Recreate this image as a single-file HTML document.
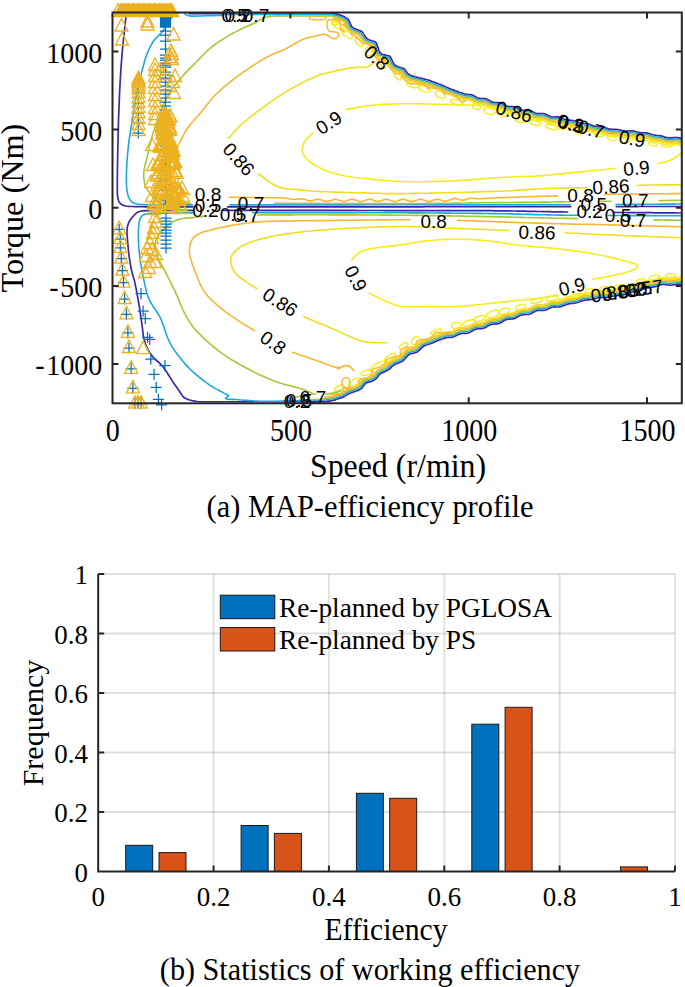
<!DOCTYPE html>
<html><head><meta charset="utf-8"><style>
html,body{margin:0;padding:0;background:#fff;}
body{width:685px;height:987px;overflow:hidden;font-family:"Liberation Serif",serif;}
svg{display:block;}
</style></head><body>
<svg width="685" height="987" viewBox="0 0 685 987">
<defs><clipPath id="cp"><rect x="113" y="13" width="568.5" height="389.5"/></clipPath></defs>
<g clip-path="url(#cp)">
<path d="M222.0,12.9 L222.8,12.9 L223.6,12.9 L224.4,12.9 L225.2,12.9 L226.0,12.9 L226.8,12.9 L227.6,12.9 L228.4,12.9 L229.2,12.9 L230.0,12.9 L230.8,12.9 L231.6,12.9 L232.5,12.9 L233.3,12.9 L234.1,12.9 L234.9,12.9 L235.7,12.9 L236.5,12.9 L237.3,12.9 L238.1,12.9 L238.9,12.9 L239.7,12.9 L240.5,12.9 L241.3,12.9 L242.1,12.9 L242.9,12.9 L243.7,12.9 L244.5,12.9 L245.3,12.9 L246.1,12.9 L246.9,12.9 L247.7,12.9 L248.5,12.9 L249.3,12.9 L250.1,12.9 L250.9,12.9 L251.8,12.9 L252.6,12.9 L253.4,12.9 L254.2,12.9 L255.0,12.9 L255.8,12.9 L256.6,12.9 L257.4,12.9 L258.2,12.9 L259.0,12.9 L259.8,12.9 L260.6,12.9 L261.4,12.9 L262.2,12.9 L263.0,12.9 L263.8,12.9 L264.6,12.9 L265.4,12.9 L266.2,12.9 L267.0,12.9 L267.8,12.9 L268.6,12.9 L269.4,12.9 L270.2,12.9 L271.1,12.9 L271.9,12.9 L272.7,12.9 L273.5,12.9 L274.3,12.9 L275.1,12.9 L275.9,12.9 L276.7,12.9 L277.5,12.9 L278.3,12.9 L279.1,12.9 L279.9,12.9 L280.7,12.9 L281.5,12.9 L282.3,12.9 L283.1,12.9 L283.9,12.9 L284.7,12.9 L285.5,12.9 L286.3,12.9 L287.1,12.9 L287.9,12.9 L288.7,12.9 L289.5,12.9 L290.4,12.9 L291.2,12.9 L292.0,12.9 L292.8,12.9 L293.6,12.9 L294.4,12.9 L295.2,12.9 L296.0,12.9 L296.8,12.9 L297.6,12.9 L298.4,12.9 L299.2,12.9 L300.0,12.9 L300.8,12.9 L301.6,12.9 L302.4,12.9 L303.3,12.9 L304.1,12.9 L304.9,12.9 L305.7,12.9 L306.5,12.9 L307.3,12.9 L308.1,12.9 L309.0,12.9 L309.8,12.9 L310.6,12.9 L311.4,12.9 L312.2,12.9 L313.0,12.9 L313.9,12.9 L314.7,12.9 L315.5,12.9 L316.3,12.9 L317.1,12.9 L317.9,12.9 L318.7,12.9 L319.6,12.9 L320.4,12.9 L321.2,12.9 L322.0,12.9 L322.8,12.9 L323.7,12.9 L324.5,12.9 L325.4,12.9 L326.2,13.0 L327.0,13.0 L327.9,13.0 L328.7,13.0 L329.6,13.0 L330.4,13.0 L331.2,13.1 L332.0,13.2 L332.9,13.4 L333.7,13.5 L334.5,13.6 L335.4,13.8 L336.2,13.9 L337.0,14.1 L337.8,14.3 L338.6,14.6 L339.3,14.8 L340.1,15.1 L340.9,15.4 L341.7,15.7 L342.4,15.9 L343.2,16.2 L344.0,16.6 L344.7,17.0 L345.5,17.4 L346.2,17.9 L347.0,18.4 L347.7,18.9 L348.3,19.4 L348.8,20.1 L349.1,20.9 L349.5,21.7 L349.8,22.5 L350.1,23.3 L350.4,24.1 L350.8,24.9 L351.1,25.7 L351.5,26.4 L352.1,27.0 L352.7,27.5 L353.4,28.0 L354.1,28.4 L354.8,28.8 L355.6,29.1 L356.4,29.4 L357.2,29.7 L358.0,30.0 L358.8,30.3 L359.6,30.6 L360.4,30.9 L361.2,31.2 L361.9,31.6 L362.4,32.2 L362.9,32.9 L363.3,33.6 L363.7,34.2 L364.1,34.9 L364.5,35.6 L365.0,36.3 L365.5,37.0 L366.1,37.6 L366.7,38.2 L367.4,38.9 L368.1,39.4 L368.8,39.7 L369.6,40.0 L370.4,40.2 L371.2,40.5 L372.0,40.8 L372.8,41.0 L373.6,41.2 L374.4,41.5 L375.2,41.8 L375.8,42.2 L376.2,42.8 L376.5,43.5 L376.8,44.3 L377.0,45.1 L377.3,45.8 L377.6,46.6 L377.8,47.4 L378.1,48.2 L378.4,48.9 L378.6,49.7 L378.9,50.5 L379.2,51.2 L379.5,51.9 L380.1,52.6 L380.7,53.2 L381.4,53.8 L382.1,54.3 L382.8,54.6 L383.6,54.8 L384.4,54.9 L385.2,55.1 L386.0,55.2 L386.8,55.4 L387.6,55.5 L388.4,55.7 L389.2,55.9 L389.8,56.2 L390.3,56.8 L390.7,57.5 L391.0,58.2 L391.4,59.0 L391.8,59.8 L392.1,60.5 L392.4,61.2 L392.8,62.0 L393.2,62.7 L393.6,63.5 L394.1,64.1 L394.8,64.8 L395.4,65.4 L396.1,65.9 L396.8,66.2 L397.5,66.5 L398.3,66.8 L399.1,67.0 L399.9,67.3 L400.6,67.5 L401.4,67.8 L402.2,68.0 L403.0,68.3 L403.7,68.6 L404.4,69.0 L405.0,69.6 L405.5,70.4 L406.0,71.2 L406.5,71.9 L407.0,72.7 L407.6,73.4 L408.3,73.9 L409.0,74.3 L409.8,74.8 L410.5,75.2 L411.3,75.6 L412.0,75.9 L412.8,76.2 L413.6,76.4 L414.4,76.6 L415.1,76.8 L415.9,77.0 L416.7,77.2 L417.5,77.4 L418.3,77.6 L419.1,77.8 L419.9,78.0 L420.6,78.1 L421.4,78.3 L422.2,78.5 L423.0,78.7 L423.8,78.9 L424.6,79.1 L425.4,79.3 L426.1,79.5 L426.9,79.7 L427.7,79.9 L428.5,80.1 L429.3,80.4 L430.0,80.7 L430.8,80.9 L431.6,81.2 L432.3,81.5 L433.1,81.8 L433.9,82.1 L434.6,82.3 L435.4,82.6 L436.2,82.9 L436.9,83.2 L437.7,83.5 L438.5,83.7 L439.2,84.0 L440.0,84.3 L440.8,84.7 L441.6,85.0 L442.4,85.4 L443.3,85.8 L444.1,86.1 L444.9,86.5 L445.7,86.8 L446.5,87.2 L447.3,87.5 L448.1,87.8 L448.8,88.2 L449.6,88.5 L450.4,88.8 L451.2,89.2 L452.0,89.5 L452.8,89.8 L453.6,90.1 L454.4,90.4 L455.2,90.7 L456.0,91.0 L456.8,91.3 L457.6,91.6 L458.4,91.9 L459.2,92.2 L460.0,92.5 L460.8,92.7 L461.7,92.9 L462.5,93.2 L463.3,93.5 L464.1,93.8 L464.9,94.0 L465.7,94.3 L466.5,94.4 L467.3,94.5 L468.2,94.6 L469.0,94.6 L469.9,94.6 L470.7,94.7 L471.5,94.8 L472.3,95.0 L473.0,95.3 L473.8,95.7 L474.5,96.1 L475.3,96.6 L476.0,97.0 L476.7,97.4 L477.5,97.8 L478.2,98.0 L479.0,98.3 L479.8,98.4 L480.7,98.5 L481.5,98.5 L482.4,98.5 L483.3,98.5 L484.1,98.5 L485.0,98.6 L485.8,98.7 L486.6,99.0 L487.4,99.3 L488.1,99.7 L488.9,100.1 L489.6,100.5 L490.3,101.0 L491.1,101.4 L491.8,101.8 L492.6,102.1 L493.4,102.3 L494.2,102.5 L495.1,102.6 L495.9,102.6 L496.8,102.6 L497.7,102.6 L498.5,102.6 L499.4,102.7 L500.2,102.8 L501.0,103.1 L501.8,103.4 L502.5,103.7 L503.3,104.1 L504.0,104.6 L504.7,105.0 L505.5,105.5 L506.2,105.8 L507.0,106.1 L507.8,106.4 L508.6,106.5 L509.5,106.6 L510.3,106.6 L511.2,106.6 L512.1,106.6 L512.9,106.6 L513.8,106.7 L514.6,106.8 L515.4,107.0 L516.2,107.3 L516.9,107.7 L517.7,108.1 L518.4,108.5 L519.1,109.0 L519.9,109.4 L520.7,109.8 L521.4,110.0 L522.2,110.2 L523.1,110.3 L523.9,110.4 L524.7,110.4 L525.6,110.3 L526.4,110.3 L527.3,110.2 L528.1,110.2 L528.9,110.3 L529.8,110.5 L530.5,110.7 L531.3,111.0 L532.1,111.4 L532.8,111.8 L533.6,112.2 L534.3,112.6 L535.1,113.0 L535.9,113.2 L536.6,113.5 L537.5,113.6 L538.3,113.7 L539.1,113.7 L540.0,113.6 L540.8,113.6 L541.6,113.5 L542.5,113.5 L543.3,113.6 L544.1,113.7 L544.8,113.9 L545.6,114.2 L546.4,114.5 L547.1,114.9 L547.8,115.3 L548.6,115.7 L549.3,116.1 L550.0,116.4 L550.8,116.7 L551.6,116.8 L552.4,117.0 L553.2,117.0 L554.0,117.0 L554.9,116.9 L555.7,116.9 L556.5,116.9 L557.3,116.9 L558.2,116.9 L558.9,117.1 L559.7,117.3 L560.4,117.8 L561.2,118.1 L562.0,118.4 L562.7,118.7 L563.5,119.0 L564.3,119.3 L565.1,119.6 L565.8,119.8 L566.6,119.9 L567.4,120.1 L568.3,120.1 L569.1,120.2 L569.9,120.2 L570.7,120.3 L571.5,120.4 L572.4,120.5 L573.2,120.6 L573.9,120.8 L574.7,121.0 L575.5,121.3 L576.3,121.6 L577.0,121.9 L577.8,122.2 L578.6,122.5 L579.3,122.8 L580.1,123.0 L580.9,123.2 L581.7,123.3 L582.5,123.4 L583.3,123.5 L584.2,123.5 L585.0,123.6 L585.8,123.6 L586.6,123.7 L587.4,123.8 L588.2,124.0 L589.0,124.2 L589.8,124.4 L590.5,124.7 L591.3,125.0 L592.1,125.3 L592.8,125.6 L593.6,125.9 L594.4,126.1 L595.2,126.3 L596.0,126.5 L596.8,126.6 L597.6,126.7 L598.4,126.7 L599.2,126.8 L600.0,126.8 L600.9,126.9 L601.7,126.9 L602.5,127.0 L603.3,127.2 L604.1,127.4 L604.8,127.6 L605.6,127.9 L606.4,128.1 L607.2,128.4 L608.0,128.7 L608.7,128.9 L609.5,129.1 L610.3,129.2 L611.1,129.3 L612.0,129.4 L612.8,129.4 L613.6,129.4 L614.4,129.4 L615.2,129.4 L616.0,129.4 L616.9,129.5 L617.7,129.5 L618.5,129.7 L619.3,129.8 L620.1,130.0 L620.9,130.2 L621.7,130.4 L622.5,130.6 L623.3,130.8 L624.1,130.9 L624.9,131.0 L625.7,131.0 L626.5,131.0 L627.3,131.0 L628.1,131.0 L629.0,130.9 L629.8,130.8 L630.6,130.8 L631.4,130.8 L632.2,130.8 L633.0,130.9 L633.8,131.1 L634.6,131.3 L635.4,131.5 L636.2,131.8 L637.0,132.0 L637.8,132.2 L638.6,132.4 L639.3,132.6 L640.1,132.7 L641.0,132.8 L641.8,132.8 L642.6,132.8 L643.4,132.8 L644.2,132.8 L645.1,132.8 L645.9,132.8 L646.7,132.9 L647.6,133.1 L648.4,133.3 L649.2,133.5 L650.0,133.8 L650.8,134.0 L651.6,134.3 L652.5,134.6 L653.3,134.8 L654.1,135.0 L654.9,135.2 L655.8,135.3 L656.6,135.5 L657.5,135.5 L658.3,135.6 L659.2,135.7 L660.1,135.8 L660.9,135.9 L661.8,136.1 L662.6,136.3 L663.4,136.6 L664.2,136.9 L665.0,137.1 L665.8,137.4 L666.6,137.6 L667.4,137.7 L668.2,137.8 L669.0,137.9 L669.8,137.9 L670.6,137.9 L671.5,137.9 L672.3,137.8 L673.1,137.7 L673.9,137.6 L674.7,137.6 L675.5,137.5 L676.4,137.5 L677.2,137.5 L678.0,137.6 L678.8,137.8 L679.6,137.9 L680.4,138.1 L681.2,138.3 L682.0,138.4" stroke="#3e26a8" stroke-width="1.7" fill="none" stroke-linejoin="round" stroke-linecap="round"/>
<path d="M222.0,14.5 L222.8,14.5 L223.6,14.5 L224.4,14.5 L225.2,14.5 L226.0,14.5 L226.8,14.5 L227.6,14.5 L228.4,14.5 L229.2,14.5 L230.0,14.5 L230.8,14.5 L231.6,14.5 L232.5,14.5 L233.3,14.5 L234.1,14.5 L234.9,14.5 L235.7,14.5 L236.5,14.5 L237.3,14.5 L238.1,14.5 L238.9,14.5 L239.7,14.5 L240.5,14.5 L241.3,14.5 L242.1,14.5 L242.9,14.5 L243.7,14.5 L244.5,14.5 L245.3,14.5 L246.1,14.5 L246.9,14.5 L247.7,14.5 L248.5,14.5 L249.3,14.5 L250.1,14.5 L250.9,14.5 L251.8,14.5 L252.6,14.5 L253.4,14.5 L254.2,14.5 L255.0,14.5 L255.8,14.5 L256.6,14.5 L257.4,14.5 L258.2,14.5 L259.0,14.5 L259.8,14.5 L260.6,14.5 L261.4,14.5 L262.2,14.5 L263.0,14.5 L263.8,14.5 L264.6,14.5 L265.4,14.5 L266.2,14.5 L267.0,14.5 L267.8,14.5 L268.6,14.5 L269.4,14.5 L270.2,14.5 L271.1,14.5 L271.9,14.5 L272.7,14.5 L273.5,14.5 L274.3,14.5 L275.1,14.5 L275.9,14.5 L276.7,14.5 L277.5,14.5 L278.3,14.5 L279.1,14.5 L279.9,14.5 L280.7,14.5 L281.5,14.5 L282.3,14.5 L283.1,14.5 L283.9,14.5 L284.7,14.5 L285.5,14.5 L286.3,14.5 L287.1,14.5 L287.9,14.5 L288.7,14.5 L289.5,14.5 L290.4,14.5 L291.2,14.5 L292.0,14.5 L292.8,14.5 L293.6,14.5 L294.4,14.5 L295.2,14.5 L296.0,14.5 L296.8,14.5 L297.6,14.5 L298.4,14.5 L299.2,14.5 L300.0,14.5 L300.8,14.5 L301.6,14.5 L302.4,14.5 L303.3,14.5 L304.1,14.5 L304.9,14.5 L305.7,14.5 L306.5,14.5 L307.3,14.5 L308.1,14.5 L309.0,14.5 L309.8,14.5 L310.6,14.5 L311.4,14.5 L312.2,14.5 L313.0,14.5 L313.9,14.5 L314.7,14.5 L315.5,14.5 L316.3,14.5 L317.1,14.5 L317.9,14.5 L318.7,14.5 L319.6,14.5 L320.4,14.5 L321.2,14.5 L322.0,14.5 L322.8,14.5 L323.7,14.5 L324.5,14.5 L325.3,14.5 L326.2,14.5 L327.0,14.6 L327.9,14.6 L328.7,14.6 L329.5,14.6 L330.3,14.6 L331.0,14.7 L331.8,14.8 L332.6,15.0 L333.5,15.1 L334.3,15.2 L335.1,15.3 L335.9,15.5 L336.6,15.6 L337.3,15.8 L338.0,16.1 L338.8,16.3 L339.6,16.6 L340.4,16.9 L341.1,17.2 L341.9,17.4 L342.6,17.7 L343.3,18.0 L344.0,18.4 L344.7,18.8 L345.4,19.3 L346.1,19.7 L346.7,20.1 L347.1,20.5 L347.4,21.0 L347.7,21.6 L348.0,22.3 L348.3,23.1 L348.6,23.9 L349.0,24.7 L349.3,25.6 L349.7,26.5 L350.2,27.3 L350.9,28.1 L351.7,28.7 L352.5,29.3 L353.3,29.8 L354.1,30.2 L355.0,30.6 L355.8,30.9 L356.6,31.2 L357.4,31.5 L358.2,31.8 L359.0,32.1 L359.8,32.4 L360.4,32.6 L360.9,32.9 L361.2,33.3 L361.5,33.8 L361.9,34.4 L362.3,35.1 L362.8,35.8 L363.2,36.5 L363.7,37.2 L364.2,38.0 L364.9,38.7 L365.6,39.4 L366.4,40.1 L367.2,40.7 L368.1,41.2 L369.1,41.5 L369.9,41.8 L370.7,42.0 L371.5,42.3 L372.3,42.5 L373.1,42.8 L373.8,43.0 L374.4,43.2 L374.7,43.3 L374.9,43.7 L375.1,44.2 L375.3,44.8 L375.5,45.6 L375.8,46.4 L376.1,47.1 L376.3,47.9 L376.6,48.7 L376.8,49.4 L377.1,50.2 L377.4,51.0 L377.7,51.9 L378.2,52.8 L378.8,53.6 L379.6,54.4 L380.4,55.1 L381.3,55.7 L382.3,56.1 L383.2,56.4 L384.1,56.5 L384.9,56.7 L385.7,56.8 L386.5,57.0 L387.3,57.1 L388.0,57.2 L388.5,57.3 L388.8,57.5 L389.1,57.8 L389.3,58.3 L389.6,58.9 L390.0,59.7 L390.3,60.4 L390.7,61.2 L391.0,61.9 L391.4,62.7 L391.8,63.6 L392.3,64.4 L392.9,65.2 L393.6,65.9 L394.4,66.6 L395.2,67.2 L396.1,67.7 L397.0,68.0 L397.8,68.3 L398.6,68.5 L399.4,68.8 L400.1,69.0 L400.9,69.3 L401.7,69.6 L402.4,69.8 L402.9,70.0 L403.4,70.2 L403.8,70.7 L404.2,71.3 L404.7,72.0 L405.2,72.8 L405.8,73.7 L406.5,74.5 L407.3,75.2 L408.2,75.7 L409.0,76.1 L409.8,76.6 L410.6,77.0 L411.4,77.4 L412.3,77.7 L413.1,77.9 L414.0,78.1 L414.8,78.3 L415.5,78.5 L416.3,78.7 L417.1,78.9 L417.9,79.1 L418.7,79.3 L419.5,79.5 L420.3,79.7 L421.0,79.9 L421.8,80.1 L422.6,80.3 L423.4,80.5 L424.2,80.7 L425.0,80.9 L425.8,81.1 L426.5,81.3 L427.3,81.5 L428.0,81.7 L428.8,81.9 L429.5,82.2 L430.3,82.4 L431.0,82.7 L431.8,83.0 L432.6,83.3 L433.3,83.6 L434.1,83.8 L434.9,84.1 L435.6,84.4 L436.4,84.7 L437.1,85.0 L437.9,85.2 L438.7,85.5 L439.4,85.8 L440.2,86.1 L441.0,86.5 L441.8,86.9 L442.6,87.2 L443.4,87.6 L444.3,88.0 L445.1,88.3 L445.9,88.6 L446.6,89.0 L447.4,89.3 L448.2,89.6 L449.0,90.0 L449.8,90.3 L450.6,90.6 L451.4,91.0 L452.2,91.3 L453.0,91.6 L453.8,91.9 L454.6,92.2 L455.4,92.5 L456.2,92.8 L457.0,93.1 L457.9,93.4 L458.7,93.7 L459.5,94.0 L460.4,94.2 L461.2,94.5 L462.1,94.7 L462.9,95.0 L463.7,95.3 L464.5,95.6 L465.3,95.8 L466.1,96.0 L466.9,96.1 L467.8,96.1 L468.6,96.1 L469.5,96.1 L470.3,96.2 L471.1,96.4 L471.9,96.6 L472.6,96.9 L473.4,97.3 L474.1,97.7 L474.8,98.1 L475.6,98.6 L476.3,99.0 L477.1,99.3 L477.8,99.6 L478.6,99.8 L479.4,99.9 L480.3,100.0 L481.1,100.0 L482.0,100.0 L482.8,100.0 L483.7,100.0 L484.5,100.1 L485.4,100.3 L486.1,100.5 L486.9,100.8 L487.7,101.2 L488.4,101.6 L489.2,102.1 L489.9,102.5 L490.6,103.0 L491.4,103.3 L492.2,103.7 L493.0,103.9 L493.8,104.0 L494.6,104.1 L495.5,104.1 L496.4,104.1 L497.2,104.1 L498.1,104.1 L498.9,104.2 L499.8,104.4 L500.6,104.6 L501.3,104.9 L502.1,105.3 L502.8,105.7 L503.6,106.1 L504.3,106.6 L505.1,107.0 L505.8,107.4 L506.6,107.7 L507.4,107.9 L508.2,108.1 L509.1,108.1 L509.9,108.1 L510.8,108.1 L511.6,108.1 L512.5,108.1 L513.3,108.2 L514.2,108.3 L515.0,108.6 L515.7,108.8 L516.5,109.2 L517.2,109.6 L518.0,110.1 L518.7,110.5 L519.5,111.0 L520.3,111.3 L521.1,111.6 L521.9,111.8 L522.7,111.9 L523.5,111.9 L524.4,111.9 L525.2,111.9 L526.1,111.8 L526.9,111.8 L527.8,111.8 L528.6,111.9 L529.4,112.0 L530.2,112.3 L531.0,112.6 L531.7,113.0 L532.5,113.4 L533.2,113.8 L534.0,114.2 L534.7,114.5 L535.5,114.8 L536.3,115.0 L537.1,115.2 L537.9,115.2 L538.8,115.2 L539.6,115.2 L540.5,115.1 L541.3,115.1 L542.1,115.1 L542.9,115.1 L543.7,115.3 L544.5,115.5 L545.3,115.7 L546.0,116.1 L546.7,116.5 L547.5,116.9 L548.2,117.3 L548.9,117.6 L549.7,118.0 L550.4,118.2 L551.2,118.4 L552.0,118.5 L552.8,118.6 L553.7,118.5 L554.5,118.5 L555.3,118.4 L556.2,118.4 L557.0,118.4 L557.8,118.5 L558.6,118.7 L559.4,118.9 L560.1,119.4 L560.9,119.7 L561.6,120.0 L562.4,120.3 L563.2,120.6 L563.9,120.9 L564.7,121.1 L565.5,121.3 L566.3,121.5 L567.1,121.6 L567.9,121.7 L568.7,121.8 L569.6,121.8 L570.4,121.9 L571.2,121.9 L572.0,122.0 L572.8,122.2 L573.6,122.4 L574.4,122.6 L575.1,122.9 L575.9,123.2 L576.7,123.5 L577.4,123.8 L578.2,124.1 L579.0,124.3 L579.8,124.6 L580.6,124.7 L581.4,124.9 L582.2,125.0 L583.0,125.0 L583.8,125.1 L584.6,125.1 L585.5,125.2 L586.3,125.3 L587.1,125.4 L587.9,125.5 L588.7,125.8 L589.4,126.0 L590.2,126.3 L591.0,126.6 L591.7,126.9 L592.5,127.2 L593.3,127.5 L594.0,127.7 L594.8,127.9 L595.6,128.1 L596.4,128.2 L597.2,128.2 L598.1,128.3 L598.9,128.3 L599.7,128.4 L600.6,128.4 L601.4,128.5 L602.2,128.6 L603.0,128.8 L603.8,128.9 L604.6,129.2 L605.3,129.4 L606.1,129.7 L606.9,130.0 L607.7,130.2 L608.5,130.5 L609.3,130.6 L610.1,130.8 L610.9,130.9 L611.7,130.9 L612.5,131.0 L613.3,131.0 L614.2,131.0 L615.0,131.0 L615.8,131.0 L616.7,131.1 L617.5,131.1 L618.3,131.2 L619.1,131.4 L619.9,131.6 L620.7,131.8 L621.5,132.0 L622.3,132.2 L623.1,132.3 L623.9,132.5 L624.7,132.6 L625.5,132.6 L626.4,132.6 L627.2,132.6 L628.0,132.5 L628.8,132.5 L629.6,132.4 L630.5,132.4 L631.3,132.4 L632.1,132.4 L632.9,132.5 L633.6,132.7 L634.4,132.9 L635.2,133.1 L636.0,133.4 L636.8,133.6 L637.5,133.8 L638.3,134.0 L639.1,134.2 L639.9,134.3 L640.7,134.4 L641.5,134.4 L642.4,134.4 L643.2,134.4 L644.0,134.4 L644.8,134.4 L645.6,134.4 L646.5,134.5 L647.3,134.6 L648.1,134.8 L648.9,135.1 L649.7,135.3 L650.6,135.6 L651.4,135.9 L652.2,136.2 L653.0,136.4 L653.8,136.6 L654.6,136.8 L655.4,136.9 L656.2,137.0 L657.1,137.1 L657.9,137.2 L658.8,137.2 L659.7,137.3 L660.5,137.5 L661.4,137.6 L662.2,137.9 L663.0,138.1 L663.9,138.4 L664.8,138.7 L665.6,139.0 L666.5,139.2 L667.3,139.3 L668.1,139.4 L668.9,139.5 L669.8,139.5 L670.6,139.5 L671.4,139.5 L672.2,139.4 L673.0,139.3 L673.8,139.2 L674.6,139.2 L675.5,139.1 L676.3,139.1 L677.1,139.1 L677.9,139.2 L678.7,139.4 L679.5,139.5 L680.3,139.7 L681.1,139.9 L681.9,140.0" stroke="#1aa9db" stroke-width="1.5" fill="none" stroke-linejoin="round" stroke-linecap="round"/>
<path d="M278.3,15.9 L279.1,15.9 L279.9,15.9 L280.7,15.9 L281.5,15.9 L282.3,15.9 L283.1,15.9 L283.9,15.9 L284.7,15.9 L285.5,15.9 L286.3,15.9 L287.1,15.9 L287.9,15.9 L288.7,15.9 L289.5,15.9 L290.4,15.9 L291.2,15.9 L292.0,15.9 L292.8,15.9 L293.6,15.9 L294.4,15.9 L295.2,15.9 L296.0,15.9 L296.8,15.9 L297.6,15.9 L298.4,15.9 L299.2,15.9 L300.0,15.9 L300.8,15.9 L301.6,15.9 L302.4,15.9 L303.3,15.9 L304.1,15.9 L304.9,15.9 L305.7,15.9 L306.5,15.9 L307.3,15.9 L308.1,15.9 L309.0,15.9 L309.8,15.9 L310.6,15.9 L311.4,15.9 L312.2,15.9 L313.0,15.9 L313.9,15.9 L314.7,15.9 L315.5,15.9 L316.3,15.9 L317.1,15.9 L317.9,15.9 L318.7,15.9 L319.6,15.9 L320.4,15.9 L321.2,15.9 L322.0,15.9 L322.8,15.9 L323.6,15.9 L324.5,15.9 L325.3,15.9 L326.2,15.9 L327.0,16.0 L327.8,16.0 L328.6,16.0 L329.4,16.0 L330.2,16.0 L330.9,16.1 L331.6,16.2 L332.4,16.3 L333.3,16.5 L334.1,16.6 L334.8,16.7 L335.6,16.8 L336.3,17.0 L336.9,17.2 L337.6,17.4 L338.3,17.7 L339.1,17.9 L339.9,18.2 L340.6,18.5 L341.4,18.7 L342.0,19.0 L342.7,19.3 L343.3,19.6 L344.0,20.0 L344.7,20.4 L345.3,20.8 L345.8,21.1 L346.0,21.4 L346.2,21.7 L346.4,22.2 L346.7,22.8 L347.0,23.6 L347.3,24.4 L347.7,25.2 L348.0,26.1 L348.5,27.2 L349.1,28.2 L349.9,29.1 L350.8,29.8 L351.7,30.5 L352.6,31.1 L353.5,31.5 L354.5,31.9 L355.3,32.2 L356.1,32.5 L356.9,32.8 L357.7,33.1 L358.5,33.4 L359.2,33.6 L359.7,33.8 L360.0,34.0 L360.2,34.2 L360.4,34.6 L360.7,35.2 L361.1,35.8 L361.6,36.5 L362.0,37.3 L362.6,38.1 L363.2,38.9 L363.9,39.7 L364.7,40.5 L365.5,41.2 L366.5,41.9 L367.6,42.5 L368.6,42.8 L369.5,43.1 L370.3,43.4 L371.1,43.6 L371.9,43.9 L372.7,44.1 L373.3,44.3 L373.6,44.4 L373.7,44.4 L373.7,44.4 L373.8,44.7 L374.0,45.3 L374.2,46.0 L374.5,46.8 L374.7,47.6 L375.0,48.4 L375.3,49.1 L375.5,49.9 L375.8,50.7 L376.1,51.6 L376.5,52.6 L377.0,53.6 L377.8,54.5 L378.6,55.4 L379.6,56.3 L380.6,57.0 L381.8,57.4 L382.9,57.7 L383.8,57.9 L384.6,58.0 L385.4,58.2 L386.2,58.3 L387.0,58.5 L387.6,58.6 L387.9,58.6 L388.0,58.6 L388.0,58.7 L388.1,59.0 L388.3,59.6 L388.7,60.3 L389.0,61.0 L389.4,61.8 L389.7,62.5 L390.1,63.4 L390.6,64.3 L391.2,65.2 L391.9,66.1 L392.6,66.9 L393.5,67.7 L394.5,68.4 L395.5,68.9 L396.5,69.3 L397.4,69.6 L398.2,69.9 L398.9,70.1 L399.7,70.4 L400.5,70.6 L401.2,70.9 L401.8,71.1 L402.2,71.2 L402.5,71.3 L402.7,71.6 L403.1,72.1 L403.5,72.8 L404.0,73.7 L404.7,74.6 L405.5,75.5 L406.5,76.3 L407.4,76.9 L408.3,77.4 L409.1,77.8 L410.0,78.3 L410.9,78.7 L411.9,79.0 L412.8,79.3 L413.6,79.5 L414.4,79.7 L415.2,79.9 L416.0,80.1 L416.8,80.3 L417.6,80.5 L418.3,80.7 L419.1,80.9 L419.9,81.1 L420.7,81.3 L421.5,81.4 L422.3,81.6 L423.1,81.8 L423.8,82.0 L424.6,82.2 L425.4,82.4 L426.2,82.6 L426.9,82.8 L427.6,83.0 L428.3,83.2 L429.0,83.5 L429.8,83.8 L430.5,84.0 L431.3,84.3 L432.1,84.6 L432.8,84.9 L433.6,85.2 L434.4,85.4 L435.1,85.7 L435.9,86.0 L436.7,86.3 L437.4,86.6 L438.2,86.8 L438.9,87.1 L439.6,87.4 L440.4,87.8 L441.2,88.1 L442.0,88.5 L442.9,88.9 L443.7,89.2 L444.5,89.6 L445.3,89.9 L446.1,90.3 L446.9,90.6 L447.7,90.9 L448.5,91.3 L449.3,91.6 L450.1,91.9 L450.9,92.3 L451.7,92.6 L452.5,92.9 L453.3,93.2 L454.1,93.5 L454.9,93.8 L455.7,94.1 L456.6,94.4 L457.4,94.7 L458.2,95.0 L459.1,95.3 L460.0,95.6 L460.9,95.8 L461.7,96.1 L462.5,96.4 L463.4,96.7 L464.2,96.9 L465.0,97.2 L465.8,97.3 L466.6,97.4 L467.4,97.5 L468.2,97.5 L469.1,97.5 L469.9,97.6 L470.7,97.7 L471.5,97.9 L472.3,98.2 L473.0,98.6 L473.8,99.0 L474.5,99.5 L475.2,99.9 L475.9,100.3 L476.7,100.7 L477.5,100.9 L478.2,101.1 L479.0,101.3 L479.9,101.3 L480.7,101.4 L481.6,101.4 L482.4,101.4 L483.3,101.4 L484.1,101.5 L485.0,101.6 L485.8,101.8 L486.5,102.2 L487.3,102.5 L488.0,103.0 L488.8,103.4 L489.5,103.9 L490.3,104.3 L491.0,104.7 L491.8,105.0 L492.6,105.2 L493.4,105.4 L494.3,105.4 L495.1,105.5 L496.0,105.5 L496.8,105.5 L497.7,105.5 L498.6,105.6 L499.4,105.7 L500.2,105.9 L501.0,106.2 L501.7,106.6 L502.5,107.0 L503.2,107.5 L503.9,107.9 L504.7,108.4 L505.4,108.7 L506.2,109.0 L507.0,109.3 L507.8,109.4 L508.7,109.5 L509.5,109.5 L510.4,109.5 L511.3,109.5 L512.1,109.5 L513.0,109.6 L513.8,109.7 L514.6,109.9 L515.4,110.2 L516.1,110.6 L516.9,111.0 L517.6,111.4 L518.4,111.9 L519.2,112.3 L520.0,112.7 L520.8,112.9 L521.6,113.1 L522.4,113.3 L523.2,113.3 L524.1,113.3 L524.9,113.2 L525.8,113.2 L526.6,113.2 L527.5,113.2 L528.3,113.2 L529.1,113.4 L529.9,113.6 L530.7,114.0 L531.4,114.3 L532.2,114.7 L532.9,115.1 L533.7,115.5 L534.4,115.9 L535.2,116.2 L536.0,116.4 L536.8,116.5 L537.6,116.6 L538.5,116.6 L539.3,116.5 L540.1,116.5 L541.0,116.5 L541.8,116.5 L542.6,116.5 L543.4,116.6 L544.2,116.8 L544.9,117.1 L545.7,117.5 L546.4,117.8 L547.2,118.2 L547.9,118.6 L548.6,119.0 L549.4,119.3 L550.1,119.6 L550.9,119.8 L551.7,119.9 L552.5,119.9 L553.4,119.9 L554.2,119.9 L555.0,119.8 L555.9,119.8 L556.7,119.8 L557.5,119.9 L558.3,120.0 L559.1,120.3 L559.8,120.8 L560.6,121.1 L561.3,121.4 L562.1,121.7 L562.8,122.0 L563.6,122.3 L564.4,122.5 L565.2,122.7 L566.0,122.9 L566.8,123.0 L567.6,123.1 L568.4,123.1 L569.2,123.2 L570.1,123.2 L570.9,123.3 L571.7,123.4 L572.5,123.5 L573.3,123.7 L574.1,124.0 L574.8,124.2 L575.6,124.5 L576.4,124.8 L577.1,125.1 L577.9,125.4 L578.7,125.7 L579.5,125.9 L580.3,126.1 L581.1,126.2 L581.9,126.3 L582.7,126.4 L583.5,126.5 L584.3,126.5 L585.2,126.6 L586.0,126.6 L586.8,126.8 L587.6,126.9 L588.3,127.1 L589.1,127.4 L589.9,127.6 L590.7,128.0 L591.4,128.3 L592.2,128.6 L593.0,128.8 L593.7,129.1 L594.5,129.3 L595.3,129.4 L596.1,129.5 L596.9,129.6 L597.8,129.7 L598.6,129.7 L599.5,129.8 L600.3,129.8 L601.1,129.9 L601.9,130.0 L602.7,130.1 L603.5,130.3 L604.3,130.6 L605.1,130.8 L605.9,131.1 L606.7,131.4 L607.4,131.6 L608.2,131.8 L609.0,132.0 L609.8,132.2 L610.6,132.3 L611.4,132.3 L612.3,132.3 L613.1,132.4 L613.9,132.4 L614.8,132.4 L615.7,132.4 L616.5,132.5 L617.4,132.5 L618.2,132.6 L619.0,132.8 L619.8,133.0 L620.6,133.2 L621.4,133.4 L622.2,133.6 L623.0,133.7 L623.8,133.9 L624.6,134.0 L625.4,134.0 L626.2,134.0 L627.1,134.0 L627.9,133.9 L628.7,133.9 L629.5,133.8 L630.3,133.8 L631.1,133.8 L631.9,133.8 L632.7,133.9 L633.5,134.1 L634.2,134.3 L635.0,134.5 L635.8,134.7 L636.6,135.0 L637.3,135.2 L638.1,135.4 L638.9,135.6 L639.7,135.7 L640.5,135.7 L641.3,135.8 L642.2,135.8 L643.0,135.8 L643.8,135.7 L644.6,135.7 L645.4,135.8 L646.2,135.9 L647.0,136.0 L647.9,136.2 L648.7,136.4 L649.5,136.7 L650.3,137.0 L651.1,137.3 L651.9,137.6 L652.7,137.8 L653.5,138.0 L654.3,138.1 L655.1,138.3 L655.9,138.4 L656.7,138.5 L657.6,138.5 L658.5,138.6 L659.3,138.7 L660.2,138.8 L661.0,139.0 L661.9,139.2 L662.7,139.5 L663.6,139.8 L664.6,140.1 L665.5,140.4 L666.4,140.6 L667.2,140.7 L668.1,140.8 L668.9,140.9 L669.7,140.9 L670.5,140.9 L671.3,140.9 L672.1,140.8 L672.9,140.7 L673.8,140.6 L674.6,140.5 L675.4,140.5 L676.2,140.5 L677.0,140.5 L677.8,140.6 L678.6,140.8 L679.4,140.9 L680.2,141.1 L681.0,141.3 L681.8,141.4" stroke="#a3c83a" stroke-width="1.5" fill="none" stroke-linejoin="round" stroke-linecap="round"/>
<path d="M333.9,18.0 L334.6,18.1 L335.3,18.2 L335.9,18.3 L336.5,18.5 L337.2,18.7 L337.9,19.0 L338.6,19.3 L339.4,19.5 L340.2,19.8 L340.9,20.1 L341.5,20.3 L342.1,20.5 L342.6,20.8 L343.2,21.2 L343.9,21.6 L344.5,22.0 L344.8,22.2 L345.0,22.3 L345.0,22.4 L345.2,22.8 L345.4,23.4 L345.7,24.1 L346.0,24.9 L346.4,25.8 L346.8,26.7 L347.3,27.9 L348.0,29.0 L348.9,30.1 L349.9,30.9 L350.9,31.7 L351.9,32.3 L353.0,32.8 L353.9,33.2 L354.8,33.5 L355.7,33.8 L356.5,34.1 L357.3,34.4 L358.0,34.7 L358.6,34.9 L359.0,35.0 L359.1,35.1 L359.1,35.2 L359.3,35.4 L359.6,35.9 L360.0,36.6 L360.4,37.3 L360.9,38.0 L361.4,38.9 L362.1,39.8 L362.8,40.6 L363.7,41.5 L364.7,42.3 L365.8,43.1 L367.0,43.7 L368.1,44.1 L369.1,44.4 L369.9,44.7 L370.7,44.9 L371.5,45.2 L372.2,45.4 L372.8,45.6 L372.9,45.6 L372.8,45.4 L372.5,45.2 L372.5,45.3 L372.6,45.8 L372.9,46.5 L373.1,47.3 L373.4,48.0 L373.7,48.8 L373.9,49.6 L374.2,50.3 L374.5,51.1 L374.8,52.1 L375.2,53.2 L375.9,54.4 L376.7,55.4 L377.7,56.4 L378.8,57.4 L380.0,58.2 L381.3,58.8 L382.5,59.1 L383.5,59.3 L384.4,59.4 L385.2,59.6 L386.0,59.7 L386.7,59.9 L387.2,59.9 L387.4,59.9 L387.1,59.7 L386.9,59.5 L386.9,59.7 L387.1,60.2 L387.4,60.9 L387.8,61.6 L388.1,62.4 L388.5,63.1 L388.9,64.0 L389.4,65.0 L390.0,66.0 L390.8,67.0 L391.7,67.9 L392.6,68.8 L393.7,69.6 L394.9,70.2 L396.0,70.6 L396.9,70.9 L397.7,71.2 L398.5,71.5 L399.3,71.7 L400.0,72.0 L400.8,72.2 L401.3,72.4 L401.5,72.4 L401.6,72.4 L401.7,72.5 L401.9,72.9 L402.3,73.6 L402.9,74.5 L403.6,75.5 L404.5,76.5 L405.6,77.4 L406.7,78.1 L407.6,78.6 L408.5,79.1 L409.4,79.5 L410.4,80.0 L411.4,80.4 L412.4,80.6 L413.3,80.9 L414.1,81.1 L414.9,81.2 L415.7,81.4 L416.4,81.6 L417.2,81.8 L418.0,82.0 L418.8,82.2 L419.6,82.4 L420.4,82.6 L421.2,82.8 L421.9,83.0 L422.7,83.2 L423.5,83.4 L424.3,83.6 L425.1,83.8 L425.8,84.0 L426.5,84.1 L427.2,84.3 L427.9,84.6 L428.6,84.8 L429.3,85.1 L430.1,85.4 L430.8,85.6 L431.6,85.9 L432.4,86.2 L433.1,86.5 L433.9,86.8 L434.7,87.0 L435.4,87.3 L436.2,87.6 L436.9,87.9 L437.6,88.1 L438.4,88.4 L439.1,88.7 L439.9,89.1 L440.7,89.4 L441.5,89.8 L442.3,90.2 L443.1,90.5 L443.9,90.9 L444.8,91.2 L445.6,91.6 L446.3,91.9 L447.1,92.2 L447.9,92.6 L448.7,92.9 L449.5,93.2 L450.4,93.6 L451.2,93.9 L452.0,94.2 L452.9,94.5 L453.7,94.8 L454.5,95.1 L455.3,95.4 L456.1,95.7 L456.9,96.0 L457.8,96.4 L458.7,96.7 L459.6,96.9 L460.5,97.2 L461.4,97.4 L462.2,97.7 L463.0,98.0 L463.8,98.3 L464.6,98.5 L465.4,98.7 L466.2,98.8 L467.0,98.8 L467.9,98.8 L468.7,98.8 L469.6,98.9 L470.4,99.1 L471.1,99.3 L471.9,99.6 L472.7,100.0 L473.4,100.4 L474.1,100.8 L474.8,101.3 L475.6,101.7 L476.3,102.0 L477.1,102.3 L477.9,102.5 L478.7,102.6 L479.5,102.7 L480.3,102.7 L481.2,102.7 L482.1,102.7 L482.9,102.7 L483.8,102.8 L484.6,103.0 L485.4,103.2 L486.2,103.5 L486.9,103.9 L487.7,104.3 L488.4,104.8 L489.1,105.2 L489.9,105.7 L490.6,106.0 L491.4,106.3 L492.2,106.6 L493.0,106.7 L493.9,106.8 L494.7,106.8 L495.6,106.8 L496.5,106.8 L497.3,106.8 L498.2,106.9 L499.0,107.1 L499.8,107.3 L500.6,107.6 L501.4,108.0 L502.1,108.4 L502.8,108.8 L503.6,109.3 L504.3,109.7 L505.1,110.1 L505.9,110.4 L506.7,110.6 L507.5,110.8 L508.3,110.8 L509.2,110.8 L510.0,110.8 L510.9,110.8 L511.7,110.8 L512.6,110.9 L513.4,111.0 L514.2,111.3 L515.0,111.5 L515.8,111.9 L516.5,112.3 L517.3,112.8 L518.0,113.2 L518.8,113.7 L519.6,114.0 L520.5,114.3 L521.3,114.5 L522.1,114.6 L522.9,114.7 L523.8,114.6 L524.6,114.6 L525.5,114.5 L526.3,114.5 L527.2,114.5 L528.0,114.6 L528.8,114.8 L529.6,115.0 L530.3,115.3 L531.1,115.7 L531.9,116.1 L532.6,116.5 L533.4,116.9 L534.1,117.3 L534.9,117.5 L535.7,117.8 L536.5,117.9 L537.3,117.9 L538.2,117.9 L539.0,117.9 L539.8,117.9 L540.7,117.8 L541.5,117.8 L542.3,117.9 L543.1,118.0 L543.9,118.2 L544.6,118.5 L545.4,118.8 L546.1,119.2 L546.8,119.6 L547.6,120.0 L548.3,120.4 L549.1,120.7 L549.8,121.0 L550.6,121.1 L551.4,121.2 L552.2,121.3 L553.0,121.3 L553.9,121.2 L554.7,121.2 L555.5,121.1 L556.4,121.2 L557.2,121.2 L558.0,121.4 L558.8,121.6 L559.5,122.1 L560.2,122.4 L561.0,122.7 L561.8,123.0 L562.5,123.3 L563.3,123.6 L564.1,123.9 L564.9,124.1 L565.7,124.2 L566.5,124.4 L567.3,124.4 L568.1,124.5 L568.9,124.5 L569.8,124.6 L570.6,124.7 L571.4,124.8 L572.2,124.9 L573.0,125.1 L573.8,125.3 L574.5,125.6 L575.3,125.9 L576.1,126.2 L576.8,126.5 L577.6,126.8 L578.4,127.1 L579.2,127.3 L580.0,127.5 L580.8,127.6 L581.6,127.7 L582.4,127.8 L583.2,127.8 L584.0,127.9 L584.9,127.9 L585.7,128.0 L586.5,128.1 L587.3,128.3 L588.0,128.5 L588.8,128.7 L589.6,129.0 L590.4,129.3 L591.1,129.6 L591.9,129.9 L592.7,130.2 L593.4,130.4 L594.2,130.6 L595.0,130.8 L595.8,130.9 L596.6,131.0 L597.5,131.0 L598.3,131.1 L599.2,131.1 L600.0,131.2 L600.9,131.3 L601.7,131.4 L602.5,131.5 L603.3,131.7 L604.1,131.9 L604.9,132.2 L605.6,132.5 L606.4,132.7 L607.2,133.0 L608.0,133.2 L608.8,133.4 L609.6,133.5 L610.4,133.6 L611.2,133.7 L612.0,133.7 L612.8,133.7 L613.7,133.7 L614.6,133.8 L615.5,133.8 L616.4,133.9 L617.2,133.9 L618.1,134.0 L618.9,134.2 L619.7,134.4 L620.5,134.6 L621.3,134.8 L622.1,135.0 L622.9,135.1 L623.7,135.3 L624.5,135.4 L625.3,135.4 L626.1,135.4 L626.9,135.4 L627.7,135.3 L628.6,135.3 L629.4,135.2 L630.2,135.2 L631.0,135.2 L631.8,135.2 L632.5,135.3 L633.3,135.5 L634.0,135.7 L634.8,135.9 L635.6,136.1 L636.4,136.4 L637.1,136.6 L637.9,136.8 L638.7,137.0 L639.5,137.1 L640.3,137.1 L641.1,137.2 L642.0,137.2 L642.8,137.1 L643.6,137.1 L644.4,137.1 L645.2,137.2 L646.0,137.2 L646.8,137.4 L647.6,137.6 L648.4,137.8 L649.2,138.1 L650.1,138.4 L650.9,138.7 L651.7,138.9 L652.5,139.2 L653.2,139.4 L654.0,139.5 L654.8,139.6 L655.6,139.7 L656.4,139.8 L657.3,139.9 L658.1,140.0 L659.0,140.0 L659.9,140.2 L660.7,140.3 L661.5,140.6 L662.4,140.9 L663.4,141.2 L664.3,141.5 L665.3,141.8 L666.3,142.0 L667.2,142.1 L668.0,142.2 L668.8,142.3 L669.6,142.3 L670.4,142.3 L671.2,142.3 L672.0,142.2 L672.9,142.1 L673.7,142.0 L674.5,141.9 L675.3,141.9 L676.1,141.9 L676.9,141.9 L677.7,142.0 L678.5,142.2 L679.3,142.3 L680.1,142.5 L681.0,142.7 L681.8,142.8" stroke="#f8b733" stroke-width="1.5" fill="none" stroke-linejoin="round" stroke-linecap="round"/>
<path d="M370.3,46.3 L371.1,46.5 L371.8,46.8 L372.3,46.9 L372.2,46.8 L371.8,46.4 L371.3,45.9 L371.2,45.8 L371.3,46.2 L371.6,46.9 L371.8,47.7 L372.1,48.5 L372.3,49.3 L372.6,50.0 L372.9,50.8 L373.1,51.6 L373.5,52.6 L374.0,53.8 L374.7,55.1 L375.6,56.3 L376.7,57.5 L377.9,58.5 L379.3,59.4 L380.8,60.1 L382.2,60.4 L383.3,60.6 L384.1,60.8 L384.9,61.0 L385.7,61.1 L386.5,61.2 L386.9,61.3 L386.8,61.2 L386.3,60.8 L385.8,60.4 L385.7,60.4 L385.8,60.8 L386.1,61.5 L386.5,62.2 L386.8,63.0 L387.2,63.7 L387.6,64.6 L388.2,65.7 L388.9,66.8 L389.7,67.9 L390.7,68.9 L391.8,69.9 L393.0,70.8 L394.3,71.5 L395.5,71.9 L396.5,72.3 L397.3,72.5 L398.0,72.8 L398.8,73.0 L399.6,73.3 L400.3,73.5 L400.8,73.7 L400.9,73.6 L400.7,73.5 L400.7,73.5 L400.8,73.7 L401.2,74.3 L401.7,75.3 L402.5,76.4 L403.6,77.5 L404.8,78.5 L405.9,79.3 L406.9,79.8 L407.8,80.3 L408.8,80.8 L409.9,81.3 L411.0,81.7 L412.0,82.0 L412.9,82.2 L413.7,82.4 L414.5,82.6 L415.3,82.8 L416.1,83.0 L416.9,83.2 L417.7,83.4 L418.5,83.6 L419.2,83.8 L420.0,84.0 L420.8,84.2 L421.6,84.4 L422.4,84.6 L423.2,84.8 L424.0,84.9 L424.7,85.1 L425.5,85.3 L426.2,85.5 L426.8,85.7 L427.4,85.9 L428.1,86.1 L428.8,86.4 L429.6,86.7 L430.3,86.9 L431.1,87.2 L431.9,87.5 L432.6,87.8 L433.4,88.1 L434.2,88.3 L434.9,88.6 L435.7,88.9 L436.4,89.2 L437.1,89.4 L437.8,89.7 L438.5,90.0 L439.3,90.3 L440.1,90.7 L440.9,91.1 L441.7,91.4 L442.6,91.8 L443.4,92.2 L444.2,92.5 L445.0,92.8 L445.8,93.2 L446.6,93.5 L447.4,93.8 L448.2,94.2 L449.0,94.5 L449.9,94.9 L450.7,95.2 L451.5,95.5 L452.4,95.8 L453.2,96.1 L454.0,96.4 L454.8,96.7 L455.6,97.0 L456.4,97.4 L457.3,97.7 L458.3,98.0 L459.2,98.3 L460.2,98.5 L461.0,98.8 L461.8,99.1 L462.6,99.4 L463.4,99.6 L464.2,99.9 L465.0,100.0 L465.8,100.1 L466.7,100.2 L467.5,100.2 L468.4,100.2 L469.2,100.3 L470.0,100.4 L470.8,100.6 L471.5,101.0 L472.3,101.3 L473.0,101.7 L473.8,102.2 L474.5,102.6 L475.2,103.0 L476.0,103.4 L476.7,103.7 L477.5,103.8 L478.3,104.0 L479.1,104.0 L480.0,104.1 L480.8,104.0 L481.7,104.0 L482.5,104.1 L483.4,104.2 L484.2,104.3 L485.0,104.5 L485.8,104.9 L486.5,105.2 L487.3,105.7 L488.0,106.1 L488.7,106.6 L489.5,107.0 L490.2,107.4 L491.0,107.7 L491.8,107.9 L492.6,108.1 L493.5,108.1 L494.3,108.2 L495.2,108.2 L496.1,108.2 L496.9,108.2 L497.8,108.3 L498.6,108.4 L499.4,108.6 L500.2,108.9 L501.0,109.3 L501.7,109.7 L502.5,110.2 L503.2,110.6 L503.9,111.1 L504.7,111.4 L505.5,111.7 L506.3,112.0 L507.1,112.1 L507.9,112.2 L508.8,112.2 L509.7,112.2 L510.5,112.2 L511.4,112.2 L512.2,112.3 L513.0,112.4 L513.8,112.6 L514.6,112.9 L515.4,113.3 L516.1,113.7 L516.9,114.1 L517.7,114.6 L518.5,115.0 L519.3,115.4 L520.1,115.7 L521.0,115.9 L521.8,116.0 L522.6,116.0 L523.5,116.0 L524.3,116.0 L525.2,115.9 L526.0,115.9 L526.9,115.9 L527.7,116.0 L528.5,116.1 L529.3,116.4 L530.0,116.7 L530.8,117.1 L531.5,117.5 L532.3,117.9 L533.0,118.3 L533.8,118.6 L534.6,118.9 L535.4,119.1 L536.2,119.3 L537.0,119.3 L537.8,119.3 L538.7,119.3 L539.5,119.2 L540.4,119.2 L541.2,119.2 L542.0,119.2 L542.8,119.4 L543.6,119.6 L544.3,119.8 L545.1,120.2 L545.8,120.6 L546.5,121.0 L547.3,121.4 L548.0,121.7 L548.8,122.1 L549.5,122.3 L550.3,122.5 L551.1,122.6 L551.9,122.6 L552.7,122.6 L553.6,122.6 L554.4,122.5 L555.2,122.5 L556.1,122.5 L556.9,122.6 L557.7,122.8 L558.4,123.0 L559.2,123.5 L559.9,123.8 L560.7,124.1 L561.5,124.4 L562.2,124.7 L563.0,125.0 L563.8,125.2 L564.6,125.4 L565.4,125.6 L566.2,125.7 L567.0,125.8 L567.8,125.9 L568.6,125.9 L569.4,126.0 L570.3,126.0 L571.1,126.1 L571.9,126.3 L572.7,126.5 L573.5,126.7 L574.2,127.0 L575.0,127.3 L575.8,127.6 L576.5,127.9 L577.3,128.2 L578.1,128.4 L578.8,128.7 L579.6,128.8 L580.5,129.0 L581.3,129.1 L582.1,129.1 L582.9,129.2 L583.7,129.2 L584.5,129.3 L585.4,129.4 L586.2,129.5 L587.0,129.6 L587.7,129.9 L588.5,130.1 L589.3,130.4 L590.1,130.7 L590.8,131.0 L591.6,131.3 L592.3,131.6 L593.1,131.8 L593.9,132.0 L594.7,132.2 L595.5,132.3 L596.3,132.3 L597.2,132.4 L598.0,132.5 L598.9,132.5 L599.8,132.6 L600.6,132.6 L601.5,132.7 L602.3,132.9 L603.1,133.1 L603.8,133.3 L604.6,133.6 L605.4,133.8 L606.2,134.1 L607.0,134.4 L607.7,134.6 L608.5,134.8 L609.3,134.9 L610.1,135.0 L611.0,135.1 L611.8,135.1 L612.6,135.1 L613.5,135.1 L614.4,135.2 L615.3,135.2 L616.2,135.2 L617.1,135.3 L617.9,135.4 L618.8,135.6 L619.6,135.8 L620.4,136.0 L621.1,136.2 L621.9,136.4 L622.7,136.5 L623.6,136.7 L624.4,136.8 L625.2,136.8 L626.0,136.8 L626.8,136.8 L627.6,136.7 L628.4,136.7 L629.3,136.6 L630.1,136.6 L630.9,136.6 L631.6,136.6 L632.4,136.7 L633.1,136.8 L633.8,137.0 L634.6,137.3 L635.4,137.5 L636.2,137.8 L636.9,138.0 L637.7,138.2 L638.5,138.3 L639.3,138.5 L640.1,138.5 L640.9,138.6 L641.8,138.5 L642.6,138.5 L643.3,138.5 L644.1,138.5 L644.9,138.5 L645.7,138.6 L646.5,138.8 L647.4,139.0 L648.2,139.2 L649.0,139.5 L649.8,139.7 L650.6,140.0 L651.4,140.3 L652.2,140.5 L653.0,140.7 L653.7,140.9 L654.4,141.0 L655.2,141.1 L656.1,141.2 L656.9,141.2 L657.8,141.3 L658.7,141.4 L659.5,141.5 L660.4,141.7 L661.2,141.9 L662.1,142.2 L663.1,142.6 L664.1,142.9 L665.2,143.1 L666.2,143.3 L667.1,143.5 L667.9,143.6 L668.7,143.7 L669.5,143.7 L670.3,143.7 L671.2,143.7 L672.0,143.6 L672.8,143.5 L673.6,143.4 L674.4,143.3 L675.2,143.3 L676.0,143.3 L676.9,143.3 L677.7,143.4 L678.5,143.6 L679.3,143.7 L680.1,143.9 L680.9,144.1 L681.7,144.2" stroke="#ede021" stroke-width="1.4" fill="none" stroke-linejoin="round" stroke-linecap="round"/>
<path d="M300.0,402.6 L300.8,402.6 L301.6,402.6 L302.5,402.6 L303.3,402.6 L304.1,402.6 L304.9,402.5 L305.7,402.5 L306.5,402.5 L307.4,402.5 L308.2,402.5 L309.0,402.5 L309.8,402.5 L310.6,402.5 L311.5,402.5 L312.3,402.5 L313.1,402.5 L313.9,402.4 L314.7,402.4 L315.5,402.4 L316.4,402.4 L317.2,402.4 L318.0,402.4 L318.9,402.3 L319.8,402.2 L320.8,402.1 L321.7,402.1 L322.6,402.0 L323.5,401.9 L324.3,401.8 L325.1,401.6 L325.9,401.5 L326.7,401.4 L327.5,401.2 L328.3,401.1 L329.2,401.0 L330.0,400.9 L330.8,400.7 L331.6,400.6 L332.4,400.5 L333.2,400.3 L334.0,400.1 L334.9,399.9 L335.8,399.6 L336.6,399.3 L337.5,399.0 L338.3,398.7 L339.1,398.4 L339.9,398.2 L340.8,397.9 L341.6,397.6 L342.4,397.4 L343.2,397.1 L343.9,396.7 L344.7,396.3 L345.3,395.9 L346.0,395.4 L346.7,394.9 L347.3,394.5 L348.1,394.0 L348.9,393.7 L349.8,393.3 L350.6,393.0 L351.5,392.6 L352.3,392.3 L353.1,392.1 L353.9,391.8 L354.8,391.5 L355.6,391.3 L356.4,391.0 L357.2,390.8 L358.0,390.4 L358.7,390.1 L359.4,389.7 L360.1,389.3 L360.8,388.9 L361.5,388.4 L362.1,387.7 L362.6,387.0 L363.2,386.3 L363.8,385.5 L364.3,384.8 L364.9,384.1 L365.5,383.5 L366.1,383.0 L366.9,382.6 L367.7,382.4 L368.6,382.2 L369.4,381.9 L370.3,381.7 L371.1,381.5 L372.0,381.2 L372.7,380.8 L373.5,380.4 L374.2,379.9 L375.0,379.4 L375.7,379.0 L376.4,378.4 L377.0,377.8 L377.5,377.1 L378.0,376.4 L378.5,375.6 L379.0,374.9 L379.6,374.3 L380.4,373.8 L381.2,373.3 L382.1,372.9 L383.0,372.5 L383.7,372.1 L384.5,371.8 L385.2,371.4 L386.0,371.0 L386.8,370.6 L387.5,370.2 L388.2,369.9 L388.9,369.4 L389.6,368.9 L390.2,368.3 L390.8,367.8 L391.3,367.2 L391.9,366.6 L392.5,366.1 L393.2,365.6 L393.9,365.1 L394.6,364.7 L395.3,364.2 L396.0,363.8 L396.8,363.5 L397.6,363.2 L398.3,362.9 L399.1,362.6 L399.9,362.2 L400.7,361.9 L401.4,361.6 L402.2,361.3 L402.9,360.9 L403.6,360.3 L404.2,359.7 L404.8,359.0 L405.3,358.3 L405.9,357.7 L406.5,357.0 L407.1,356.3 L407.8,355.6 L408.4,354.9 L409.1,354.4 L409.8,354.0 L410.6,353.8 L411.4,353.6 L412.2,353.4 L413.0,353.2 L413.8,353.0 L414.6,352.8 L415.4,352.6 L416.2,352.4 L417.0,352.0 L417.7,351.5 L418.4,350.9 L419.1,350.3 L419.8,349.6 L420.5,349.0 L421.2,348.4 L421.9,347.7 L422.6,347.1 L423.3,346.5 L424.0,345.9 L424.8,345.6 L425.6,345.3 L426.3,345.0 L427.1,344.8 L427.9,344.5 L428.7,344.3 L429.4,344.0 L430.2,343.8 L431.0,343.5 L431.7,343.2 L432.5,342.9 L433.2,342.5 L434.0,342.2 L434.8,341.9 L435.5,341.5 L436.2,341.2 L437.0,340.9 L437.8,340.6 L438.5,340.2 L439.3,339.9 L440.0,339.6 L440.8,339.4 L441.6,339.2 L442.4,339.0 L443.2,338.7 L444.0,338.4 L444.7,338.1 L445.5,337.9 L446.3,337.7 L447.1,337.5 L448.0,337.4 L448.8,337.3 L449.6,337.3 L450.5,337.3 L451.3,337.3 L452.2,337.2 L453.0,337.0 L453.8,336.8 L454.5,336.5 L455.3,336.1 L456.0,335.7 L456.8,335.3 L457.5,334.9 L458.3,334.5 L459.1,334.1 L459.8,333.9 L460.6,333.6 L461.4,333.5 L462.3,333.4 L463.1,333.4 L464.0,333.4 L464.8,333.4 L465.6,333.3 L466.4,333.3 L467.2,333.2 L468.0,333.0 L468.8,332.7 L469.5,332.5 L470.3,332.1 L471.0,331.7 L471.7,331.3 L472.4,330.8 L473.1,330.4 L473.8,330.0 L474.5,329.6 L475.3,329.3 L476.0,329.1 L476.8,328.9 L477.6,328.8 L478.4,328.7 L479.3,328.7 L480.1,328.7 L480.9,328.6 L481.7,328.6 L482.5,328.4 L483.3,328.3 L484.1,328.0 L484.8,327.7 L485.6,327.4 L486.3,327.0 L487.0,326.5 L487.7,326.1 L488.4,325.7 L489.1,325.3 L489.8,324.9 L490.6,324.6 L491.3,324.4 L492.1,324.2 L492.9,324.1 L493.7,324.0 L494.6,323.9 L495.4,323.9 L496.2,323.9 L497.0,323.8 L497.8,323.7 L498.6,323.5 L499.4,323.2 L500.1,322.9 L500.9,322.6 L501.6,322.2 L502.3,321.7 L503.0,321.3 L503.7,320.8 L504.4,320.4 L505.1,320.0 L505.9,319.7 L506.6,319.5 L507.4,319.3 L508.2,319.2 L509.1,319.1 L509.9,319.1 L510.7,319.1 L511.5,319.0 L512.4,318.9 L513.2,318.8 L513.9,318.6 L514.7,318.4 L515.5,318.1 L516.2,317.7 L516.9,317.3 L517.6,316.9 L518.3,316.4 L519.0,316.0 L519.8,315.6 L520.5,315.3 L521.3,315.0 L522.0,314.8 L522.8,314.7 L523.6,314.6 L524.5,314.6 L525.3,314.5 L526.1,314.5 L526.9,314.5 L527.8,314.5 L528.6,314.4 L529.4,314.2 L530.1,314.0 L530.9,313.7 L531.6,313.3 L532.3,312.9 L533.1,312.5 L533.8,312.1 L534.5,311.7 L535.2,311.3 L536.0,311.0 L536.7,310.7 L537.5,310.5 L538.3,310.4 L539.1,310.3 L539.9,310.3 L540.8,310.3 L541.6,310.3 L542.4,310.4 L543.2,310.4 L544.1,310.3 L544.8,310.2 L545.6,310.0 L546.4,309.7 L547.1,309.4 L547.9,309.1 L548.6,308.7 L549.4,308.3 L550.1,308.0 L550.9,307.6 L551.6,307.4 L552.4,307.2 L553.2,307.0 L554.0,306.9 L554.8,306.9 L555.6,306.9 L556.4,307.0 L557.3,307.0 L558.1,307.0 L558.9,307.0 L559.7,307.0 L560.4,306.6 L561.2,306.4 L562.0,306.2 L562.8,305.9 L563.5,305.6 L564.3,305.3 L565.1,305.0 L565.9,304.7 L566.6,304.4 L567.4,304.2 L568.2,303.9 L569.0,303.8 L569.9,303.6 L570.7,303.5 L571.5,303.5 L572.4,303.4 L573.2,303.3 L574.0,303.2 L574.9,303.1 L575.7,303.0 L576.5,302.8 L577.3,302.5 L578.1,302.3 L578.9,302.0 L579.6,301.7 L580.4,301.4 L581.2,301.1 L582.0,300.8 L582.8,300.6 L583.6,300.4 L584.5,300.2 L585.3,300.1 L586.1,300.0 L587.0,299.9 L587.8,299.9 L588.6,299.8 L589.5,299.7 L590.3,299.7 L591.1,299.5 L592.0,299.4 L592.8,299.2 L593.5,299.0 L594.3,298.8 L595.1,298.6 L595.9,298.4 L596.7,298.2 L597.4,298.0 L598.2,297.8 L599.0,297.7 L599.8,297.6 L600.6,297.5 L601.4,297.5 L602.2,297.5 L603.0,297.5 L603.9,297.5 L604.7,297.6 L605.5,297.6 L606.3,297.6 L607.1,297.5 L607.9,297.4 L608.7,297.3 L609.5,297.1 L610.2,297.0 L611.0,296.8 L611.8,296.5 L612.6,296.3 L613.4,296.1 L614.2,295.9 L614.9,295.8 L615.7,295.6 L616.5,295.5 L617.3,295.4 L618.1,295.3 L618.9,295.3 L619.7,295.2 L620.6,295.2 L621.4,295.1 L622.2,295.0 L623.0,294.9 L623.8,294.7 L624.5,294.5 L625.3,294.3 L626.1,294.0 L626.9,293.7 L627.6,293.5 L628.4,293.2 L629.1,292.9 L629.9,292.6 L630.7,292.4 L631.5,292.2 L632.3,292.0 L633.1,291.8 L634.0,291.7 L634.8,291.6 L635.6,291.5 L636.5,291.4 L637.3,291.3 L638.1,291.1 L638.9,290.9 L639.7,290.6 L640.5,290.4 L641.3,290.1 L642.0,289.7 L642.8,289.4 L643.6,289.0 L644.4,288.7 L645.2,288.4 L646.1,288.1 L646.9,287.9 L647.7,287.7 L648.6,287.6 L649.5,287.5 L650.3,287.4 L651.2,287.3 L652.1,287.2 L652.9,287.1 L653.8,287.0 L654.6,286.8 L655.4,286.6 L656.2,286.4 L657.0,286.1 L657.8,285.8 L658.7,285.5 L659.5,285.2 L660.3,284.9 L661.1,284.6 L661.9,284.5 L662.8,284.4 L663.6,284.4 L664.4,284.5 L665.2,284.6 L666.0,284.7 L666.8,284.8 L667.6,285.0 L668.4,285.0 L669.2,285.1 L670.0,285.1 L670.8,285.1 L671.6,285.0 L672.4,285.0 L673.2,284.8 L674.0,284.7 L674.8,284.6 L675.6,284.5 L676.4,284.4 L677.2,284.3 L678.0,284.2 L678.8,284.2 L679.6,284.3 L680.4,284.4 L681.2,284.5 L682.0,284.6" stroke="#3e26a8" stroke-width="1.7" fill="none" stroke-linejoin="round" stroke-linecap="round"/>
<path d="M300.0,401.0 L300.8,401.0 L301.6,401.0 L302.4,401.0 L303.3,401.0 L304.1,401.0 L304.9,400.9 L305.7,400.9 L306.5,400.9 L307.3,400.9 L308.2,400.9 L309.0,400.9 L309.8,400.9 L310.6,400.9 L311.4,400.9 L312.3,400.9 L313.1,400.9 L313.9,400.8 L314.7,400.8 L315.5,400.8 L316.3,400.8 L317.1,400.8 L318.0,400.8 L318.8,400.7 L319.7,400.6 L320.6,400.6 L321.5,400.5 L322.4,400.4 L323.3,400.3 L324.1,400.2 L324.9,400.1 L325.7,399.9 L326.5,399.8 L327.3,399.7 L328.1,399.5 L328.9,399.4 L329.7,399.3 L330.5,399.1 L331.3,399.0 L332.1,398.9 L332.9,398.8 L333.6,398.6 L334.4,398.4 L335.3,398.1 L336.1,397.8 L337.0,397.5 L337.8,397.2 L338.6,396.9 L339.4,396.7 L340.2,396.4 L341.0,396.1 L341.8,395.8 L342.6,395.6 L343.2,395.3 L343.8,394.9 L344.5,394.5 L345.1,394.1 L345.8,393.6 L346.5,393.1 L347.3,392.6 L348.2,392.2 L349.1,391.8 L350.0,391.5 L350.9,391.1 L351.8,390.8 L352.6,390.6 L353.4,390.3 L354.3,390.0 L355.1,389.8 L355.9,389.5 L356.6,389.3 L357.3,389.0 L358.0,388.7 L358.6,388.3 L359.3,387.9 L359.8,387.6 L360.4,387.2 L360.9,386.6 L361.4,386.0 L362.0,385.3 L362.5,384.5 L363.1,383.8 L363.7,383.1 L364.4,382.3 L365.3,381.6 L366.2,381.1 L367.2,380.8 L368.2,380.6 L369.0,380.4 L369.9,380.2 L370.6,380.0 L371.3,379.7 L372.0,379.4 L372.7,379.0 L373.4,378.5 L374.1,378.1 L374.8,377.7 L375.3,377.2 L375.8,376.7 L376.2,376.1 L376.7,375.4 L377.2,374.7 L377.9,373.8 L378.6,373.1 L379.5,372.5 L380.5,371.9 L381.4,371.5 L382.2,371.1 L383.0,370.7 L383.8,370.3 L384.5,369.9 L385.3,369.6 L386.0,369.2 L386.7,368.8 L387.4,368.5 L388.0,368.1 L388.5,367.7 L389.1,367.2 L389.6,366.6 L390.2,366.0 L390.9,365.4 L391.5,364.8 L392.3,364.3 L393.0,363.8 L393.8,363.3 L394.5,362.9 L395.3,362.4 L396.1,362.0 L396.9,361.7 L397.7,361.4 L398.5,361.1 L399.3,360.8 L400.1,360.5 L400.8,360.2 L401.4,359.9 L402.0,359.6 L402.5,359.1 L403.0,358.6 L403.6,357.9 L404.1,357.3 L404.7,356.6 L405.3,355.9 L405.9,355.2 L406.6,354.5 L407.4,353.7 L408.2,353.0 L409.2,352.6 L410.1,352.3 L411.0,352.1 L411.8,351.8 L412.6,351.6 L413.4,351.4 L414.2,351.3 L414.9,351.1 L415.6,350.9 L416.2,350.6 L416.8,350.2 L417.4,349.7 L418.0,349.1 L418.7,348.5 L419.4,347.8 L420.1,347.2 L420.8,346.5 L421.6,345.9 L422.3,345.2 L423.2,344.6 L424.1,344.1 L425.0,343.8 L425.8,343.5 L426.6,343.3 L427.4,343.0 L428.2,342.7 L428.9,342.5 L429.7,342.2 L430.4,342.0 L431.1,341.7 L431.9,341.4 L432.6,341.1 L433.4,340.7 L434.1,340.4 L434.9,340.1 L435.6,339.8 L436.4,339.4 L437.1,339.1 L437.9,338.8 L438.7,338.4 L439.5,338.1 L440.3,337.9 L441.2,337.6 L442.0,337.4 L442.8,337.2 L443.6,336.9 L444.3,336.6 L445.1,336.3 L445.9,336.1 L446.7,335.9 L447.6,335.8 L448.4,335.8 L449.3,335.8 L450.1,335.8 L450.9,335.7 L451.8,335.6 L452.6,335.5 L453.4,335.2 L454.1,334.9 L454.9,334.6 L455.7,334.2 L456.4,333.7 L457.1,333.3 L457.9,332.9 L458.7,332.6 L459.4,332.3 L460.2,332.1 L461.0,331.9 L461.9,331.9 L462.7,331.8 L463.5,331.8 L464.3,331.8 L465.2,331.8 L466.0,331.7 L466.8,331.6 L467.6,331.5 L468.3,331.2 L469.1,330.9 L469.8,330.6 L470.5,330.2 L471.2,329.7 L471.9,329.3 L472.6,328.8 L473.3,328.4 L474.1,328.1 L474.8,327.8 L475.6,327.5 L476.3,327.4 L477.1,327.3 L478.0,327.2 L478.8,327.2 L479.6,327.1 L480.4,327.1 L481.3,327.0 L482.1,326.9 L482.9,326.7 L483.6,326.5 L484.4,326.2 L485.1,325.9 L485.8,325.5 L486.5,325.0 L487.2,324.6 L487.9,324.1 L488.6,323.7 L489.3,323.4 L490.1,323.1 L490.8,322.8 L491.6,322.7 L492.4,322.5 L493.2,322.5 L494.1,322.4 L494.9,322.4 L495.7,322.3 L496.6,322.3 L497.4,322.1 L498.1,322.0 L498.9,321.7 L499.7,321.4 L500.4,321.0 L501.1,320.6 L501.8,320.2 L502.5,319.7 L503.2,319.3 L503.9,318.9 L504.6,318.5 L505.4,318.2 L506.2,318.0 L506.9,317.8 L507.7,317.7 L508.6,317.6 L509.4,317.6 L510.2,317.5 L511.1,317.5 L511.9,317.4 L512.7,317.3 L513.5,317.1 L514.2,316.9 L515.0,316.5 L515.7,316.2 L516.4,315.8 L517.2,315.3 L517.9,314.9 L518.6,314.5 L519.3,314.1 L520.1,313.8 L520.8,313.5 L521.6,313.3 L522.4,313.1 L523.2,313.1 L524.0,313.0 L524.9,313.0 L525.7,313.0 L526.5,313.0 L527.3,312.9 L528.1,312.8 L528.9,312.7 L529.7,312.4 L530.5,312.1 L531.2,311.8 L531.9,311.4 L532.6,311.0 L533.3,310.5 L534.1,310.1 L534.8,309.8 L535.5,309.4 L536.3,309.2 L537.1,309.0 L537.9,308.8 L538.7,308.7 L539.6,308.7 L540.4,308.7 L541.3,308.8 L542.1,308.8 L542.9,308.8 L543.7,308.7 L544.5,308.6 L545.3,308.4 L546.1,308.2 L546.8,307.9 L547.6,307.5 L548.3,307.2 L549.0,306.8 L549.8,306.4 L550.5,306.1 L551.3,305.8 L552.1,305.6 L552.8,305.4 L553.6,305.4 L554.5,305.3 L555.3,305.3 L556.1,305.4 L556.9,305.4 L557.8,305.5 L558.6,305.5 L559.4,305.4 L560.1,305.0 L560.9,304.8 L561.7,304.6 L562.4,304.4 L563.2,304.1 L563.9,303.8 L564.7,303.5 L565.5,303.1 L566.3,302.9 L567.1,302.6 L567.9,302.4 L568.7,302.2 L569.5,302.1 L570.3,302.0 L571.2,301.9 L572.0,301.8 L572.8,301.8 L573.7,301.7 L574.5,301.6 L575.3,301.4 L576.1,301.2 L576.9,301.0 L577.7,300.7 L578.5,300.4 L579.3,300.1 L580.1,299.8 L580.9,299.5 L581.7,299.3 L582.5,299.0 L583.3,298.8 L584.1,298.6 L584.9,298.5 L585.8,298.4 L586.6,298.4 L587.5,298.3 L588.3,298.2 L589.1,298.2 L590.0,298.1 L590.8,298.0 L591.7,297.8 L592.5,297.6 L593.3,297.4 L594.1,297.2 L594.9,297.0 L595.7,296.8 L596.5,296.6 L597.3,296.4 L598.1,296.2 L598.8,296.1 L599.6,296.0 L600.4,295.9 L601.2,295.9 L602.0,295.9 L602.9,295.9 L603.7,295.9 L604.5,296.0 L605.3,296.0 L606.1,296.0 L606.9,295.9 L607.7,295.8 L608.5,295.7 L609.3,295.6 L610.1,295.4 L610.8,295.2 L611.6,294.9 L612.4,294.7 L613.2,294.5 L613.9,294.4 L614.7,294.2 L615.4,294.1 L616.2,293.9 L617.0,293.8 L617.8,293.8 L618.6,293.7 L619.4,293.7 L620.2,293.6 L621.0,293.6 L621.8,293.5 L622.6,293.3 L623.4,293.2 L624.2,293.0 L625.0,292.7 L625.8,292.5 L626.5,292.2 L627.3,291.9 L628.0,291.6 L628.8,291.3 L629.5,291.1 L630.3,290.8 L631.1,290.6 L631.9,290.4 L632.7,290.3 L633.5,290.2 L634.4,290.1 L635.2,290.0 L636.0,289.9 L636.8,289.7 L637.7,289.6 L638.5,289.4 L639.3,289.1 L640.1,288.8 L640.8,288.5 L641.6,288.2 L642.4,287.8 L643.2,287.5 L644.0,287.1 L644.8,286.8 L645.7,286.6 L646.5,286.4 L647.3,286.2 L648.2,286.1 L649.1,286.0 L649.9,285.9 L650.8,285.8 L651.7,285.7 L652.5,285.6 L653.4,285.4 L654.2,285.3 L655.1,285.1 L655.9,284.8 L656.7,284.5 L657.5,284.2 L658.3,283.9 L659.1,283.6 L660.0,283.3 L660.8,283.1 L661.8,282.9 L662.7,282.8 L663.5,282.8 L664.4,282.9 L665.2,283.0 L666.0,283.1 L666.8,283.2 L667.6,283.4 L668.4,283.4 L669.2,283.5 L670.0,283.5 L670.8,283.5 L671.6,283.4 L672.4,283.4 L673.2,283.2 L674.0,283.1 L674.8,283.0 L675.6,282.9 L676.4,282.8 L677.2,282.7 L678.0,282.6 L678.8,282.6 L679.6,282.7 L680.4,282.8 L681.2,282.9 L682.0,283.0" stroke="#1aa9db" stroke-width="1.5" fill="none" stroke-linejoin="round" stroke-linecap="round"/>
<path d="M300.0,399.6 L300.8,399.6 L301.6,399.6 L302.4,399.6 L303.2,399.6 L304.1,399.6 L304.9,399.5 L305.7,399.5 L306.5,399.5 L307.3,399.5 L308.1,399.5 L309.0,399.5 L309.8,399.5 L310.6,399.5 L311.4,399.5 L312.2,399.5 L313.1,399.5 L313.9,399.4 L314.7,399.4 L315.5,399.4 L316.3,399.4 L317.1,399.4 L317.9,399.4 L318.7,399.3 L319.6,399.2 L320.5,399.2 L321.4,399.1 L322.3,399.0 L323.1,398.9 L323.9,398.8 L324.7,398.7 L325.4,398.5 L326.3,398.4 L327.1,398.3 L327.9,398.2 L328.7,398.0 L329.5,397.9 L330.3,397.8 L331.1,397.6 L331.9,397.5 L332.6,397.4 L333.3,397.2 L334.0,397.0 L334.8,396.7 L335.7,396.5 L336.5,396.2 L337.3,395.9 L338.2,395.6 L339.0,395.3 L339.8,395.1 L340.6,394.8 L341.3,394.5 L342.0,394.3 L342.6,394.0 L343.1,393.7 L343.7,393.4 L344.3,392.9 L345.0,392.4 L345.8,391.9 L346.7,391.4 L347.6,390.9 L348.6,390.5 L349.5,390.2 L350.5,389.8 L351.3,389.5 L352.2,389.2 L353.0,389.0 L353.8,388.7 L354.6,388.4 L355.4,388.2 L356.1,388.0 L356.8,387.7 L357.4,387.4 L357.9,387.1 L358.5,386.8 L359.0,386.5 L359.4,386.1 L359.9,385.7 L360.3,385.1 L360.9,384.4 L361.4,383.7 L362.0,382.9 L362.7,382.1 L363.5,381.2 L364.5,380.4 L365.7,379.9 L366.8,379.5 L367.8,379.3 L368.7,379.0 L369.5,378.8 L370.2,378.7 L370.8,378.4 L371.4,378.1 L372.0,377.8 L372.7,377.4 L373.3,376.9 L373.9,376.6 L374.3,376.2 L374.7,375.8 L375.1,375.3 L375.6,374.6 L376.1,373.8 L376.8,372.9 L377.7,372.0 L378.8,371.3 L379.8,370.7 L380.8,370.2 L381.6,369.8 L382.4,369.4 L383.2,369.1 L383.9,368.7 L384.7,368.3 L385.4,367.9 L386.1,367.6 L386.7,367.3 L387.2,367.0 L387.6,366.6 L388.1,366.1 L388.6,365.6 L389.3,365.0 L389.9,364.3 L390.7,363.7 L391.5,363.1 L392.3,362.6 L393.0,362.1 L393.8,361.6 L394.7,361.2 L395.5,360.8 L396.4,360.4 L397.2,360.1 L398.0,359.8 L398.8,359.5 L399.5,359.2 L400.2,358.9 L400.7,358.7 L401.2,358.4 L401.6,358.1 L402.0,357.6 L402.5,357.0 L403.1,356.4 L403.7,355.7 L404.3,355.0 L404.9,354.3 L405.6,353.5 L406.5,352.6 L407.5,351.9 L408.6,351.3 L409.7,350.9 L410.6,350.7 L411.5,350.5 L412.3,350.3 L413.1,350.1 L413.8,349.9 L414.5,349.7 L415.1,349.6 L415.5,349.4 L415.9,349.1 L416.5,348.6 L417.1,348.1 L417.8,347.4 L418.5,346.8 L419.2,346.1 L419.9,345.5 L420.7,344.8 L421.5,344.1 L422.5,343.4 L423.5,342.9 L424.5,342.5 L425.4,342.2 L426.2,341.9 L427.0,341.7 L427.7,341.4 L428.5,341.2 L429.2,340.9 L429.9,340.7 L430.6,340.4 L431.3,340.1 L432.1,339.8 L432.8,339.4 L433.6,339.1 L434.3,338.8 L435.1,338.5 L435.8,338.1 L436.6,337.8 L437.3,337.5 L438.2,337.1 L439.1,336.8 L439.9,336.5 L440.8,336.3 L441.6,336.1 L442.4,335.8 L443.2,335.5 L444.0,335.2 L444.8,335.0 L445.6,334.7 L446.4,334.6 L447.2,334.5 L448.1,334.4 L448.9,334.4 L449.8,334.4 L450.6,334.4 L451.4,334.3 L452.2,334.1 L453.0,333.9 L453.8,333.6 L454.6,333.2 L455.3,332.8 L456.1,332.4 L456.8,332.0 L457.5,331.6 L458.3,331.2 L459.1,330.9 L459.9,330.7 L460.7,330.6 L461.5,330.5 L462.3,330.5 L463.1,330.5 L463.9,330.5 L464.8,330.5 L465.6,330.4 L466.4,330.3 L467.1,330.1 L467.9,329.9 L468.7,329.6 L469.4,329.2 L470.1,328.8 L470.8,328.4 L471.5,327.9 L472.2,327.5 L472.9,327.1 L473.6,326.7 L474.4,326.4 L475.1,326.2 L475.9,326.0 L476.7,325.9 L477.6,325.9 L478.4,325.8 L479.2,325.8 L480.0,325.8 L480.9,325.7 L481.7,325.6 L482.4,325.4 L483.2,325.2 L483.9,324.9 L484.7,324.5 L485.4,324.1 L486.1,323.7 L486.8,323.2 L487.5,322.8 L488.2,322.4 L488.9,322.0 L489.7,321.7 L490.4,321.5 L491.2,321.3 L492.0,321.2 L492.8,321.1 L493.7,321.1 L494.5,321.0 L495.3,321.0 L496.1,320.9 L496.9,320.8 L497.7,320.6 L498.5,320.4 L499.2,320.1 L500.0,319.7 L500.7,319.3 L501.4,318.8 L502.1,318.4 L502.8,318.0 L503.5,317.5 L504.2,317.2 L505.0,316.9 L505.7,316.6 L506.5,316.5 L507.3,316.4 L508.1,316.3 L509.0,316.2 L509.8,316.2 L510.6,316.2 L511.5,316.1 L512.3,316.0 L513.0,315.8 L513.8,315.5 L514.6,315.2 L515.3,314.8 L516.0,314.4 L516.8,314.0 L517.5,313.5 L518.2,313.1 L518.9,312.7 L519.7,312.4 L520.4,312.1 L521.2,311.9 L522.0,311.8 L522.8,311.7 L523.6,311.7 L524.5,311.7 L525.3,311.7 L526.1,311.6 L527.0,311.6 L527.8,311.5 L528.6,311.3 L529.3,311.1 L530.1,310.8 L530.8,310.4 L531.5,310.0 L532.2,309.6 L533.0,309.2 L533.7,308.8 L534.4,308.4 L535.1,308.1 L535.9,307.8 L536.7,307.6 L537.5,307.5 L538.4,307.4 L539.2,307.3 L540.1,307.4 L541.0,307.4 L541.8,307.4 L542.6,307.4 L543.4,307.4 L544.2,307.2 L545.0,307.1 L545.8,306.8 L546.5,306.5 L547.3,306.2 L548.0,305.8 L548.7,305.4 L549.5,305.0 L550.2,304.7 L551.0,304.4 L551.8,304.2 L552.6,304.1 L553.4,304.0 L554.2,304.0 L555.0,304.0 L555.8,304.0 L556.6,304.1 L557.5,304.1 L558.3,304.1 L559.1,304.0 L559.8,303.6 L560.6,303.4 L561.4,303.2 L562.1,303.0 L562.9,302.7 L563.6,302.4 L564.4,302.1 L565.2,301.8 L565.9,301.5 L566.7,301.2 L567.5,301.0 L568.3,300.9 L569.2,300.7 L570.0,300.6 L570.8,300.5 L571.7,300.5 L572.5,300.4 L573.3,300.3 L574.2,300.2 L575.0,300.0 L575.8,299.9 L576.6,299.6 L577.4,299.4 L578.2,299.1 L579.0,298.8 L579.8,298.5 L580.6,298.2 L581.4,297.9 L582.2,297.6 L583.0,297.4 L583.8,297.3 L584.6,297.1 L585.5,297.0 L586.3,297.0 L587.2,296.9 L588.0,296.9 L588.8,296.8 L589.7,296.7 L590.5,296.6 L591.4,296.4 L592.3,296.2 L593.1,296.0 L593.9,295.8 L594.7,295.6 L595.5,295.4 L596.3,295.2 L597.1,295.0 L597.9,294.8 L598.7,294.7 L599.5,294.6 L600.3,294.5 L601.1,294.5 L601.9,294.5 L602.7,294.5 L603.5,294.6 L604.3,294.6 L605.1,294.6 L605.9,294.6 L606.7,294.5 L607.5,294.5 L608.3,294.3 L609.1,294.2 L609.9,294.0 L610.7,293.8 L611.5,293.6 L612.2,293.3 L613.0,293.1 L613.7,293.0 L614.4,292.8 L615.2,292.7 L615.9,292.6 L616.7,292.5 L617.5,292.4 L618.3,292.3 L619.1,292.3 L619.9,292.2 L620.7,292.2 L621.6,292.1 L622.4,292.0 L623.1,291.8 L623.9,291.6 L624.7,291.4 L625.5,291.1 L626.2,290.8 L627.0,290.5 L627.7,290.2 L628.5,290.0 L629.2,289.7 L629.9,289.5 L630.7,289.3 L631.5,289.1 L632.3,288.9 L633.1,288.8 L634.0,288.7 L634.8,288.6 L635.6,288.5 L636.5,288.4 L637.3,288.2 L638.1,288.0 L638.9,287.8 L639.7,287.5 L640.5,287.2 L641.3,286.8 L642.1,286.5 L642.9,286.1 L643.7,285.8 L644.5,285.5 L645.3,285.2 L646.1,285.0 L647.0,284.8 L647.8,284.7 L648.7,284.6 L649.6,284.5 L650.5,284.4 L651.4,284.3 L652.2,284.2 L653.1,284.1 L653.9,283.9 L654.8,283.7 L655.6,283.4 L656.4,283.2 L657.2,282.9 L658.0,282.5 L658.8,282.2 L659.7,281.9 L660.6,281.7 L661.6,281.5 L662.6,281.4 L663.5,281.4 L664.4,281.5 L665.2,281.6 L666.0,281.7 L666.8,281.8 L667.6,282.0 L668.4,282.0 L669.2,282.1 L670.0,282.1 L670.8,282.1 L671.6,282.0 L672.4,282.0 L673.2,281.8 L674.0,281.7 L674.8,281.6 L675.6,281.5 L676.4,281.4 L677.2,281.3 L678.0,281.2 L678.8,281.2 L679.6,281.3 L680.4,281.4 L681.2,281.5 L682.0,281.6" stroke="#a3c83a" stroke-width="1.5" fill="none" stroke-linejoin="round" stroke-linecap="round"/>
<path d="M324.4,397.3 L325.2,397.2 L326.0,397.0 L326.8,396.9 L327.6,396.8 L328.5,396.6 L329.3,396.5 L330.1,396.4 L330.9,396.3 L331.6,396.1 L332.3,396.0 L332.9,395.9 L333.6,395.7 L334.4,395.4 L335.2,395.1 L336.1,394.8 L336.9,394.6 L337.7,394.3 L338.5,394.0 L339.3,393.7 L340.1,393.5 L340.9,393.2 L341.5,393.0 L342.0,392.8 L342.4,392.5 L342.9,392.2 L343.5,391.8 L344.2,391.3 L345.1,390.7 L346.0,390.2 L347.0,389.7 L348.1,389.2 L349.0,388.8 L350.0,388.5 L350.9,388.2 L351.7,387.9 L352.6,387.6 L353.4,387.4 L354.2,387.1 L354.9,386.9 L355.6,386.6 L356.2,386.4 L356.7,386.2 L357.3,385.9 L357.8,385.6 L358.2,385.3 L358.5,385.1 L358.8,384.7 L359.3,384.2 L359.8,383.5 L360.3,382.8 L360.9,382.0 L361.6,381.2 L362.6,380.2 L363.8,379.3 L365.1,378.6 L366.4,378.2 L367.5,377.9 L368.3,377.7 L369.1,377.5 L369.7,377.3 L370.2,377.2 L370.7,376.9 L371.3,376.6 L371.9,376.2 L372.5,375.8 L373.0,375.5 L373.4,375.2 L373.7,374.9 L374.0,374.4 L374.4,373.8 L375.0,372.9 L375.8,371.9 L376.8,370.9 L378.0,370.1 L379.2,369.5 L380.2,369.0 L381.0,368.6 L381.8,368.2 L382.5,367.8 L383.3,367.4 L384.0,367.1 L384.8,366.7 L385.4,366.4 L385.9,366.1 L386.4,365.8 L386.7,365.5 L387.2,365.1 L387.7,364.6 L388.3,364.0 L389.0,363.3 L389.8,362.6 L390.6,362.0 L391.5,361.4 L392.3,360.9 L393.1,360.4 L394.0,359.9 L395.0,359.5 L395.9,359.1 L396.7,358.8 L397.5,358.5 L398.3,358.2 L399.0,357.9 L399.6,357.6 L400.1,357.4 L400.4,357.3 L400.6,357.0 L401.0,356.6 L401.5,356.1 L402.0,355.4 L402.6,354.8 L403.2,354.1 L403.9,353.4 L404.6,352.5 L405.5,351.6 L406.7,350.7 L408.0,350.0 L409.3,349.6 L410.3,349.3 L411.1,349.1 L411.9,348.9 L412.7,348.7 L413.5,348.5 L414.1,348.4 L414.5,348.3 L414.8,348.2 L415.1,348.0 L415.6,347.6 L416.2,347.0 L416.8,346.4 L417.5,345.8 L418.2,345.1 L418.9,344.5 L419.7,343.7 L420.7,342.9 L421.7,342.2 L422.9,341.6 L424.0,341.2 L424.9,340.9 L425.7,340.6 L426.5,340.3 L427.3,340.1 L428.0,339.8 L428.7,339.6 L429.4,339.4 L430.1,339.1 L430.8,338.8 L431.5,338.5 L432.3,338.2 L433.0,337.8 L433.8,337.5 L434.5,337.2 L435.3,336.9 L436.0,336.5 L436.8,336.2 L437.7,335.8 L438.6,335.5 L439.5,335.2 L440.5,334.9 L441.3,334.7 L442.1,334.4 L442.9,334.2 L443.7,333.9 L444.4,333.6 L445.2,333.4 L446.0,333.2 L446.9,333.1 L447.7,333.1 L448.6,333.1 L449.4,333.1 L450.3,333.0 L451.1,332.9 L451.9,332.8 L452.7,332.5 L453.5,332.2 L454.2,331.8 L455.0,331.4 L455.7,331.0 L456.5,330.6 L457.2,330.2 L458.0,329.9 L458.7,329.6 L459.5,329.4 L460.4,329.2 L461.2,329.2 L462.0,329.1 L462.8,329.1 L463.6,329.1 L464.3,329.1 L465.1,329.1 L465.9,328.9 L466.7,328.8 L467.5,328.5 L468.2,328.2 L469.0,327.9 L469.7,327.5 L470.4,327.0 L471.1,326.6 L471.8,326.2 L472.5,325.8 L473.2,325.4 L474.0,325.1 L474.7,324.9 L475.5,324.7 L476.3,324.6 L477.1,324.5 L478.0,324.5 L478.8,324.5 L479.6,324.4 L480.4,324.4 L481.2,324.2 L482.0,324.1 L482.8,323.8 L483.5,323.5 L484.3,323.2 L485.0,322.8 L485.7,322.3 L486.4,321.9 L487.1,321.5 L487.8,321.1 L488.5,320.7 L489.2,320.4 L490.0,320.2 L490.8,320.0 L491.6,319.9 L492.4,319.8 L493.2,319.7 L494.1,319.7 L494.9,319.7 L495.7,319.6 L496.5,319.5 L497.3,319.3 L498.1,319.0 L498.8,318.7 L499.5,318.4 L500.2,318.0 L501.0,317.5 L501.7,317.1 L502.4,316.6 L503.1,316.2 L503.8,315.8 L504.5,315.5 L505.3,315.3 L506.1,315.1 L506.9,315.0 L507.7,314.9 L508.6,314.9 L509.4,314.9 L510.2,314.8 L511.0,314.8 L511.8,314.6 L512.6,314.4 L513.4,314.2 L514.1,313.9 L514.9,313.5 L515.6,313.1 L516.4,312.6 L517.1,312.2 L517.8,311.8 L518.6,311.4 L519.3,311.1 L520.1,310.8 L520.8,310.6 L521.6,310.4 L522.4,310.4 L523.3,310.3 L524.1,310.3 L524.9,310.3 L525.8,310.3 L526.6,310.2 L527.4,310.1 L528.2,310.0 L528.9,309.7 L529.7,309.4 L530.4,309.1 L531.2,308.7 L531.9,308.3 L532.6,307.8 L533.3,307.4 L534.0,307.1 L534.8,306.7 L535.5,306.5 L536.3,306.3 L537.1,306.1 L538.0,306.0 L538.9,306.0 L539.8,306.0 L540.7,306.0 L541.5,306.1 L542.3,306.1 L543.1,306.0 L543.9,305.9 L544.7,305.7 L545.5,305.4 L546.2,305.1 L547.0,304.8 L547.7,304.4 L548.4,304.0 L549.2,303.7 L549.9,303.3 L550.7,303.1 L551.5,302.8 L552.3,302.7 L553.1,302.6 L553.9,302.6 L554.7,302.6 L555.5,302.6 L556.4,302.7 L557.2,302.7 L558.0,302.7 L558.8,302.7 L559.5,302.3 L560.3,302.1 L561.1,301.9 L561.8,301.6 L562.6,301.3 L563.3,301.0 L564.1,300.7 L564.8,300.4 L565.6,300.1 L566.4,299.9 L567.2,299.7 L568.0,299.5 L568.8,299.4 L569.7,299.3 L570.5,299.2 L571.3,299.1 L572.2,299.0 L573.0,298.9 L573.8,298.8 L574.6,298.7 L575.5,298.5 L576.3,298.3 L577.1,298.0 L577.9,297.7 L578.7,297.4 L579.5,297.1 L580.3,296.8 L581.1,296.5 L581.9,296.3 L582.7,296.1 L583.5,295.9 L584.3,295.8 L585.2,295.7 L586.0,295.6 L586.9,295.6 L587.7,295.5 L588.5,295.4 L589.4,295.4 L590.2,295.2 L591.1,295.1 L592.0,294.9 L592.9,294.7 L593.8,294.5 L594.6,294.2 L595.4,294.0 L596.2,293.8 L596.9,293.6 L597.7,293.4 L598.5,293.3 L599.3,293.2 L600.1,293.1 L600.9,293.1 L601.7,293.1 L602.5,293.1 L603.3,293.2 L604.2,293.2 L605.0,293.2 L605.8,293.2 L606.6,293.1 L607.4,293.1 L608.2,292.9 L609.0,292.8 L609.7,292.6 L610.5,292.4 L611.3,292.2 L612.1,292.0 L612.8,291.8 L613.5,291.6 L614.2,291.4 L614.9,291.3 L615.6,291.2 L616.4,291.1 L617.2,291.0 L618.0,291.0 L618.8,290.9 L619.6,290.9 L620.5,290.8 L621.3,290.7 L622.1,290.6 L622.8,290.4 L623.6,290.2 L624.4,290.0 L625.2,289.7 L625.9,289.4 L626.7,289.1 L627.4,288.9 L628.2,288.6 L628.9,288.4 L629.6,288.1 L630.3,287.9 L631.1,287.7 L631.9,287.6 L632.8,287.5 L633.6,287.4 L634.4,287.3 L635.3,287.2 L636.1,287.0 L636.9,286.9 L637.7,286.7 L638.5,286.4 L639.3,286.1 L640.1,285.8 L640.9,285.5 L641.7,285.1 L642.5,284.8 L643.3,284.4 L644.1,284.1 L645.0,283.9 L645.8,283.7 L646.6,283.5 L647.5,283.3 L648.4,283.2 L649.2,283.1 L650.1,283.1 L651.0,283.0 L651.9,282.8 L652.8,282.7 L653.6,282.5 L654.5,282.3 L655.3,282.1 L656.1,281.8 L656.9,281.5 L657.7,281.2 L658.5,280.9 L659.4,280.6 L660.4,280.3 L661.4,280.1 L662.5,280.0 L663.5,280.0 L664.3,280.1 L665.2,280.2 L666.0,280.3 L666.8,280.4 L667.6,280.6 L668.4,280.6 L669.2,280.7 L670.0,280.7 L670.8,280.7 L671.6,280.6 L672.4,280.6 L673.2,280.4 L674.0,280.3 L674.8,280.2 L675.6,280.1 L676.4,280.0 L677.2,279.9 L678.0,279.8 L678.8,279.8 L679.6,279.9 L680.4,280.0 L681.2,280.1 L682.0,280.2" stroke="#f8b733" stroke-width="1.5" fill="none" stroke-linejoin="round" stroke-linecap="round"/>
<path d="M383.4,365.8 L384.1,365.5 L384.8,365.1 L385.2,364.9 L385.6,364.7 L385.8,364.5 L386.2,364.1 L386.7,363.6 L387.3,363.0 L388.1,362.3 L388.9,361.5 L389.8,360.8 L390.7,360.3 L391.6,359.7 L392.5,359.2 L393.4,358.7 L394.4,358.2 L395.3,357.8 L396.2,357.5 L397.0,357.2 L397.7,356.9 L398.5,356.6 L399.0,356.3 L399.4,356.2 L399.5,356.2 L399.7,356.0 L400.0,355.7 L400.4,355.2 L401.0,354.5 L401.6,353.8 L402.2,353.1 L402.8,352.4 L403.6,351.5 L404.6,350.5 L406.0,349.5 L407.5,348.7 L408.9,348.3 L409.9,348.0 L410.8,347.8 L411.6,347.6 L412.4,347.4 L413.1,347.2 L413.7,347.1 L414.0,347.0 L414.1,347.0 L414.3,346.8 L414.7,346.5 L415.2,346.0 L415.9,345.4 L416.6,344.7 L417.3,344.1 L418.0,343.4 L418.8,342.7 L419.8,341.8 L421.0,341.0 L422.3,340.3 L423.5,339.9 L424.5,339.5 L425.3,339.3 L426.1,339.0 L426.8,338.8 L427.6,338.5 L428.3,338.3 L428.9,338.1 L429.6,337.8 L430.2,337.5 L431.0,337.2 L431.7,336.9 L432.4,336.6 L433.2,336.2 L433.9,335.9 L434.7,335.6 L435.5,335.2 L436.3,334.9 L437.2,334.5 L438.1,334.2 L439.1,333.8 L440.1,333.6 L441.0,333.4 L441.8,333.1 L442.5,332.8 L443.3,332.5 L444.1,332.3 L444.9,332.0 L445.7,331.9 L446.5,331.8 L447.4,331.7 L448.2,331.7 L449.1,331.7 L449.9,331.7 L450.7,331.6 L451.5,331.4 L452.3,331.2 L453.1,330.9 L453.9,330.5 L454.6,330.1 L455.4,329.7 L456.1,329.2 L456.9,328.9 L457.6,328.5 L458.4,328.2 L459.2,328.0 L460.0,327.9 L460.8,327.8 L461.6,327.8 L462.4,327.8 L463.2,327.8 L463.9,327.8 L464.7,327.7 L465.5,327.6 L466.3,327.4 L467.1,327.2 L467.8,326.9 L468.6,326.5 L469.3,326.1 L470.0,325.7 L470.7,325.3 L471.4,324.8 L472.1,324.4 L472.8,324.1 L473.6,323.8 L474.3,323.5 L475.1,323.4 L475.9,323.2 L476.7,323.2 L477.6,323.1 L478.4,323.1 L479.2,323.1 L480.0,323.0 L480.8,322.9 L481.6,322.7 L482.4,322.5 L483.1,322.2 L483.9,321.8 L484.6,321.4 L485.3,321.0 L486.0,320.6 L486.7,320.1 L487.4,319.7 L488.1,319.4 L488.8,319.1 L489.6,318.8 L490.4,318.6 L491.2,318.5 L492.0,318.5 L492.8,318.4 L493.6,318.4 L494.5,318.3 L495.3,318.3 L496.1,318.1 L496.9,318.0 L497.6,317.7 L498.4,317.4 L499.1,317.0 L499.8,316.6 L500.5,316.2 L501.2,315.7 L501.9,315.3 L502.6,314.9 L503.4,314.5 L504.1,314.2 L504.9,314.0 L505.7,313.8 L506.5,313.7 L507.3,313.6 L508.1,313.6 L509.0,313.5 L509.8,313.5 L510.6,313.4 L511.4,313.3 L512.2,313.1 L513.0,312.9 L513.7,312.5 L514.5,312.2 L515.2,311.7 L516.0,311.3 L516.7,310.9 L517.5,310.4 L518.2,310.1 L518.9,309.7 L519.7,309.4 L520.5,309.2 L521.3,309.1 L522.1,309.0 L522.9,309.0 L523.7,309.0 L524.6,309.0 L525.4,308.9 L526.2,308.9 L527.0,308.8 L527.8,308.6 L528.6,308.4 L529.3,308.1 L530.1,307.7 L530.8,307.3 L531.5,306.9 L532.2,306.5 L532.9,306.1 L533.7,305.7 L534.4,305.4 L535.2,305.1 L535.9,304.9 L536.8,304.8 L537.6,304.7 L538.6,304.6 L539.5,304.6 L540.4,304.7 L541.2,304.7 L542.0,304.7 L542.8,304.6 L543.6,304.5 L544.4,304.3 L545.2,304.1 L545.9,303.8 L546.7,303.4 L547.4,303.0 L548.2,302.7 L548.9,302.3 L549.6,302.0 L550.4,301.7 L551.2,301.5 L552.0,301.3 L552.8,301.2 L553.6,301.2 L554.4,301.2 L555.2,301.3 L556.1,301.3 L556.9,301.4 L557.7,301.4 L558.5,301.3 L559.2,300.9 L560.0,300.7 L560.8,300.5 L561.5,300.3 L562.3,300.0 L563.0,299.7 L563.7,299.4 L564.5,299.1 L565.3,298.8 L566.1,298.5 L566.9,298.3 L567.7,298.1 L568.5,298.0 L569.3,297.9 L570.2,297.8 L571.0,297.7 L571.8,297.7 L572.7,297.6 L573.5,297.5 L574.3,297.3 L575.1,297.1 L576.0,296.9 L576.8,296.6 L577.6,296.3 L578.4,296.0 L579.2,295.7 L580.0,295.4 L580.8,295.2 L581.6,294.9 L582.4,294.7 L583.2,294.5 L584.0,294.4 L584.9,294.3 L585.7,294.2 L586.6,294.2 L587.4,294.1 L588.3,294.1 L589.1,294.0 L590.0,293.9 L590.9,293.7 L591.8,293.5 L592.7,293.3 L593.6,293.1 L594.4,292.9 L595.2,292.6 L596.0,292.4 L596.8,292.2 L597.6,292.1 L598.4,291.9 L599.1,291.8 L599.9,291.7 L600.8,291.7 L601.6,291.7 L602.4,291.7 L603.2,291.8 L604.0,291.8 L604.8,291.8 L605.6,291.8 L606.4,291.8 L607.2,291.7 L608.0,291.5 L608.8,291.4 L609.6,291.2 L610.4,291.0 L611.1,290.8 L611.9,290.6 L612.7,290.4 L613.3,290.2 L614.0,290.1 L614.6,289.9 L615.3,289.8 L616.1,289.7 L616.9,289.7 L617.7,289.6 L618.5,289.6 L619.4,289.5 L620.2,289.4 L621.0,289.4 L621.8,289.2 L622.6,289.1 L623.3,288.9 L624.1,288.6 L624.9,288.4 L625.6,288.1 L626.4,287.8 L627.1,287.5 L627.8,287.2 L628.5,287.0 L629.2,286.8 L629.9,286.6 L630.7,286.4 L631.5,286.3 L632.4,286.1 L633.2,286.0 L634.0,285.9 L634.9,285.8 L635.7,285.7 L636.5,285.5 L637.3,285.3 L638.1,285.1 L638.9,284.8 L639.7,284.5 L640.5,284.1 L641.3,283.8 L642.2,283.4 L643.0,283.1 L643.8,282.8 L644.6,282.5 L645.4,282.3 L646.3,282.1 L647.1,282.0 L648.0,281.9 L648.9,281.8 L649.8,281.7 L650.7,281.6 L651.6,281.5 L652.5,281.3 L653.3,281.2 L654.2,281.0 L655.0,280.7 L655.8,280.4 L656.6,280.1 L657.4,279.8 L658.2,279.5 L659.1,279.2 L660.2,278.9 L661.3,278.7 L662.4,278.6 L663.4,278.6 L664.3,278.7 L665.1,278.8 L665.9,278.9 L666.7,279.0 L667.5,279.2 L668.3,279.2 L669.1,279.3 L669.9,279.3 L670.7,279.3 L671.5,279.2 L672.3,279.2 L673.1,279.0 L673.9,278.9 L674.7,278.8 L675.5,278.7 L676.3,278.6 L677.1,278.5 L677.9,278.4 L678.7,278.4 L679.5,278.5 L680.3,278.6 L681.1,278.7 L681.9,278.8" stroke="#ede021" stroke-width="1.4" fill="none" stroke-linejoin="round" stroke-linecap="round"/>
<path d="M495.7,109.5 L496.6,109.5 L497.4,109.6 L498.2,109.8 L499.1,110.0 L499.8,110.3 L500.6,110.7 L501.4,111.1 L502.1,111.5 L502.8,112.0 L503.6,112.4 L504.3,112.8 L505.1,113.1 L505.9,113.3 L506.7,113.5 L507.6,113.5 L508.4,113.5 L509.3,113.5 L510.2,113.5 L511.0,113.5 L511.8,113.6 L512.7,113.7 L513.5,114.0 L514.3,114.2 L515.0,114.6 L515.8,115.0 L516.5,115.5 L517.3,116.0 L518.1,116.4 L519.0,116.8 L519.8,117.0 L520.7,117.2 L521.5,117.4 L522.3,117.4 L523.2,117.4 L524.0,117.3 L524.9,117.3 L525.7,117.3 L526.5,117.3 L527.4,117.3 L528.2,117.5 L529.0,117.7 L529.7,118.1 L530.5,118.4 L531.2,118.8 L532.0,119.2 L532.7,119.6 L533.5,120.0 L534.3,120.3 L535.1,120.5 L535.9,120.6 L536.7,120.7 L537.5,120.7 L538.4,120.6 L539.2,120.6 L540.0,120.6 L540.9,120.5 L541.7,120.6 L542.5,120.7 L543.2,120.9 L544.0,121.2 L544.8,121.5 L545.5,121.9 L546.2,122.3 L547.0,122.7 L547.7,123.1 L548.4,123.4 L549.2,123.7 L550.0,123.9 L550.8,124.0 L551.6,124.0 L552.4,124.0 L553.3,124.0 L554.1,123.9 L554.9,123.9 L555.7,123.9 L556.6,124.0 L557.4,124.1 L558.1,124.3 L558.9,124.9 L559.6,125.2 L560.4,125.5 L561.2,125.8 L561.9,126.1 L562.7,126.4 L563.5,126.6 L564.3,126.8 L565.1,127.0 L565.9,127.1 L566.7,127.2 L567.5,127.2 L568.3,127.3 L569.1,127.3 L570.0,127.4 L570.8,127.5 L571.6,127.6 L572.4,127.8 L573.1,128.1 L573.9,128.3 L574.7,128.6 L575.4,128.9 L576.2,129.2 L577.0,129.5 L577.8,129.8 L578.5,130.0 L579.3,130.2 L580.2,130.3 L581.0,130.4 L581.8,130.5 L582.6,130.6 L583.4,130.6 L584.2,130.7 L585.1,130.7 L585.9,130.9 L586.7,131.0 L587.4,131.2 L588.2,131.5 L589.0,131.8 L589.7,132.1 L590.5,132.4 L591.3,132.7 L592.0,132.9 L592.8,133.2 L593.6,133.4 L594.4,133.5 L595.2,133.6 L596.0,133.7 L596.9,133.8 L597.7,133.8 L598.6,133.9 L599.5,133.9 L600.4,134.0 L601.2,134.1 L602.0,134.3 L602.8,134.5 L603.6,134.7 L604.4,135.0 L605.2,135.2 L605.9,135.5 L606.7,135.8 L607.5,136.0 L608.3,136.2 L609.1,136.3 L609.9,136.4 L610.7,136.5 L611.5,136.5 L612.4,136.5 L613.2,136.5 L614.2,136.5 L615.1,136.6 L616.1,136.6 L617.0,136.7 L617.8,136.8 L618.6,137.0 L619.4,137.2 L620.2,137.4 L621.0,137.6 L621.8,137.8 L622.6,137.9 L623.4,138.1 L624.2,138.2 L625.0,138.2 L625.9,138.2 L626.7,138.2 L627.5,138.1 L628.3,138.1 L629.1,138.0 L630.0,138.0 L630.7,138.0 L631.5,138.0 L632.2,138.1 L632.9,138.2 L633.7,138.4 L634.4,138.7 L635.2,138.9 L636.0,139.1 L636.8,139.4 L637.5,139.6 L638.3,139.7 L639.1,139.8 L639.9,139.9 L640.8,139.9 L641.6,139.9 L642.4,139.9 L643.1,139.9 L643.9,139.9 L644.7,139.9 L645.5,140.0 L646.3,140.1 L647.1,140.3 L647.9,140.6 L648.8,140.8 L649.6,141.1 L650.4,141.4 L651.2,141.7 L651.9,141.9 L652.7,142.1 L653.4,142.2 L654.1,142.4 L654.9,142.5 L655.7,142.5 L656.6,142.6 L657.5,142.7 L658.3,142.8 L659.2,142.9 L660.0,143.1 L660.9,143.3 L661.8,143.6 L662.8,143.9 L663.9,144.3 L665.0,144.5 L666.1,144.7 L667.0,144.9 L667.8,145.0 L668.6,145.1 L669.5,145.1 L670.3,145.1 L671.1,145.1 L671.9,145.0 L672.7,144.9 L673.5,144.8 L674.3,144.7 L675.2,144.7 L676.0,144.7 L676.8,144.7 L677.6,144.8 L678.4,145.0 L679.2,145.1 L680.0,145.3 L680.8,145.5 L681.6,145.6" stroke="#f5ee16" stroke-width="1.3" fill="none" stroke-linejoin="round" stroke-linecap="round"/>
<g fill="none" stroke="#f5ee16" stroke-width="1.4"><ellipse cx="338.7" cy="25.8" rx="5.8" ry="2.7" transform="rotate(20.9 338.7 25.8)"/><ellipse cx="347.2" cy="34.3" rx="5.9" ry="2.8" transform="rotate(38.8 347.2 34.3)"/><ellipse cx="358.9" cy="42.4" rx="5.3" ry="2.2" transform="rotate(50.7 358.9 42.4)"/><ellipse cx="368.7" cy="51.4" rx="4.6" ry="3.2" transform="rotate(71.2 368.7 51.4)"/><ellipse cx="382.2" cy="62.5" rx="6.2" ry="2.3" transform="rotate(64.3 382.2 62.5)"/><ellipse cx="397.7" cy="75.9" rx="4.7" ry="2.3" transform="rotate(54.4 397.7 75.9)"/><ellipse cx="412.3" cy="84.7" rx="5.8" ry="2.6" transform="rotate(14.2 412.3 84.7)"/><ellipse cx="424.5" cy="89.0" rx="6.2" ry="2.7" transform="rotate(14.5 424.5 89.0)"/><ellipse cx="440.3" cy="94.7" rx="5.3" ry="3.2" transform="rotate(23.9 440.3 94.7)"/><ellipse cx="456.9" cy="102.3" rx="6.4" ry="2.4" transform="rotate(17.6 456.9 102.3)"/><ellipse cx="476.9" cy="106.3" rx="4.7" ry="3.0" transform="rotate(15.2 476.9 106.3)"/><ellipse cx="489.2" cy="111.2" rx="5.5" ry="3.2" transform="rotate(15.9 489.2 111.2)"/><ellipse cx="503.4" cy="113.0" rx="5.1" ry="3.1" transform="rotate(15.4 503.4 113.0)"/><ellipse cx="520.9" cy="120.1" rx="5.6" ry="2.2" transform="rotate(12.7 520.9 120.1)"/><ellipse cx="535.4" cy="122.9" rx="5.2" ry="2.2" transform="rotate(12.7 535.4 122.9)"/><ellipse cx="551.7" cy="127.1" rx="6.5" ry="2.2" transform="rotate(12.8 551.7 127.1)"/></g>
<g fill="none" stroke="#f5ee16" stroke-width="1.3"><ellipse cx="561.6" cy="127.5" rx="4.8" ry="1.8" transform="rotate(12.7 561.6 127.5)"/><ellipse cx="579.0" cy="131.8" rx="4.9" ry="2.1" transform="rotate(12.6 579.0 131.8)"/><ellipse cx="598.6" cy="134.2" rx="4.6" ry="2.1" transform="rotate(11.2 598.6 134.2)"/><ellipse cx="612.0" cy="138.4" rx="4.3" ry="1.8" transform="rotate(9.8 612.0 138.4)"/><ellipse cx="624.9" cy="140.3" rx="5.4" ry="2.4" transform="rotate(5.0 624.9 140.3)"/><ellipse cx="636.8" cy="139.3" rx="4.5" ry="2.0" transform="rotate(8.1 636.8 139.3)"/><ellipse cx="653.0" cy="144.2" rx="4.6" ry="1.7" transform="rotate(12.1 653.0 144.2)"/><ellipse cx="667.0" cy="145.0" rx="5.8" ry="2.0" transform="rotate(3.2 667.0 145.0)"/></g>
<path d="M559.0,299.5 L559.7,299.3 L560.5,299.1 L561.2,298.9 L561.9,298.6 L562.7,298.3 L563.4,298.0 L564.2,297.7 L565.0,297.4 L565.7,297.2 L566.6,296.9 L567.4,296.8 L568.2,296.6 L569.0,296.5 L569.8,296.5 L570.7,296.4 L571.5,296.3 L572.3,296.2 L573.2,296.1 L574.0,296.0 L574.8,295.8 L575.6,295.5 L576.5,295.3 L577.3,295.0 L578.1,294.7 L578.9,294.4 L579.7,294.1 L580.5,293.8 L581.3,293.5 L582.1,293.3 L582.9,293.2 L583.7,293.0 L584.6,292.9 L585.4,292.9 L586.3,292.8 L587.1,292.8 L588.0,292.7 L588.8,292.6 L589.7,292.5 L590.6,292.3 L591.6,292.1 L592.5,291.9 L593.4,291.7 L594.3,291.5 L595.0,291.2 L595.8,291.0 L596.6,290.8 L597.4,290.7 L598.2,290.5 L599.0,290.4 L599.8,290.4 L600.6,290.3 L601.4,290.3 L602.2,290.3 L603.0,290.4 L603.8,290.4 L604.6,290.4 L605.4,290.4 L606.2,290.4 L607.0,290.3 L607.8,290.2 L608.6,290.0 L609.4,289.8 L610.2,289.6 L611.0,289.4 L611.7,289.2 L612.5,289.0 L613.1,288.8 L613.8,288.7 L614.4,288.6 L615.1,288.4 L615.8,288.4 L616.6,288.3 L617.4,288.2 L618.2,288.2 L619.1,288.1 L619.9,288.1 L620.7,288.0 L621.5,287.9 L622.3,287.7 L623.0,287.5 L623.8,287.3 L624.6,287.0 L625.4,286.7 L626.1,286.4 L626.8,286.1 L627.5,285.9 L628.2,285.6 L628.9,285.4 L629.6,285.2 L630.3,285.1 L631.2,284.9 L632.0,284.8 L632.8,284.7 L633.7,284.6 L634.5,284.5 L635.3,284.3 L636.1,284.2 L636.9,284.0 L637.7,283.7 L638.5,283.4 L639.3,283.1 L640.2,282.8 L641.0,282.4 L641.8,282.1 L642.6,281.7 L643.4,281.4 L644.3,281.2 L645.1,280.9 L645.9,280.8 L646.8,280.6 L647.7,280.5 L648.5,280.4 L649.5,280.3 L650.4,280.2 L651.3,280.1 L652.2,280.0 L653.0,279.8 L653.9,279.6 L654.7,279.3 L655.5,279.1 L656.3,278.8 L657.1,278.4 L657.9,278.1 L658.9,277.8 L659.9,277.5 L661.1,277.3 L662.3,277.2 L663.4,277.2 L664.3,277.3 L665.1,277.4 L665.9,277.5 L666.7,277.6 L667.5,277.8 L668.3,277.8 L669.1,277.9 L669.9,277.9 L670.7,277.9 L671.5,277.8 L672.3,277.8 L673.1,277.6 L673.9,277.5 L674.7,277.4 L675.5,277.3 L676.3,277.2 L677.1,277.1 L677.9,277.0 L678.7,277.0 L679.5,277.1 L680.3,277.2 L681.1,277.3 L681.9,277.4" stroke="#f5ee16" stroke-width="1.3" fill="none" stroke-linejoin="round" stroke-linecap="round"/>
<g fill="none" stroke="#f5ee16" stroke-width="1.4"><ellipse cx="339.3" cy="387.9" rx="4.9" ry="2.1" transform="rotate(-22.8 339.3 387.9)"/><ellipse cx="354.7" cy="382.1" rx="6.7" ry="2.9" transform="rotate(-26.5 354.7 382.1)"/><ellipse cx="367.0" cy="372.6" rx="6.3" ry="2.3" transform="rotate(-14.3 367.0 372.6)"/><ellipse cx="378.2" cy="365.1" rx="6.9" ry="2.1" transform="rotate(-26.5 378.2 365.1)"/><ellipse cx="390.2" cy="357.4" rx="6.4" ry="2.5" transform="rotate(-31.4 390.2 357.4)"/><ellipse cx="403.6" cy="345.7" rx="4.6" ry="2.2" transform="rotate(-32.3 403.6 345.7)"/><ellipse cx="415.5" cy="340.7" rx="4.7" ry="3.2" transform="rotate(-42.1 415.5 340.7)"/><ellipse cx="436.2" cy="331.9" rx="5.6" ry="2.2" transform="rotate(-21.0 436.2 331.9)"/><ellipse cx="456.0" cy="325.4" rx="4.9" ry="2.9" transform="rotate(-14.3 456.0 325.4)"/><ellipse cx="469.1" cy="322.8" rx="6.7" ry="2.5" transform="rotate(-17.1 469.1 322.8)"/><ellipse cx="479.5" cy="318.6" rx="5.8" ry="2.5" transform="rotate(-17.1 479.5 318.6)"/><ellipse cx="493.1" cy="314.0" rx="7.1" ry="3.2" transform="rotate(-17.6 493.1 314.0)"/><ellipse cx="504.1" cy="311.4" rx="5.5" ry="2.9" transform="rotate(-17.6 504.1 311.4)"/><ellipse cx="520.7" cy="307.0" rx="5.1" ry="2.5" transform="rotate(-15.7 520.7 307.0)"/><ellipse cx="536.6" cy="300.8" rx="5.9" ry="2.1" transform="rotate(-14.7 536.6 300.8)"/><ellipse cx="552.2" cy="298.4" rx="5.9" ry="2.3" transform="rotate(-12.0 552.2 298.4)"/></g>
<g fill="none" stroke="#f5ee16" stroke-width="1.3"><ellipse cx="575.6" cy="295.5" rx="6.0" ry="1.6" transform="rotate(-13.2 575.6 295.5)"/><ellipse cx="589.4" cy="291.0" rx="4.5" ry="2.2" transform="rotate(-11.8 589.4 291.0)"/><ellipse cx="604.4" cy="288.3" rx="4.5" ry="1.9" transform="rotate(-6.7 604.4 288.3)"/><ellipse cx="618.8" cy="286.8" rx="5.8" ry="2.0" transform="rotate(-12.0 618.8 286.8)"/><ellipse cx="640.5" cy="280.8" rx="5.1" ry="1.7" transform="rotate(-14.9 640.5 280.8)"/><ellipse cx="654.3" cy="277.5" rx="5.1" ry="2.2" transform="rotate(-12.4 654.3 277.5)"/><ellipse cx="670.7" cy="275.6" rx="5.0" ry="2.0" transform="rotate(-0.6 670.7 275.6)"/></g>
<path d="M332.5,20.8 L332.6,21.2 L332.5,21.4 L332.4,21.6 L332.4,21.6 L332.4,21.6 L332.3,21.4 L332.3,21.0 L332.5,20.6 L332.9,20.3 L333.6,20.1 L334.7,20.1 L336.0,20.3 L337.5,20.6 L339.0,21.0 L341.2,19.6 L342.3,20.2 L343.2,20.9 L343.9,21.8 L344.5,22.8 L344.9,23.7 L345.0,24.5 L344.5,25.0 L343.7,24.9 L342.9,24.6 L342.5,24.2 L342.4,24.2 L342.7,24.3 L343.2,24.6 L343.8,24.9 L344.5,25.6 L345.4,26.7 L346.5,27.9 L347.8,29.1 L349.3,30.1 L350.7,31.0 L351.1,33.8 L352.7,34.7 L354.3,35.4 L355.5,36.1 L356.6,36.7 L357.4,37.4 L358.0,37.9 L358.5,38.4 L358.5,38.8 L357.9,38.7 L357.0,38.3 L356.1,37.6 L355.7,37.0 L355.8,36.8 L356.2,37.0 L356.7,37.3 L357.3,37.9 L358.2,38.8 L359.2,39.8 L360.4,41.0 L361.8,42.2 L363.4,43.6 L366.0,43.5 L367.9,44.5 L369.6,45.2 L371.0,45.8 L372.1,46.4 L372.8,47.0 L373.4,47.5 L373.7,47.9 L373.5,48.1 L372.6,48.0 L371.4,47.2 L370.4,46.0 L370.0,45.1 L370.1,44.8 L370.5,44.9 L370.9,45.3 L371.4,45.9 L371.9,46.7 L372.6,47.7 L373.2,48.8 L373.8,50.2 L374.4,51.8 L373.7,54.3 L374.7,56.3 L376.0,58.1 L377.5,59.7 L379.0,61.1 L380.6,62.2 L382.3,62.9 L383.6,63.3 L384.2,63.5 L384.5,63.8 L384.6,63.9 L384.7,63.9 L384.8,63.7 L384.6,63.4 L383.9,62.4 L383.1,60.9 L382.9,59.6 L383.3,59.0 L384.0,59.4 L384.7,60.3 L385.5,61.5 L386.2,62.8 L388.7,63.3 L389.2,64.6 L389.7,66.0 L390.3,67.4 L391.0,68.8 L391.8,70.1 L392.6,71.2 L393.5,72.3 L394.6,73.0 L395.5,73.5 L396.1,73.8 L396.5,73.9 L396.9,73.9 L397.4,73.8 L398.0,73.6 L398.7,73.4 L399.3,73.0 L399.8,72.5 L400.3,72.0 L400.9,72.0 L401.6,72.5 L402.4,73.5 L401.8,76.5 L403.2,78.4 L404.8,80.2 L406.6,81.5 L408.0,82.4 L408.8,83.1 L409.3,83.6 L409.7,83.9 L410.2,84.2 L410.6,84.4 L410.8,84.4 L410.9,84.4 L411.0,84.2 L411.2,84.0 L411.7,83.9 L412.4,83.8 L413.4,83.7 L414.7,83.7 L416.1,83.9 L417.7,84.1 L419.4,84.4 L421.3,84.0 L422.9,84.5 L424.4,85.1 L425.7,85.8 L426.8,86.6 L427.6,87.3 L428.1,87.9 L428.3,88.5 L428.2,88.9 L427.9,89.2 L427.6,89.3 L427.4,89.3 L427.4,89.1 L427.5,88.9 L427.8,88.6 L428.3,88.3 L429.0,88.1 L430.1,87.9 L431.3,87.9 L432.8,88.0 L434.3,88.3 L435.9,88.7 L438.1,87.7 L439.6,88.5 L441.0,89.4 L442.2,90.5 L443.1,91.5 L443.8,92.4 L444.2,93.2 L444.4,93.9 L444.4,94.3 L444.4,94.5 L444.3,94.6 L444.2,94.4 L444.3,94.2 L444.6,93.9 L445.2,93.6 L446.0,93.4 L447.1,93.3 L448.5,93.3 L450.0,93.4 L451.7,93.7 L453.4,94.2 L454.4,96.3 L455.9,97.0 L457.2,97.8 L458.3,98.6 L459.3,99.5 L460.2,100.3 L460.9,101.0 L461.4,101.5 L461.7,102.0 L461.8,102.2 L461.9,102.3 L462.0,102.3 L462.2,102.1 L462.5,101.9 L463.0,101.5 L463.8,101.2 L464.7,101.0 L465.8,100.7" stroke="#f8b733" stroke-width="1.3" fill="none" stroke-linejoin="round" stroke-linecap="round"/>
<path d="M329.9,392.8 L329.9,392.8 L329.7,392.9 L329.6,393.2 L329.7,393.5 L330.0,393.8 L330.7,394.0 L331.9,394.0 L333.3,393.8 L334.8,393.5 L336.5,393.0 L338.8,394.5 L340.2,393.9 L341.4,393.2 L342.4,392.4 L343.0,391.5 L343.3,390.7 L343.3,389.9 L343.2,389.2 L343.1,388.7 L343.3,388.2 L343.7,387.7 L344.3,387.4 L344.9,387.2 L345.7,387.3 L346.5,387.4 L347.4,387.6 L348.5,387.8 L349.7,388.0 L351.0,388.0 L352.4,387.9 L353.9,387.7 L355.2,387.0 L356.6,386.3 L357.7,385.6 L358.6,384.6 L359.2,383.7 L359.5,382.8 L359.4,382.1 L358.9,381.7 L358.2,381.4 L357.7,381.3 L357.5,381.3 L357.5,381.3 L357.7,381.3 L358.2,381.0 L359.1,380.3 L360.4,379.3 L362.0,378.6 L363.7,378.2 L365.3,378.1 L367.0,378.0 L368.6,377.8 L369.5,376.0 L370.6,375.4 L371.4,374.7 L372.0,373.7 L372.5,372.8 L372.8,371.9 L372.6,371.3 L372.0,371.1 L371.3,371.1 L370.8,371.2 L370.7,371.2 L371.0,370.8 L371.8,370.1 L372.9,369.2 L374.2,368.5 L375.7,368.1 L377.1,367.9 L378.5,367.7 L379.9,367.4 L381.3,366.9 L382.3,365.4 L383.5,364.7 L384.7,364.0 L385.5,363.3 L386.0,362.6 L386.1,362.1 L386.0,361.6 L385.9,361.1 L385.9,360.7 L386.1,360.3 L386.5,359.8 L387.0,359.3 L387.6,358.9 L388.2,358.6 L388.9,358.4 L389.7,358.1 L390.7,357.8 L391.9,357.5 L393.1,357.2 L394.4,356.9 L395.7,356.6 L397.0,356.2 L398.5,356.2 L399.6,355.6 L400.2,355.0 L400.4,354.4 L400.4,353.7 L400.2,353.0 L400.2,352.3 L400.3,351.7 L400.4,351.2 L400.5,350.8 L400.7,350.5 L401.1,350.0 L402.0,349.3 L403.3,348.4 L404.8,347.7 L406.4,347.3 L407.6,347.2 L408.8,347.3 L410.0,347.3 L411.4,347.1 L412.7,346.9 L414.1,347.7 L414.9,347.3 L415.3,346.7 L415.6,345.9 L415.7,344.9 L415.9,344.0 L416.1,343.1 L416.3,342.4 L416.4,341.8 L416.6,341.4 L417.0,341.1 L417.8,340.6 L418.9,340.0 L420.1,339.6 L421.4,339.5 L422.5,339.5 L423.6,339.6 L424.7,339.6 L426.0,339.5 L427.2,339.3 L428.5,339.0 L429.5,338.2 L430.6,337.6 L431.5,336.9 L432.3,336.1 L433.1,335.3 L433.6,334.6 L434.1,333.9 L434.4,333.3 L434.7,332.9 L434.9,332.6 L435.3,332.3 L435.8,332.2 L436.4,332.1 L437.2,332.1 L438.0,332.2 L438.8,332.5 L439.7,332.7 L440.7,332.9 L441.9,333.0 L443.2,333.0 L444.5,332.8 L445.9,332.6 L447.5,333.3 L448.9,332.8 L450.1,332.3" stroke="#f8b733" stroke-width="1.3" fill="none" stroke-linejoin="round" stroke-linecap="round"/>
<path d="M126.5,12.5 L126.2,15.0 L125.9,17.5 L125.6,20.0 L125.3,22.5 L125.1,25.0 L124.8,27.5 L124.5,30.0 L124.2,32.5 L124.0,35.0 L123.7,37.5 L123.4,40.0 L123.2,42.5 L122.9,45.0 L122.7,47.5 L122.4,50.0 L122.2,52.5 L122.0,55.0 L121.8,57.5 L121.6,60.0 L121.4,62.5 L121.2,65.0 L121.1,67.5 L120.9,70.0 L120.7,72.5 L120.6,75.0 L120.4,77.5 L120.3,80.0 L120.1,82.5 L120.0,85.0 L119.9,87.5 L119.7,90.0 L119.6,92.5 L119.5,95.0 L119.4,97.5 L119.3,100.0 L119.2,102.5 L119.1,105.0 L119.0,107.5 L118.9,110.0 L118.8,112.5 L118.7,115.0 L118.6,117.5 L118.5,120.0 L118.5,122.5 L118.4,125.0 L118.3,127.5 L118.3,130.0 L118.2,132.5 L118.1,135.0 L118.1,137.5 L118.0,140.0 L118.0,142.5 L117.9,145.0 L117.9,147.5 L117.8,150.0 L117.7,152.5 L117.7,155.0 L117.6,157.5 L117.6,160.0 L117.6,162.5 L117.5,165.0 L117.5,167.5 L117.4,170.0 L117.4,172.5 L117.4,175.0 L117.3,177.5 L117.3,180.0 L117.3,182.5 L117.3,185.0 L117.3,187.6 L117.3,190.2 L117.3,192.8 L117.5,195.4 L117.8,198.0 L118.7,201.1 L120.5,203.8 L123.1,205.3 L126.0,206.0 L129.0,206.4 L132.0,206.5 L135.0,206.6 L137.5,206.7 L140.0,206.7 L142.5,206.7 L145.0,206.8 L147.5,206.8 L150.0,206.8 L152.5,206.8 L155.0,206.8 L157.5,206.8 L160.0,206.8 L162.5,206.8 L165.0,206.8 L167.5,206.8 L170.0,206.8 L172.5,206.8 L175.0,206.8 L177.5,206.8 L180.0,206.8 L182.5,206.8 L185.0,206.8 L187.5,206.8 L190.0,206.8 L192.5,206.8M227.5,206.8 L230.0,206.8 L232.5,206.8 L235.0,206.8 L237.5,206.8 L240.0,206.8 L242.5,206.8 L245.0,206.8 L247.5,206.8 L250.0,206.8 L252.5,206.8 L255.0,206.8 L257.5,206.8 L260.0,206.8 L262.5,206.8 L265.0,206.8 L267.5,206.8 L270.0,206.8 L272.5,206.8 L275.0,206.8 L277.5,206.8 L280.0,206.8 L282.5,206.8 L285.0,206.8 L287.5,206.8 L290.0,206.8 L292.5,206.8 L295.0,206.8 L297.5,206.8 L300.0,206.8 L302.5,206.8 L305.0,206.8 L307.5,206.8 L310.0,206.8 L312.5,206.8 L315.0,206.8 L317.5,206.8 L320.0,206.8 L322.5,206.8 L325.0,206.8 L327.5,206.8 L330.0,206.8 L332.5,206.8 L335.0,206.8 L337.5,206.8 L340.0,206.8 L342.5,206.8 L345.0,206.8 L347.5,206.8 L350.0,206.8 L352.5,206.8 L355.0,206.8 L357.5,206.8 L360.0,206.8 L362.5,206.8 L365.0,206.8 L367.5,206.8 L370.0,206.8 L372.5,206.8 L375.0,206.8 L377.5,206.8 L380.0,206.8 L382.5,206.8 L385.0,206.8 L387.5,206.8 L390.0,206.8 L392.5,206.8 L395.0,206.8 L397.5,206.8 L400.0,206.8 L402.5,206.8 L405.0,206.8 L407.5,206.8 L410.0,206.8 L412.5,206.8 L415.0,206.8 L417.5,206.8 L420.0,206.8 L422.5,206.8 L425.0,206.7 L427.5,206.7 L430.0,206.7 L432.5,206.7 L435.0,206.7 L437.5,206.7 L440.0,206.7 L442.5,206.7 L445.0,206.7 L447.5,206.7 L450.0,206.7 L452.5,206.7 L455.0,206.7 L457.5,206.7 L460.0,206.7 L462.5,206.7 L465.0,206.7 L467.5,206.7 L470.0,206.7 L472.5,206.7 L475.0,206.7 L477.5,206.7 L480.0,206.7 L482.5,206.7 L485.0,206.7 L487.5,206.7 L490.0,206.7 L492.5,206.7 L495.0,206.7 L497.5,206.7 L500.0,206.7 L502.5,206.7 L505.1,206.7 L507.6,206.7 L510.1,206.7 L512.6,206.7 L515.2,206.7 L517.7,206.7 L520.2,206.7 L522.8,206.7 L525.3,206.7 L527.8,206.7 L530.3,206.7 L532.9,206.7 L535.4,206.7 L537.9,206.7 L540.4,206.7 L543.0,206.7 L545.5,206.7 L548.0,206.7 L550.6,206.7 L553.1,206.7 L555.6,206.6 L558.1,206.6 L560.7,206.6 L563.2,206.6 L565.7,206.6 L568.3,206.6 L570.8,206.6M616.3,206.6 L618.8,206.6 L621.3,206.6 L623.9,206.6 L626.4,206.6 L628.9,206.6 L631.4,206.6 L634.0,206.6 L636.5,206.6 L639.0,206.5 L641.6,206.5 L644.1,206.5 L646.6,206.5 L649.1,206.5 L651.7,206.5 L654.2,206.5 L656.7,206.5 L659.3,206.5 L661.8,206.5 L664.3,206.5 L666.8,206.5 L669.4,206.5 L671.9,206.5 L674.4,206.5 L676.9,206.5 L679.5,206.5 L682.0,206.5" stroke="#3e26a8" stroke-width="1.7" fill="none" stroke-linejoin="round" stroke-linecap="round"/>
<path d="M189,13.8 L222,13.8" stroke="#3e26a8" stroke-width="1.6" fill="none" stroke-linejoin="round" stroke-linecap="round"/>
<path d="M178.0,13.5 L174.8,15.0 L172.0,17.0 L170.3,19.2 L168.8,21.5 L167.4,23.8 L166.0,26.2 L164.6,28.6 L163.0,30.8 L161.2,33.0 L159.1,35.0 L157.1,37.0 L155.2,39.1 L153.4,41.3 L151.8,43.8 L150.4,46.3 L149.1,49.0 L147.9,51.7 L146.8,54.4 L145.9,57.0 L145.0,59.6 L144.3,62.3 L143.6,64.9 L142.9,67.6 L142.2,70.1 L141.6,72.6 L140.9,75.0 L140.3,77.5 L139.7,80.0 L139.1,82.5 L138.5,85.0 L137.9,87.5 L137.4,90.0 L136.9,92.5 L136.4,95.0 L135.9,97.5 L135.4,100.0 L134.9,102.5 L134.5,105.0 L134.1,107.5 L133.7,110.0 L133.3,112.5 L132.9,115.0 L132.6,117.5 L132.2,120.0 L131.9,122.5 L131.5,125.0 L131.1,127.5 L130.7,130.0 L130.3,132.5 L129.9,135.0 L129.5,137.5 L129.2,140.0 L128.8,142.5 L128.5,145.0 L128.2,147.5 L128.0,150.0 L127.7,152.5 L127.5,155.0 L127.3,157.5 L127.1,160.0 L126.9,162.5 L126.8,165.0 L126.7,167.5 L126.6,170.0 L126.5,172.5 L126.4,175.0 L126.4,177.5 L126.4,180.0 L126.4,182.5 L126.5,185.0 L126.7,188.0 L127.1,191.1 L127.7,194.1 L128.5,197.0 L130.1,200.1 L132.5,202.5 L134.8,203.5 L137.4,204.0 L140.0,204.3 L142.5,204.5 L145.0,204.6 L147.5,204.7 L150.0,204.7 L152.5,204.8 L155.0,204.8 L157.5,204.8 L160.0,204.8 L162.5,204.8 L165.0,204.8 L167.5,204.8 L170.0,204.8 L172.5,204.8 L175.0,204.8 L177.5,204.9 L180.0,204.9 L182.5,204.9 L185.0,204.9 L187.5,204.9 L190.0,204.9 L192.5,204.9M230.0,204.9 L232.5,204.9 L235.0,204.9 L237.5,204.9 L240.0,204.9 L242.5,204.9 L245.0,204.9 L247.5,204.9 L250.0,204.9 L252.5,204.9 L255.0,204.9 L257.5,204.9 L260.0,204.9 L262.5,204.9 L265.0,204.9 L267.5,204.9 L270.0,204.9 L272.5,204.9 L275.0,204.9 L277.5,204.9 L280.0,204.9 L282.5,204.9 L285.0,204.9 L287.5,204.9 L290.0,204.9 L292.5,204.9 L295.0,204.9 L297.5,204.9 L300.0,204.9 L302.5,204.9 L305.0,204.9 L307.5,204.9 L310.0,204.9 L312.5,204.9 L315.0,204.9 L317.5,204.9 L320.0,204.9 L322.5,204.9 L325.0,204.9 L327.5,204.9 L330.0,204.9 L332.5,204.9 L335.0,204.9 L337.5,204.9 L340.0,204.9 L342.5,204.9 L345.0,204.9 L347.5,204.9 L350.0,204.9 L352.5,204.9 L355.0,204.9 L357.5,204.9 L360.0,204.9 L362.5,204.9 L365.0,204.8 L367.5,204.8 L370.0,204.8 L372.5,204.8 L375.0,204.8 L377.5,204.8 L380.0,204.8 L382.5,204.8 L385.0,204.8 L387.5,204.8 L390.0,204.8 L392.5,204.8 L395.0,204.8 L397.5,204.8 L400.0,204.8 L402.5,204.8 L405.0,204.8 L407.5,204.8 L410.0,204.8 L412.5,204.8 L415.0,204.8 L417.5,204.8 L420.0,204.8 L422.5,204.8 L425.0,204.8 L427.5,204.8 L430.0,204.8 L432.5,204.8 L435.0,204.8 L437.5,204.8 L440.0,204.8 L442.5,204.7 L445.0,204.7 L447.5,204.7 L450.0,204.7 L452.5,204.7 L455.0,204.7 L457.5,204.7 L460.0,204.7 L462.5,204.7 L465.0,204.7 L467.5,204.7 L470.0,204.7 L472.5,204.7 L475.0,204.7 L477.5,204.7 L480.0,204.7 L482.5,204.7 L485.0,204.7 L487.5,204.7 L490.0,204.7 L492.5,204.7 L495.0,204.7 L497.5,204.7 L500.0,204.7 L502.5,204.7 L505.0,204.7 L507.5,204.7 L510.0,204.7 L512.5,204.7 L515.0,204.7 L517.5,204.7 L520.0,204.7 L522.5,204.7 L525.0,204.8 L527.5,204.8 L530.0,204.8 L532.5,204.8 L535.0,204.8 L537.5,204.8 L540.0,204.8 L542.5,204.8 L545.0,204.8 L547.5,204.8 L550.0,204.8 L552.5,204.8 L555.0,204.8 L557.5,204.8 L560.0,204.8 L562.5,204.8 L565.1,204.8 L567.6,204.8 L570.2,204.8M615.9,204.5 L618.5,204.5 L621.0,204.4 L623.5,204.4 L626.1,204.4 L628.6,204.4 L631.2,204.4 L633.7,204.3 L636.3,204.3 L638.8,204.3 L641.3,204.3 L643.9,204.3 L646.4,204.3 L649.0,204.2 L651.5,204.2 L654.0,204.2 L656.6,204.2 L659.1,204.2 L661.7,204.1 L664.2,204.1 L666.8,204.1 L669.3,204.1 L671.8,204.1 L674.4,204.1 L676.9,204.0 L679.5,204.0 L682.0,204.0" stroke="#1aa9db" stroke-width="1.6" fill="none" stroke-linejoin="round" stroke-linecap="round"/>
<path d="M184.5,13.6C185.3,14.1 186.1,14.9 187,15.2C188.6,15.7 190.3,16.1 192,16.1C198.9,16.2 205.7,15.8 212.6,15.6C215.7,15.5 218.9,15.5 222,15.4" stroke="#1aa9db" stroke-width="1.6" fill="none" stroke-linejoin="round" stroke-linecap="round"/>
<path d="M280.0,15.8 L277.5,15.9 L275.0,16.0 L272.5,16.1 L270.0,16.4 L267.3,16.9 L264.6,17.6 L262.0,18.5 L259.3,20.2 L256.7,22.0 L254.1,23.2 L251.5,24.4 L248.8,25.5 L246.2,26.7 L243.6,27.9 L241.3,29.1 L238.9,30.2 L236.6,31.4 L234.3,32.6 L232.0,33.8 L229.7,35.1 L227.4,36.4 L225.2,37.7 L222.9,39.2 L220.5,40.7 L218.2,42.2 L216.0,43.8 L213.7,45.5 L211.5,47.1 L209.4,48.9 L207.4,50.6 L205.5,52.5 L203.6,54.3 L201.8,56.3 L200.0,58.2 L198.1,60.1 L196.3,62.0 L194.2,64.1 L192.1,66.2 L189.9,68.3 L187.9,70.4 L185.8,72.6 L183.8,74.9 L181.8,77.2 L179.8,79.5 L177.9,81.8 L176.1,83.9 L174.2,86.0 L172.6,88.3 L171.1,90.6 L169.6,93.0 L168.2,95.3 L166.8,97.7 L165.5,100.1 L164.2,102.5 L163.0,105.0 L162.0,107.4 L161.0,109.8 L160.0,112.2 L159.1,114.7 L158.3,117.1 L157.5,119.6 L156.6,122.1 L155.8,124.5 L155.0,127.0 L154.2,129.6 L153.3,132.3 L152.6,134.9 L151.8,137.6 L151.1,140.2 L150.4,142.9 L149.7,145.5 L149.1,148.2 L148.6,150.9 L148.0,153.5 L147.4,156.2 L146.7,159.1 L145.9,162.1 L145.1,165.0 L144.5,168.0 L143.9,171.6 L143.7,175.3 L143.8,177.9 L144.1,180.5 L144.5,183.0 L145.2,185.5 L146.6,188.4 L148.4,191.1 L150.3,193.7 L151.8,195.9 L153.4,198.1 L155.4,199.8 L158.4,201.1 L161.7,201.8 L165.0,202.3 L167.6,202.6 L170.1,202.8 L172.7,202.9 L175.3,203.1 L177.8,203.1 L180.4,203.2 L183.0,203.2 L185.5,203.2 L188.1,203.2 L190.6,203.3M274.6,203.4 L277.1,203.4 L279.7,203.4 L282.2,203.4 L284.7,203.4 L287.3,203.4 L289.8,203.4 L292.4,203.4 L294.9,203.4 L297.5,203.4 L300.0,203.4 L302.5,203.4 L305.0,203.4 L307.5,203.4 L310.0,203.4 L312.5,203.4 L315.0,203.4 L317.5,203.4 L320.0,203.5 L322.5,203.5 L325.0,203.5 L327.5,203.5 L330.0,203.5 L332.5,203.5 L335.0,203.5 L337.5,203.5 L340.0,203.5 L342.5,203.5 L345.0,203.6 L347.5,203.6 L350.0,203.6 L352.5,203.6 L355.0,203.6 L357.5,203.6 L360.0,203.6 L362.5,203.6 L365.0,203.6 L367.5,203.6 L370.0,203.6 L372.5,203.6 L375.0,203.6 L377.5,203.6 L380.0,203.6 L382.5,203.6 L385.0,203.6 L387.5,203.6 L390.0,203.6 L392.5,203.6 L395.0,203.6 L397.5,203.6 L400.0,203.6 L402.5,203.6 L405.0,203.6 L407.5,203.6 L410.0,203.5 L412.5,203.5 L415.0,203.5 L417.5,203.5 L420.0,203.5 L422.5,203.5 L425.0,203.4 L427.5,203.4 L430.0,203.4 L432.5,203.4 L435.0,203.3 L437.5,203.3 L440.0,203.3 L442.5,203.3 L445.0,203.2 L447.5,203.2 L450.0,203.2 L452.5,203.2 L455.0,203.1 L457.5,203.1 L460.0,203.1 L462.5,203.0 L465.0,203.0 L467.5,203.0 L470.0,202.9 L472.5,202.9 L475.0,202.9 L477.5,202.9 L480.0,202.8 L482.5,202.8 L485.0,202.8 L487.5,202.7 L490.0,202.7 L492.5,202.7 L495.0,202.7 L497.5,202.6 L500.0,202.6 L502.5,202.6 L505.0,202.5 L507.5,202.5 L510.0,202.5 L512.5,202.5 L515.0,202.4 L517.5,202.4 L520.0,202.4 L522.5,202.4 L525.0,202.3 L527.5,202.3 L530.0,202.3 L532.5,202.2 L535.0,202.2 L537.5,202.2 L540.0,202.1 L542.5,202.1 L545.0,202.1 L547.5,202.1 L550.0,202.0 L552.5,202.0 L555.0,202.0 L557.5,201.9 L560.0,201.9 L562.5,201.9 L565.1,201.8 L567.6,201.8 L570.2,201.8M600.7,201.4 L603.2,201.3 L605.8,201.3 L608.3,201.3 L610.8,201.2M659.1,200.6 L661.7,200.6 L664.2,200.5 L666.8,200.5 L669.3,200.5 L671.8,200.4 L674.4,200.4 L676.9,200.4 L679.5,200.3 L682.0,200.3" stroke="#a3c83a" stroke-width="1.6" fill="none" stroke-linejoin="round" stroke-linecap="round"/>
<path d="M320.3,34.8 L315.6,36.0 L313.0,36.6 L310.3,37.2 L307.6,37.8 L305.0,38.6 L302.5,39.5 L300.2,40.6 L298.0,41.7 L295.8,43.0 L293.7,44.2 L291.6,45.5 L289.4,46.8 L287.2,48.0 L285.0,49.2 L282.5,50.3 L280.0,51.4 L277.5,52.3 L275.0,53.3 L272.5,54.3 L270.0,55.5 L267.6,56.7 L265.3,58.0 L263.0,59.4 L260.7,60.7 L258.4,62.1 L256.1,63.6 L253.9,65.0 L251.7,66.4 L249.6,67.8 L247.5,69.3 L245.3,70.7 L243.2,72.2 L241.1,73.7 L239.0,75.2 L236.9,76.7 L234.9,78.3 L232.7,80.0 L230.5,81.7 L228.4,83.4 L226.2,85.2 L224.1,86.9 L222.0,88.7 L219.9,90.6 L217.9,92.5 L215.9,94.4 L214.1,96.3 L212.3,98.2 L210.6,100.2 L208.9,102.3 L207.3,104.3 L205.7,106.4 L204.0,108.4 L202.4,110.5 L200.7,112.5 L199.0,114.5 L197.3,116.5 L195.5,118.5 L193.8,120.4 L192.1,122.4 L190.4,124.4 L188.8,126.5 L187.2,128.6 L185.8,130.8 L184.5,133.0 L183.3,135.3 L182.2,137.7 L181.0,140.0 L179.4,142.9 L178.0,146.0 L177.1,148.8 L176.3,151.5 L175.6,154.4 L175.0,157.2 L174.6,159.7 L174.3,162.3 L174.1,164.9 L174.0,167.4 L174.0,170.0 L174.1,173.0 L174.3,176.1 L174.7,179.1 L175.5,182.0 L176.9,185.0 L178.7,187.6 L181.0,190.0 L183.1,191.5 L185.3,192.7 L187.7,193.8 L190.0,195.0" stroke="#f8b733" stroke-width="1.6" fill="none" stroke-linejoin="round" stroke-linecap="round"/>
<path d="M229.3,197.3 L231.9,197.3 L234.4,197.3 L237.0,197.4 L239.5,197.4 L242.1,197.4 L244.7,197.4 L247.2,197.5 L249.8,197.5 L252.3,197.5 L254.9,197.5 L257.4,197.6 L260.0,197.6 L262.5,197.6 L265.0,197.6 L267.5,197.7 L270.0,197.7 L272.5,197.7 L275.0,197.7 L277.5,197.8 L280.0,197.8 L282.5,197.8 L285.0,198.0 L287.5,198.5 L290.0,199.0 L292.5,199.3 L295.0,199.4 L297.5,199.1 L300.0,198.9 L302.5,199.0 L305.0,199.3 L307.5,200.4 L310.0,201.1 L312.5,200.5 L315.0,199.7 L317.5,199.3 L320.0,199.4 L322.5,200.4 L325.0,201.4 L327.5,201.4 L330.0,200.9 L332.5,199.9 L335.0,199.1 L337.5,199.7 L340.0,200.6 L342.5,201.3 L345.0,201.6 L347.5,200.6 L350.0,199.5 L352.5,199.4 L355.0,199.7 L357.5,200.8 L360.0,201.7 L362.5,201.2 L365.0,200.4 L367.5,199.6 L370.0,199.1 L372.5,200.0 L375.0,201.1 L377.5,201.4 L380.0,201.3 L382.5,200.2 L385.0,199.2 L387.5,199.5 L390.0,200.2 L392.5,201.1 L395.0,201.7 L397.5,200.9 L400.0,199.9 L402.5,199.4 L405.0,199.4 L407.5,200.4 L410.0,201.4 L412.5,201.4 L415.0,200.9 L417.5,199.9 L420.0,199.1 L422.5,199.7 L425.0,200.6 L427.5,201.3 L430.0,201.6 L432.5,200.6 L435.0,199.5 L437.5,199.4 L440.0,199.7 L442.5,200.7 L445.0,201.4 L447.5,200.8 L450.0,199.8 L452.5,198.9 L455.0,198.3 L457.5,199.1 L460.0,200.0 L462.5,200.1 L465.0,199.9 L467.5,199.1 L470.0,198.3 L472.5,198.2 L475.0,198.4 L477.5,198.6 L480.0,198.7 L482.5,198.6 L485.0,198.5 L487.5,198.4 L490.0,198.3 L492.5,198.2 L495.0,198.0 L497.5,197.9 L500.0,197.8 L502.5,197.7 L505.0,197.6 L507.5,197.5 L510.0,197.4 L512.5,197.3 L515.0,197.2 L517.5,197.1 L520.0,197.0 L522.5,196.9 L525.0,196.8 L527.5,196.7 L530.0,196.6 L532.5,196.6 L535.0,196.5 L537.5,196.4 L540.0,196.3 L542.5,196.2 L545.0,196.2 L547.5,196.1 L550.0,196.0 L552.5,196.0 L555.0,195.9 L557.5,195.9M604.5,194.5 L607.0,194.4 L609.5,194.4 L612.0,194.3 L614.5,194.3 L617.0,194.2 L619.5,194.2 L622.0,194.2 L624.5,194.1 L627.0,194.1 L629.5,194.1 L632.0,194.1 L634.5,194.0 L637.0,194.0 L639.5,194.0 L642.0,193.9 L644.5,193.9 L647.0,193.9 L649.5,193.9 L652.0,193.8 L654.5,193.8 L657.0,193.8 L659.5,193.8 L662.0,193.7 L664.5,193.7 L667.0,193.7 L669.5,193.6 L672.0,193.6 L674.5,193.6 L677.0,193.6 L679.5,193.5 L682.0,193.5" stroke="#f8b733" stroke-width="1.6" fill="none" stroke-linejoin="round" stroke-linecap="round"/>
<path d="M320.3,34.8C321.7,34.6 323,34.1 324.4,34.3C326,34.5 327.4,35.2 328.8,36C330.1,36.7 330.9,38.3 332.3,38.6C334,39 336.2,38.9 337.5,37.8C338.6,36.8 339,34.8 338.4,33.4C337.9,32.3 336.1,32.4 334.9,32.1C332.9,31.6 330.4,32.1 328.8,30.8C327.4,29.6 327.2,27.4 327,25.5C326.8,23.7 326.9,21.7 327.9,20.3C328.6,19.3 330.2,19.5 331.4,19.4C333.4,19.2 335.6,18.6 337.5,19.4C338.9,19.9 339.7,21.5 340.2,22.9C340.9,25.1 340,27.8 341,29.9C341.6,31.1 343.3,31.3 344.5,32" stroke="#f8b733" stroke-width="1.5" fill="none" stroke-linejoin="round" stroke-linecap="round"/>
<ellipse cx="317.6" cy="18" rx="8.5" ry="1.9" stroke="#f8b733" stroke-width="1.5" fill="none"/>
<ellipse cx="334.8" cy="23" rx="3.2" ry="2" stroke="#f5ee16" stroke-width="1.5" fill="none"/>
<path d="M343.3,366.2C342.2,366.8 341.2,367.5 340,368C339.1,368.4 338.1,368.5 337.2,368.8" stroke="#f8b733" stroke-width="1.5" fill="none" stroke-linejoin="round" stroke-linecap="round"/>
<ellipse cx="346" cy="383" rx="4" ry="5.5" stroke="#f8b733" stroke-width="1.5" fill="none"/>
<ellipse cx="335.2" cy="393.8" rx="2.5" ry="1.8" stroke="#f8b733" stroke-width="1.5" fill="none"/>
<path d="M374.0,62.5 L371.1,64.9 L368.0,66.8 L365.5,67.2 L362.9,67.3 L360.3,67.2 L357.7,67.3 L354.8,67.6 L351.8,67.9 L348.9,68.3 L346.0,68.8 L343.3,69.4 L340.7,69.9 L338.0,70.4 L335.3,71.0 L332.7,71.6 L330.0,72.2 L327.4,72.8 L324.7,73.5 L322.1,74.3 L319.6,75.1 L317.0,76.0 L314.7,76.9 L312.4,77.9 L310.1,78.9 L307.8,79.9 L305.5,81.0 L303.3,82.1 L301.1,83.3 L298.9,84.5 L296.7,85.7 L294.5,86.9 L292.3,88.2 L290.2,89.4 L288.0,90.7 L285.8,92.0 L283.6,93.4 L281.4,94.8 L279.2,96.2 L277.0,97.6 L274.9,99.0 L272.8,100.5 L270.6,101.9 L268.5,103.4 L266.4,104.9 L264.3,106.4 L262.2,107.9 L260.1,109.5 L258.0,111.0 L255.9,112.6 L253.9,114.1 L251.8,115.8 L249.8,117.4 L247.8,119.1 L245.8,120.8 L243.9,122.5 L241.9,124.2 L240.0,126.0 L238.0,127.9 L236.0,129.9 L234.1,132.0 L232.3,134.1 L230.4,136.1 L228.5,138.2" stroke="#ede021" stroke-width="1.6" fill="none" stroke-linejoin="round" stroke-linecap="round"/>
<path d="M258.4,174.0 L260.5,175.5 L262.5,177.0 L264.6,178.5 L266.6,180.0 L268.7,181.4 L270.8,182.9 L273.0,184.2 L275.8,185.7 L278.7,187.0 L281.8,187.9 L284.4,188.4 L287.0,188.7 L289.6,189.0 L292.2,189.2 L294.8,189.4 L297.4,189.6 L300.0,189.8 L302.8,190.1 L305.7,190.4 L308.5,190.7 L311.3,191.0 L314.2,191.2 L317.0,191.4 L319.5,191.5 L322.1,191.6 L324.6,191.7 L327.1,191.8 L329.6,191.9 L332.2,192.0 L334.7,192.1 L337.2,192.2 L339.8,192.3 L342.3,192.3 L344.8,192.4 L347.3,192.5 L349.9,192.5 L352.4,192.6 L354.9,192.7 L357.5,192.7 L360.0,192.8 L362.5,192.9 L365.0,192.9 L367.5,193.0 L370.0,193.1 L372.5,193.2 L375.0,193.2 L377.5,193.3 L380.0,193.4 L382.5,193.5 L385.0,193.5 L387.5,193.6 L390.0,193.6 L392.5,193.6 L395.0,193.6 L397.5,193.6 L400.0,193.6 L402.5,193.6 L405.0,193.5 L407.5,193.5 L410.0,193.5 L412.5,193.4 L415.0,193.4 L417.5,193.4 L420.0,193.3 L422.5,193.3 L425.0,193.2 L427.5,193.2 L430.0,193.1 L432.5,193.1 L435.0,193.0 L437.5,193.0 L440.0,192.9 L442.5,192.9 L445.0,192.8 L447.5,192.7 L450.0,192.7 L452.5,192.6 L455.0,192.6 L457.5,192.5 L460.0,192.4 L462.5,192.4 L465.0,192.3 L467.5,192.2 L470.0,192.2 L472.5,192.1 L475.0,192.0 L477.5,191.9 L480.0,191.9 L482.5,191.8 L485.0,191.7 L487.5,191.6 L490.0,191.5 L492.5,191.5 L495.0,191.4 L497.5,191.3 L500.0,191.2 L502.5,191.1 L505.0,191.0 L507.5,190.9 L510.0,190.7 L512.5,190.6 L515.0,190.4 L517.5,190.3 L520.0,190.1 L522.5,189.9 L525.0,189.8 L527.5,189.6 L530.0,189.4 L532.5,189.3 L535.0,189.1 L537.5,189.0 L540.0,188.8 L542.5,188.7 L545.0,188.6 L547.6,188.5 L550.2,188.4 L552.9,188.3 L555.5,188.3 L558.1,188.2 L560.7,188.2 L563.4,188.1 L566.0,188.1 L568.6,188.0 L571.3,188.0 L573.9,187.9 L576.5,187.9 L579.1,187.8 L581.8,187.8 L584.4,187.7 L587.0,187.6M637.0,185.3 L639.5,185.2 L642.0,185.2 L644.5,185.1 L647.0,185.1 L649.5,185.0 L652.0,185.0 L654.5,185.0 L657.0,185.0 L659.5,184.9 L662.0,184.9 L664.5,184.9 L667.0,184.9 L669.5,184.9 L672.0,184.9 L674.5,184.9 L677.0,184.8 L679.5,184.8 L682.0,184.8" stroke="#ede021" stroke-width="1.6" fill="none" stroke-linejoin="round" stroke-linecap="round"/>
<path d="M346.0,109.6 L348.7,109.1 L351.3,108.6 L354.0,108.1 L356.6,107.6 L359.3,107.1 L362.0,106.6 L364.6,106.2 L367.3,105.8 L370.0,105.5 L372.5,105.2 L375.0,105.0 L377.5,104.8 L380.0,104.6 L382.5,104.4 L385.0,104.3 L387.5,104.2 L390.0,104.1 L392.5,104.0 L395.0,103.9 L397.5,103.8 L400.0,103.8 L402.5,103.8 L405.0,103.8 L407.5,103.8 L410.0,103.8 L412.5,103.8 L415.0,103.8 L417.5,103.8 L420.0,103.8 L422.5,103.9 L425.0,103.9 L427.5,104.0 L430.0,104.0 L432.5,104.1 L435.0,104.1 L437.5,104.2 L440.0,104.2 L442.5,104.3 L445.0,104.4 L447.5,104.4 L450.0,104.5 L452.5,104.6 L455.0,104.6 L457.5,104.7 L460.0,104.8 L462.5,104.9 L465.0,104.9 L467.6,105.0 L470.1,105.1 L472.6,105.2 L475.1,105.3 L477.6,105.4 L480.1,105.6 L482.6,105.7 L485.1,105.8 L487.6,106.0 L490.7,106.4 L493.9,106.9 L497.0,107.5" stroke="#f5ee16" stroke-width="1.6" fill="none" stroke-linejoin="round" stroke-linecap="round"/>
<path d="M313.0,132.5 L310.9,134.6 L308.8,136.6 L306.7,138.7 L305.0,141.0 L303.5,143.8 L302.4,146.9 L302.0,150.0 L302.4,152.5 L303.6,154.8 L305.0,157.0 L306.8,159.0 L308.8,160.9 L311.0,162.5 L313.2,164.0 L315.4,165.4 L317.7,166.8 L320.0,168.0 L322.7,169.3 L325.4,170.4 L328.2,171.5 L331.0,172.4 L333.8,173.3 L336.5,174.0 L339.3,174.8 L342.2,175.4 L345.0,176.0 L347.6,176.5 L350.2,176.8 L352.8,177.2 L355.4,177.5 L358.0,177.7 L360.6,178.0 L363.2,178.3 L365.8,178.5 L368.5,178.8 L371.1,179.1 L373.7,179.4 L376.3,179.7 L379.0,179.9 L381.6,180.2 L384.2,180.5 L386.8,180.7 L389.5,180.9 L392.1,181.1 L394.7,181.3 L397.4,181.4 L400.0,181.5 L402.5,181.6 L405.0,181.6 L407.5,181.7 L410.0,181.7 L412.5,181.8 L415.0,181.8 L417.5,181.8 L420.0,181.8 L422.5,181.7 L425.0,181.7 L427.5,181.7 L430.0,181.6 L432.5,181.6 L435.0,181.5 L437.5,181.4 L440.0,181.4 L442.5,181.3 L445.0,181.2 L447.5,181.1 L450.0,181.0 L452.5,180.9 L455.0,180.8 L457.5,180.6 L460.0,180.5 L462.5,180.3 L465.0,180.1 L467.5,179.9 L470.0,179.8 L472.5,179.6 L475.0,179.4 L477.5,179.2 L480.0,179.0 L482.5,178.8 L485.0,178.6 L487.5,178.4 L490.0,178.2 L492.5,178.0 L495.0,177.8 L497.5,177.7 L500.0,177.5 L502.5,177.4 L505.0,177.2 L507.5,177.1 L510.0,177.0 L512.5,176.9 L515.0,176.8 L517.5,176.7 L520.0,176.7 L522.5,176.6 L525.0,176.5 L527.5,176.4 L530.0,176.3 L532.5,176.2 L535.0,176.1 L537.5,175.9 L540.0,175.8 L542.5,175.6 L545.0,175.4 L547.5,175.2 L550.0,174.9 L552.5,174.7 L555.0,174.4 L557.5,174.2 L560.0,173.9 L562.6,173.6 L565.2,173.4 L567.8,173.1 L570.4,172.9 L573.0,172.6 L575.6,172.4 L578.2,172.1 L580.8,171.8 L583.4,171.6 L586.1,171.3 L588.7,171.1 L591.3,170.8 L593.9,170.5 L596.5,170.3 L599.1,170.0 L601.7,169.7 L604.3,169.5 L606.9,169.2 L609.5,168.9 L612.1,168.7 L614.7,168.4M658.5,163.2 L661.3,162.7 L664.0,162.1 L666.7,161.4 L669.4,160.5 L672.0,159.5 L674.7,158.0 L677.1,156.2 L679.6,154.3 L682.0,152.5" stroke="#f5ee16" stroke-width="1.6" fill="none" stroke-linejoin="round" stroke-linecap="round"/>
<path d="M330.0,401.8 L327.5,401.8 L325.0,401.8 L322.5,401.8 L320.0,401.8 L317.5,401.8 L315.0,401.8 L312.5,401.8 L310.0,401.8 L307.5,401.8 L305.0,401.8 L302.5,401.8 L300.0,401.8 L297.5,401.8 L295.0,401.8 L292.5,401.8 L290.0,401.8 L287.5,401.8 L285.0,401.8 L282.5,401.8 L280.0,401.8 L277.5,401.8 L275.0,401.8 L272.5,401.8 L270.0,401.8 L267.5,401.8 L265.0,401.8 L262.5,401.8 L260.0,401.8 L257.5,401.8 L255.0,401.8 L252.5,401.8 L250.0,401.8 L247.5,401.8 L245.0,401.8 L242.5,401.8 L240.0,401.8 L237.5,401.8 L235.0,401.8 L232.5,401.8 L230.0,401.8 L227.5,401.8 L225.0,401.8 L222.5,401.8 L220.0,401.8 L217.5,401.8 L215.0,401.8 L212.5,401.8 L210.0,401.8 L207.5,401.8 L205.0,401.9 L202.5,401.9 L200.0,401.8 L197.5,401.5 L194.9,401.1 L192.2,400.6 L189.6,400.0 L187.1,399.1 L184.7,398.0 L182.8,396.4 L181.4,394.2 L180.0,392.0 L178.4,389.8 L176.9,387.6 L175.3,385.4 L173.8,383.2 L172.4,381.1 L171.1,379.0 L169.7,376.9 L168.4,374.7 L167.1,372.6 L165.7,370.5 L164.2,368.5 L162.7,366.5 L161.0,364.6 L159.1,362.7 L157.1,361.0 L155.1,359.3 L153.3,357.4 L151.6,355.4 L150.1,353.3 L148.8,351.0 L147.6,348.7 L146.5,346.4 L145.5,344.0 L144.7,341.5 L144.0,338.8 L143.4,336.1 L143.0,333.3 L142.7,330.5 L142.4,327.8 L142.0,325.0 L141.6,322.2 L141.2,319.4 L140.8,316.6 L140.4,313.9 L140.0,311.1 L139.6,308.3 L139.1,305.5 L138.7,303.0 L138.3,300.6 L137.8,298.1 L137.4,295.6 L136.9,293.1 L136.5,290.7 L136.0,288.2 L135.5,285.8 L135.0,283.3 L134.4,280.6 L133.6,278.0 L132.9,275.3 L132.1,272.7 L131.5,270.0 L131.0,267.5 L130.5,265.0 L130.1,262.5 L129.7,260.0 L129.3,257.5 L129.0,255.0 L128.7,252.5 L128.4,250.0 L128.2,247.5 L127.9,245.0 L127.7,242.5 L127.5,240.0 L127.3,237.5 L127.1,235.0 L127.0,232.5 L127.0,230.0 L127.4,226.4 L128.5,223.0 L129.8,220.7 L131.3,218.5 L133.0,216.5 L135.1,214.2 L137.5,212.2 L141.0,211.0 L143.7,210.8 L146.4,210.7 L149.1,210.6 L151.9,210.6 L154.6,210.5 L157.3,210.5 L160.0,210.5 L162.5,210.5 L165.0,210.5 L167.5,210.5 L170.0,210.5 L172.5,210.4 L175.0,210.4 L177.5,210.4 L180.0,210.4 L182.5,210.4 L185.0,210.4 L187.5,210.4 L190.0,210.4 L192.5,210.4M222.5,210.3 L225.0,210.3 L227.5,210.3 L230.0,210.3 L232.5,210.3 L235.0,210.3 L237.5,210.3 L240.0,210.3 L242.5,210.3 L245.0,210.3 L247.5,210.3 L250.0,210.3 L252.5,210.3 L255.0,210.3 L257.5,210.3 L260.0,210.3 L262.5,210.3 L265.0,210.3 L267.5,210.3 L270.0,210.3 L272.5,210.3 L275.0,210.3 L277.5,210.3 L280.0,210.3 L282.5,210.3 L285.0,210.3 L287.5,210.3 L290.0,210.3 L292.5,210.3 L295.0,210.3 L297.5,210.3 L300.0,210.3 L302.5,210.3 L305.0,210.3 L307.5,210.3 L310.0,210.3 L312.5,210.3 L315.0,210.3 L317.5,210.3 L320.0,210.3 L322.5,210.3 L325.0,210.3 L327.5,210.3 L330.0,210.4 L332.5,210.4 L335.0,210.4 L337.5,210.4 L340.0,210.4 L342.5,210.4 L345.0,210.4 L347.5,210.4 L350.0,210.4 L352.5,210.4 L355.0,210.4 L357.5,210.5 L360.0,210.5 L362.5,210.5 L365.0,210.5 L367.5,210.5 L370.0,210.5 L372.5,210.5 L375.0,210.5 L377.5,210.5 L380.0,210.5 L382.5,210.5 L385.0,210.6 L387.5,210.6 L390.0,210.6 L392.5,210.6 L395.0,210.6 L397.5,210.6 L400.0,210.6 L402.5,210.6 L405.0,210.6 L407.5,210.6 L410.0,210.6 L412.5,210.6 L415.0,210.6 L417.5,210.6 L420.0,210.6 L422.5,210.6 L425.0,210.6 L427.5,210.6 L430.0,210.6 L432.5,210.6 L435.0,210.6 L437.5,210.6 L440.0,210.6 L442.5,210.6 L445.0,210.6 L447.5,210.6 L450.0,210.6 L452.5,210.6 L455.0,210.6 L457.5,210.6 L460.0,210.6 L462.5,210.6 L465.0,210.6 L467.5,210.6 L470.0,210.7 L472.5,210.7 L475.0,210.7 L477.5,210.7 L480.0,210.7 L482.5,210.7 L485.0,210.7 L487.5,210.7 L490.0,210.7 L492.5,210.7 L495.0,210.8 L497.5,210.8 L500.0,210.8 L502.5,210.8 L505.0,210.9 L507.5,210.9 L510.0,210.9 L512.5,211.0 L515.0,211.0 L517.5,211.1 L520.0,211.1 L522.5,211.2 L525.0,211.2 L527.5,211.3 L530.0,211.3 L532.5,211.4 L535.0,211.4 L537.5,211.5 L540.0,211.5 L542.5,211.6 L545.0,211.6 L547.5,211.7 L550.0,211.7 L552.5,211.8 L555.0,211.8 L557.5,211.9 L560.0,211.9 L562.5,211.9 L565.1,212.0 L567.6,212.0M613.4,212.4 L615.9,212.5 L618.5,212.5 L621.0,212.5 L623.5,212.5 L626.1,212.5 L628.6,212.6 L631.2,212.6 L633.7,212.6 L636.2,212.6 L638.8,212.6 L641.3,212.7 L643.9,212.7 L646.4,212.7 L649.0,212.7 L651.5,212.7 L654.0,212.8 L656.6,212.8 L659.1,212.8 L661.7,212.8 L664.2,212.8 L666.7,212.9 L669.3,212.9 L671.8,212.9 L674.4,212.9 L676.9,213.0 L679.5,213.0 L682.0,213.0" stroke="#3e26a8" stroke-width="1.7" fill="none" stroke-linejoin="round" stroke-linecap="round"/>
<path d="M310.0,401.0 L307.5,400.9 L305.0,400.9 L302.5,400.8 L300.0,400.8 L297.5,400.8 L295.0,400.8 L292.5,400.9 L290.0,400.9 L287.5,401.0 L285.0,401.0 L282.5,401.1 L280.0,401.1 L277.5,401.2 L275.0,401.2 L272.5,401.2 L270.0,401.3 L267.5,401.3 L265.0,401.3 L262.5,401.2 L260.0,401.2 L257.4,401.1 L254.7,401.0 L252.1,400.8 L249.5,400.6 L246.8,400.4 L244.2,400.2 L241.6,400.0 L238.9,399.7 L236.3,399.5 L233.5,399.4 L230.8,399.4 L228.0,399.2 L225.5,398.4 L228.7,395.7 L224.9,393.6 L222.7,392.4 L220.4,391.2 L218.2,390.1 L215.9,388.9 L213.7,387.6 L211.6,386.3 L209.3,384.8 L207.1,383.2 L204.9,381.7 L202.7,380.0 L200.6,378.4 L198.5,376.7 L196.4,374.9 L194.4,373.1 L192.4,371.3 L190.4,369.5 L188.5,367.6 L186.7,365.6 L184.8,363.6 L183.1,361.6 L181.5,359.6 L179.9,357.6 L178.3,355.5 L176.7,353.5 L175.2,351.4 L173.7,349.2 L172.4,347.1 L171.0,344.9 L169.8,342.6 L168.7,340.2 L167.6,337.8 L166.7,335.4 L165.8,332.9 L165.0,330.4 L164.2,327.8 L163.3,325.3 L162.4,322.9 L161.5,320.4 L160.4,318.0 L159.1,315.5 L157.7,313.2 L156.2,310.9 L154.6,308.5 L153.0,306.2 L151.6,303.9 L150.2,301.5 L149.0,299.0 L148.0,296.4 L147.1,293.8 L146.4,291.2 L145.7,288.5 L145.1,285.8 L144.5,283.1 L143.9,280.4 L143.3,277.7 L142.7,275.2 L142.3,272.6 L141.8,270.1 L141.4,267.6 L141.0,265.0 L140.6,262.5 L140.2,260.0 L139.9,257.5 L139.6,255.0 L139.3,252.5 L139.0,250.0 L138.8,247.3 L138.6,244.6 L138.5,241.9 L138.4,239.2 L138.3,236.5 L138.3,233.7 L138.3,230.8 L138.5,228.0 L138.8,225.0 L139.2,221.9 L140.0,219.0 L141.4,216.3 L143.6,214.6 L146.3,214.0 L149.0,213.6 L151.7,213.4 L154.5,213.3 L157.2,213.2 L160.0,213.2 L162.5,213.2 L165.0,213.1 L167.5,213.1 L170.0,213.1 L172.5,213.1 L175.0,213.0 L177.5,213.0 L180.0,213.0 L182.5,213.0 L185.0,212.9 L187.5,212.9 L190.0,212.9 L192.5,212.9M252.5,212.7 L255.0,212.7 L257.5,212.7 L260.0,212.6 L262.5,212.6 L265.0,212.6 L267.5,212.6 L270.0,212.6 L272.5,212.6 L275.0,212.6 L277.5,212.6 L280.0,212.6 L282.5,212.6 L285.0,212.6 L287.5,212.6 L290.0,212.6 L292.5,212.6 L295.0,212.6 L297.5,212.6 L300.0,212.6 L302.5,212.6 L305.0,212.6 L307.5,212.6 L310.0,212.6 L312.5,212.6 L315.0,212.6 L317.5,212.6 L320.0,212.6 L322.5,212.6 L325.0,212.6 L327.5,212.6 L330.0,212.6 L332.5,212.6 L335.0,212.6 L337.5,212.6 L340.0,212.6 L342.5,212.6 L345.0,212.6 L347.5,212.6 L350.0,212.6 L352.5,212.6 L355.0,212.6 L357.5,212.6 L360.0,212.6 L362.5,212.6 L365.0,212.6 L367.5,212.7 L370.0,212.7 L372.5,212.7 L375.0,212.7 L377.5,212.7 L380.0,212.7 L382.5,212.7 L385.0,212.7 L387.5,212.7 L390.0,212.7 L392.5,212.8 L395.0,212.8 L397.5,212.8 L400.0,212.8 L402.5,212.8 L405.0,212.8 L407.5,212.8 L410.0,212.9 L412.5,212.9 L415.0,212.9 L417.5,212.9 L420.0,212.9 L422.5,212.9 L425.0,213.0 L427.5,213.0 L430.0,213.0 L432.5,213.0 L435.0,213.0 L437.5,213.0 L440.0,213.1 L442.5,213.1 L445.0,213.1 L447.5,213.1 L450.0,213.1 L452.5,213.2 L455.0,213.2 L457.5,213.2 L460.0,213.2 L462.5,213.3 L465.0,213.3 L467.5,213.3 L470.0,213.3 L472.5,213.4 L475.0,213.4 L477.5,213.4 L480.0,213.4 L482.5,213.5 L485.0,213.5 L487.5,213.5 L490.0,213.6 L492.5,213.6 L495.0,213.6 L497.5,213.7 L500.0,213.7 L502.5,213.7 L505.0,213.8 L507.5,213.8 L510.0,213.9 L512.5,213.9 L515.0,214.0 L517.5,214.1 L520.0,214.1 L522.5,214.2 L525.0,214.3 L527.5,214.3 L530.0,214.4 L532.5,214.5 L535.0,214.6 L537.5,214.6 L540.0,214.7 L542.5,214.8 L545.0,214.8 L547.5,214.9 L550.0,214.9 L552.5,215.0 L555.0,215.0 L557.5,215.1 L560.0,215.1 L562.5,215.1 L565.1,215.2 L567.6,215.2 L570.2,215.2 L572.7,215.2 L575.2,215.3 L577.8,215.3M608.3,215.5 L610.8,215.5 L613.4,215.5 L615.9,215.5 L618.5,215.5 L621.0,215.5 L623.5,215.5 L626.1,215.6 L628.6,215.6 L631.2,215.6 L633.7,215.6 L636.2,215.6 L638.8,215.6 L641.3,215.6 L643.9,215.6 L646.4,215.6 L649.0,215.6 L651.5,215.7 L654.0,215.7 L656.6,215.7 L659.1,215.7 L661.7,215.7 L664.2,215.7 L666.7,215.7 L669.3,215.7 L671.8,215.7 L674.4,215.8 L676.9,215.8 L679.5,215.8 L682.0,215.8" stroke="#1aa9db" stroke-width="1.6" fill="none" stroke-linejoin="round" stroke-linecap="round"/>
<path d="M312.0,393.0 L309.6,392.1 L307.2,391.1 L304.8,390.1 L302.4,389.2 L300.0,388.4 L297.4,387.6 L294.8,386.9 L292.1,386.2 L289.5,385.6 L286.8,384.9 L284.2,384.2 L281.6,383.5 L279.0,382.7 L276.4,381.8 L274.0,380.9 L271.7,380.0 L269.3,379.0 L267.0,378.0 L264.7,377.0 L262.4,376.0 L260.0,374.9 L257.8,373.9 L255.5,372.7 L253.2,371.6 L250.9,370.5 L248.7,369.3 L246.3,368.0 L243.9,366.8 L241.6,365.5 L239.2,364.2 L236.9,362.8 L234.5,361.5 L232.2,360.1 L229.9,358.7 L227.6,357.2 L225.4,355.7 L223.2,354.2 L221.0,352.6 L218.9,351.1 L216.9,349.5 L214.9,347.9 L212.9,346.3 L210.9,344.6 L209.0,342.9 L207.0,341.2 L205.1,339.5 L203.2,337.7 L201.4,335.9 L199.6,334.1 L197.8,332.3 L196.0,330.4 L194.1,328.3 L192.4,326.0 L190.7,323.7 L189.2,321.3 L187.7,318.8 L186.3,316.3 L184.9,313.8 L183.7,311.4 L182.5,309.0 L181.4,306.5 L180.4,304.0 L179.4,301.5 L178.4,299.0 L177.4,296.5 L176.3,294.1 L175.2,291.6 L174.0,289.2 L172.8,286.7 L171.6,284.3 L170.4,281.9 L169.2,279.5 L167.9,277.0 L166.7,274.6 L165.5,272.2 L164.2,269.8 L162.9,267.3 L161.6,264.9 L160.3,262.5 L159.1,260.1 L158.0,257.6 L157.0,255.0 L156.3,252.5 L155.7,249.9 L155.4,247.3 L155.3,244.6 L155.3,242.0 L156.2,238.9 L158.0,236.0 L159.6,233.9 L161.3,231.8 L163.1,229.9 L165.0,228.0 L167.5,225.8 L170.1,223.8 L172.8,222.0 L175.1,220.8 L177.5,219.7 L180.0,219.0 L182.9,218.5 L185.8,218.1 L188.8,217.9 L191.7,217.6 L194.6,217.3 L197.5,216.9 L200.5,216.6 L203.4,216.4M257.5,215.0 L260.0,215.0 L262.5,215.0 L265.0,214.9 L267.5,214.9 L270.0,214.9 L272.5,214.9 L275.0,214.9 L277.5,214.9 L280.0,214.9 L282.5,214.9 L285.0,214.9 L287.5,214.9 L290.0,214.9 L292.5,214.9 L295.0,214.8 L297.5,214.8 L300.0,214.8 L302.5,214.8 L305.0,214.8 L307.5,214.8 L310.0,214.8 L312.5,214.8 L315.0,214.8 L317.5,214.8 L320.0,214.8 L322.5,214.8 L325.0,214.8 L327.5,214.8 L330.0,214.9 L332.5,214.9 L335.0,214.9 L337.5,214.9 L340.0,214.9 L342.5,214.9 L345.0,214.9 L347.5,214.9 L350.0,214.9 L352.5,214.9 L355.0,214.9 L357.5,214.9 L360.0,215.0 L362.5,215.0 L365.0,215.0 L367.5,215.0 L370.0,215.0 L372.5,215.0 L375.0,215.0 L377.5,215.0 L380.0,215.1 L382.5,215.1 L385.0,215.1 L387.5,215.1 L390.0,215.1 L392.5,215.1 L395.0,215.2 L397.5,215.2 L400.0,215.2 L402.5,215.2 L405.0,215.2 L407.5,215.3 L410.0,215.3 L412.5,215.3 L415.0,215.4 L417.5,215.4 L420.0,215.4 L422.5,215.4 L425.0,215.5 L427.5,215.5 L430.0,215.6 L432.5,215.6 L435.0,215.6 L437.5,215.7 L440.0,215.7 L442.5,215.8 L445.0,215.8 L447.5,215.9 L450.0,215.9 L452.5,216.0 L455.0,216.0 L457.5,216.0 L460.0,216.1 L462.5,216.1 L465.0,216.2 L467.5,216.2 L470.0,216.3 L472.5,216.3 L475.0,216.4 L477.5,216.4 L480.0,216.5 L482.5,216.6 L485.0,216.6 L487.5,216.7 L490.0,216.7 L492.5,216.8 L495.0,216.8 L497.5,216.9 L500.0,216.9 L502.5,216.9 L505.0,217.0 L507.5,217.1 L510.0,217.1 L512.5,217.2 L515.0,217.2 L517.5,217.3 L520.0,217.4 L522.5,217.4 L525.0,217.5 L527.5,217.5 L530.0,217.6 L532.5,217.7 L535.0,217.7 L537.5,217.8 L540.0,217.9 L542.5,217.9 L545.0,218.0 L547.5,218.0 L550.0,218.1 L552.5,218.1 L555.0,218.2 L557.5,218.3 L560.0,218.3 L562.5,218.3 L565.1,218.4 L567.6,218.4 L570.2,218.5 L572.7,218.5 L575.2,218.6 L577.8,218.6M654.0,219.9 L656.6,219.9 L659.1,219.9 L661.7,220.0 L664.2,220.0 L666.7,220.1 L669.3,220.1 L671.8,220.1 L674.4,220.2 L676.9,220.2 L679.5,220.3 L682.0,220.3" stroke="#a3c83a" stroke-width="1.6" fill="none" stroke-linejoin="round" stroke-linecap="round"/>
<path d="M295.3,396.9C298.5,396.4 301.8,396 305,395.5C308.6,395 312.2,394.4 315.8,393.8" stroke="#a3c83a" stroke-width="1.5" fill="none" stroke-linejoin="round" stroke-linecap="round"/>
<path d="M326,394C328.3,393.7 330.7,393.7 333,393.2C335.8,392.6 338.5,391.6 341.3,390.8" stroke="#a3c83a" stroke-width="1.5" fill="none" stroke-linejoin="round" stroke-linecap="round"/>
<path d="M254.2,330.4 L251.9,329.0 L249.6,327.7 L247.3,326.3 L244.9,325.0 L242.7,323.6 L240.4,322.1 L238.2,320.6 L236.0,319.2 L233.8,317.7 L231.6,316.2 L229.4,314.7 L227.3,313.2 L225.1,311.6 L223.0,310.0 L221.0,308.3 L219.0,306.6 L217.0,304.9 L215.0,303.2 L213.0,301.4 L211.1,299.6 L209.2,297.7 L207.5,295.8 L205.8,293.7 L204.3,291.6 L202.9,289.3 L201.5,286.9 L200.3,284.4 L199.2,282.0 L198.2,279.4 L197.1,276.9 L196.2,274.3 L195.2,271.7 L194.2,269.1 L193.2,266.6 L192.1,263.8 L191.3,260.9 L190.5,258.0 L189.9,255.4 L189.4,252.7 L189.3,250.0 L189.7,246.7 L190.4,243.5 L191.7,240.4 L193.2,238.1 L195.2,236.1 L197.5,234.5 L200.3,233.1 L203.2,232.1 L206.2,231.2 L209.2,230.4 L211.7,229.7 L214.2,229.1 L216.7,228.5 L219.2,228.0 L221.7,227.4 L224.2,226.9 L226.7,226.4 L229.2,225.9 L231.7,225.4 L234.2,225.0 L236.7,224.6 L239.3,224.2 L241.8,223.8 L244.3,223.4 L246.9,223.0 L249.5,222.7 L252.1,222.4 L254.8,222.1 L257.4,221.9 L260.0,221.7 L262.5,221.6 L265.0,221.5 L267.5,221.4 L270.0,221.3 L272.5,221.3 L275.0,221.2 L277.5,221.2 L280.0,221.1 L282.5,221.1 L285.0,221.0 L287.5,221.0 L290.0,221.0 L292.5,220.9 L295.0,220.9 L297.5,220.9 L300.0,220.8 L302.5,220.8 L305.0,220.8 L307.5,220.7 L310.0,220.7 L312.5,220.7 L315.0,220.6 L317.5,220.6 L320.0,220.6 L322.5,220.6 L325.0,220.6 L327.5,220.5 L330.0,220.5 L332.5,220.5 L335.0,220.4 L337.5,220.4 L340.0,220.4 L342.5,220.4 L345.0,220.3 L347.5,220.3 L350.0,220.3 L352.5,220.2 L355.0,220.2 L357.5,220.2 L360.0,220.1 L362.5,220.1 L365.0,220.1 L367.5,220.0 L370.0,220.0 L372.5,220.0 L375.0,220.0 L377.5,219.9 L380.0,219.9 L382.5,219.9 L385.0,219.9 L387.5,219.9 L390.0,219.8 L392.5,219.8 L395.0,219.8 L397.5,219.8 L400.0,219.8 L402.5,219.8 L405.0,219.8 L407.5,219.8 L410.0,219.8M457.5,220.4 L460.0,220.4 L462.5,220.5 L465.0,220.6 L467.5,220.7 L470.0,220.7 L472.5,220.8 L475.0,220.9 L477.5,221.0 L480.0,221.1 L482.5,221.2 L485.0,221.3 L487.5,221.4 L490.0,221.5 L492.5,221.6 L495.0,221.7 L497.5,221.8 L500.0,221.9 L502.5,222.0 L505.0,222.1 L507.5,222.2 L510.0,222.2 L512.5,222.3 L515.0,222.4 L517.5,222.5 L520.0,222.6 L522.5,222.7 L525.0,222.7 L527.5,222.8 L530.0,222.9 L532.5,223.0 L535.0,223.1 L537.5,223.1 L540.0,223.2 L542.5,223.3 L545.0,223.4 L547.5,223.4 L550.0,223.5 L552.5,223.6 L555.0,223.7 L557.5,223.7 L560.0,223.8 L562.5,223.9 L565.0,223.9 L567.5,224.0 L570.0,224.0 L572.5,224.1 L575.0,224.1 L577.5,224.2 L580.0,224.2 L582.5,224.3 L585.0,224.3 L587.5,224.3 L590.0,224.4 L592.5,224.4 L595.0,224.5 L597.5,224.5 L600.0,224.6 L602.6,224.7 L605.1,224.7 L607.7,224.8 L610.3,224.9 L612.8,224.9 L615.4,225.0 L617.9,225.1 L620.5,225.1 L623.1,225.2 L625.6,225.3 L628.2,225.3 L630.8,225.4 L633.3,225.5 L635.9,225.5 L638.4,225.6 L641.0,225.7 L643.6,225.7 L646.1,225.8 L648.7,225.9 L651.3,226.0 L653.8,226.0 L656.4,226.1 L658.9,226.2 L661.5,226.2 L664.1,226.3 L666.6,226.4 L669.2,226.5 L671.8,226.5 L674.3,226.6 L676.9,226.7 L679.4,226.7 L682.0,226.8" stroke="#f8b733" stroke-width="1.6" fill="none" stroke-linejoin="round" stroke-linecap="round"/>
<path d="M292.7,352.3 L295.2,353.2 L297.7,354.0 L300.1,354.9 L302.6,355.7 L305.1,356.6 L307.6,357.4 L310.0,358.3 L312.5,359.2 L315.0,360.0 L317.5,360.9 L320.0,361.8 L322.5,362.8 L325.0,363.8 L327.5,364.7 L330.0,365.6 L332.5,366.4 L335.1,367.1 L337.7,367.6 L340.3,367.4 L342.8,366.5 L345.3,365.6 L347.9,365.5 L350.2,366.7 L352.1,368.7 L354.0,370.7" stroke="#f8b733" stroke-width="1.6" fill="none" stroke-linejoin="round" stroke-linecap="round"/>
<path d="M682.0,237.8 L679.4,237.7 L676.9,237.6 L674.3,237.5 L671.7,237.4 L669.2,237.3 L666.6,237.2 L664.1,237.1 L661.5,237.0 L658.9,236.9 L656.4,236.8 L653.8,236.7 L651.2,236.6 L648.7,236.5 L646.1,236.4 L643.6,236.3 L641.0,236.2 L638.4,236.1 L635.9,236.0 L633.3,235.9 L630.7,235.8 L628.2,235.7 L625.6,235.6 L623.1,235.5 L620.5,235.4 L617.9,235.2 L615.4,235.1 L612.8,235.0 L610.2,234.9 L607.7,234.8 L605.1,234.7 L602.6,234.6 L600.0,234.5 L597.5,234.4 L595.0,234.3 L592.5,234.2 L590.0,234.0 L587.5,233.9 L585.0,233.8 L582.5,233.7 L580.0,233.5 L577.5,233.4 L575.0,233.3 L572.5,233.2 L570.0,233.0 L567.5,232.9 L565.0,232.8M508.0,230.4 L505.5,230.3 L503.0,230.2 L500.4,230.1 L497.9,230.0 L495.4,229.9 L492.9,229.8 L490.3,229.7 L487.8,229.6 L485.3,229.5 L482.8,229.4 L480.3,229.3 L477.7,229.2 L475.2,229.1 L472.7,229.0 L470.2,228.9 L467.7,228.8 L465.1,228.8 L462.6,228.7 L460.1,228.6 L457.6,228.5 L455.0,228.4 L452.5,228.3 L450.0,228.2 L447.5,228.1 L445.0,228.0 L442.5,227.9 L440.0,227.8 L437.5,227.6 L435.0,227.5 L432.5,227.4 L430.0,227.3 L427.5,227.1 L425.0,227.0 L422.5,226.9 L420.0,226.8 L417.5,226.7 L415.0,226.6 L412.5,226.6 L410.0,226.5 L407.5,226.5 L405.0,226.5 L402.5,226.5 L400.0,226.5 L397.5,226.5 L395.0,226.6 L392.4,226.6 L389.9,226.7 L387.4,226.8 L384.9,226.8 L382.3,226.9 L379.8,227.0 L377.3,227.1 L374.8,227.1 L372.2,227.2 L369.7,227.3 L367.2,227.4 L364.7,227.5 L362.2,227.6 L359.6,227.8 L357.1,227.9 L354.6,228.0 L352.1,228.1 L349.5,228.3 L347.0,228.4 L344.5,228.5 L342.0,228.7 L339.5,228.8 L336.9,229.0 L334.4,229.2 L331.9,229.3 L329.4,229.5 L326.9,229.7 L324.4,229.8 L321.8,230.0 L319.3,230.2 L316.8,230.4 L314.2,230.6 L311.6,230.8 L309.0,231.1 L306.4,231.3 L303.9,231.6 L301.3,231.9 L298.7,232.2 L296.1,232.5 L293.5,232.9 L290.9,233.2 L288.4,233.6 L285.8,234.0 L283.2,234.4 L280.7,234.9 L278.1,235.3 L275.6,235.8 L273.0,236.3 L270.5,236.8 L268.0,237.3 L265.5,237.9 L263.1,238.5 L260.6,239.1 L258.1,239.8 L255.7,240.5 L253.3,241.3 L250.9,242.1 L248.5,243.0 L246.1,244.0 L243.8,245.0 L241.5,246.2 L239.4,247.6 L237.3,249.3 L235.4,251.1 L233.6,253.0 L232.0,255.0 L230.7,258.3 L230.7,262.0 L231.3,264.9 L232.2,267.7 L233.4,270.3 L235.0,272.8 L236.7,274.7 L238.6,276.4 L240.7,278.0 L242.9,279.5 L245.0,281.0 L247.3,282.6 L249.7,284.2 L252.2,285.7 L254.6,287.3 L257.0,288.8" stroke="#ede021" stroke-width="1.6" fill="none" stroke-linejoin="round" stroke-linecap="round"/>
<path d="M303.6,316.6 L305.9,317.6 L308.2,318.5 L310.5,319.5 L312.9,320.5 L315.2,321.4 L317.5,322.4 L319.8,323.4 L322.1,324.3 L324.4,325.3 L326.8,326.3 L329.1,327.2 L331.4,328.2 L333.9,329.2 L336.3,330.3 L338.7,331.4 L341.2,332.6 L343.6,333.7 L346.0,334.8 L348.5,335.9 L350.9,337.0 L353.4,338.0 L355.9,339.0 L358.4,339.9 L360.9,340.7 L363.5,341.4 L366.0,342.0 L368.6,342.3 L371.2,342.5 L373.8,342.6 L376.4,342.7 L379.0,342.7 L381.7,342.7 L384.3,342.7 L386.9,342.8" stroke="#ede021" stroke-width="1.6" fill="none" stroke-linejoin="round" stroke-linecap="round"/>
<path d="M351.8,259.6 L353.8,257.6 L355.7,255.5 L357.7,253.5 L360.0,252.0 L362.4,251.0 L364.8,250.1 L367.3,249.5 L369.9,248.9 L372.4,248.4 L375.0,248.0 L377.5,247.6 L380.0,247.2 L382.5,246.9 L385.0,246.6 L387.5,246.4 L390.0,246.1 L392.5,245.9 L395.0,245.6 L397.5,245.3 L400.0,245.0 L402.5,244.6 L405.0,244.3 L407.5,243.9 L410.0,243.4 L412.5,243.0 L415.0,242.6 L417.5,242.2 L420.0,241.8 L422.5,241.4 L425.0,241.1 L427.5,240.8 L430.0,240.5 L432.6,240.3 L435.1,240.0 L437.7,239.8 L440.3,239.7 L442.9,239.5 L445.5,239.4 L448.1,239.3 L450.6,239.3 L453.2,239.2 L455.8,239.2 L458.4,239.2 L461.0,239.2 L463.7,239.3 L466.3,239.4 L468.9,239.5 L471.6,239.6 L474.2,239.7 L476.9,239.9 L479.5,240.1 L482.1,240.3 L484.7,240.5 L487.4,240.7 L490.0,241.0 L492.7,241.3 L495.4,241.7 L498.1,242.1 L500.7,242.5 L503.4,243.0 L506.1,243.4 L508.8,243.9 L511.4,244.3 L514.1,244.7 L516.8,245.0 L519.3,245.3 L521.9,245.5 L524.4,245.8 L527.0,246.0 L529.5,246.2 L532.0,246.5 L534.6,246.7 L537.1,246.9 L539.7,247.1 L542.2,247.3 L544.8,247.5 L547.3,247.7 L549.8,247.9 L552.4,248.2 L554.9,248.4 L557.5,248.7 L560.0,249.0 L562.5,249.3 L565.0,249.6 L567.5,250.0 L570.0,250.3 L572.5,250.6 L575.0,251.0 L577.5,251.4 L580.0,251.7 L582.5,252.1 L585.0,252.5 L587.5,252.9 L590.0,253.3 L592.5,253.7 L595.0,254.2 L597.5,254.6 L600.0,255.0 L602.5,255.5 L604.9,256.0 L607.4,256.6 L609.8,257.2 L612.3,257.8 L614.7,258.4 L617.3,259.0 L619.8,259.7 L622.4,260.3 L624.9,261.0 L627.5,261.7 L630.0,262.5 L633.0,263.2 L635.9,264.1 L637.6,266.0 L635.9,268.8 L632.0,270.5 L629.6,271.4 L627.2,272.1 L624.8,272.8 L622.4,273.4 L619.9,273.9 L617.5,274.5 L615.0,275.0 L612.5,275.5 L610.1,276.1 L607.6,276.6 L605.2,277.0 L602.7,277.5 L600.2,278.0 L597.7,278.4 L595.3,278.9 L592.8,279.4" stroke="#f5ee16" stroke-width="1.6" fill="none" stroke-linejoin="round" stroke-linecap="round"/>
<path d="M557.7,294.7 L555.2,295.2 L552.7,295.7 L550.1,296.2 L547.6,296.7 L545.1,297.2 L542.5,297.6 L540.0,298.0 L537.4,298.3 L534.9,298.7 L532.3,298.9 L529.7,299.2 L527.1,299.5 L524.5,299.7 L522.0,300.0 L519.4,300.2 L516.8,300.5 L514.2,300.8 L511.5,301.1 L508.9,301.4 L506.3,301.7 L503.7,301.9 L501.0,302.2 L498.4,302.5 L495.8,302.8 L493.1,303.1 L490.5,303.4 L487.9,303.7 L485.3,304.0 L482.6,304.2 L480.0,304.5 L477.3,304.8 L474.6,305.1 L471.9,305.3 L469.2,305.6 L466.5,305.9 L463.8,306.1 L461.1,306.3 L458.4,306.4 L455.8,306.5 L453.2,306.6 L450.7,306.6 L448.1,306.6 L445.5,306.7 L442.9,306.7 L440.3,306.7 L437.7,306.6 L435.2,306.6 L432.6,306.6 L430.0,306.6 L427.5,306.6 L425.0,306.6 L422.5,306.7 L420.0,306.8 L417.5,306.8 L415.0,306.9 L412.5,306.9 L410.0,306.8 L407.5,306.8 L405.0,306.7 L402.5,306.5 L400.0,306.2 L397.4,305.7 L394.9,305.0 L392.4,304.1 L389.9,303.1 L387.4,302.1 L385.0,301.0 L382.7,300.0 L380.4,298.9 L378.2,297.8 L376.0,296.6 L373.8,295.5 L371.5,294.3 L369.3,293.2" stroke="#f5ee16" stroke-width="1.6" fill="none" stroke-linejoin="round" stroke-linecap="round"/>
</g>
<text x="238.5" y="165.8" font-family="Liberation Sans" font-size="19" text-anchor="middle" fill="#000" transform="rotate(48 238.5 159.5)">0.86</text>
<text x="329" y="129.3" font-family="Liberation Sans" font-size="19" text-anchor="middle" fill="#000" transform="rotate(-33 329 123)">0.9</text>
<text x="376.5" y="64.3" font-family="Liberation Sans" font-size="19" text-anchor="middle" fill="#000" transform="rotate(42 376.5 58)">0.8</text>
<text x="514" y="118.3" font-family="Liberation Sans" font-size="19" text-anchor="middle" fill="#000" transform="rotate(15 514 112)">0.86</text>
<text x="570.5" y="129.8" font-family="Liberation Sans" font-size="19" text-anchor="middle" fill="#000" transform="rotate(15 570.5 123.5)">0.2</text>
<text x="571.5" y="130.8" font-family="Liberation Sans" font-size="19" text-anchor="middle" fill="#000" transform="rotate(15 571.5 124.5)">0.5</text>
<text x="591" y="135.8" font-family="Liberation Sans" font-size="19" text-anchor="middle" fill="#000" transform="rotate(15 591 129.5)">0.7</text>
<text x="632" y="145.3" font-family="Liberation Sans" font-size="19" text-anchor="middle" fill="#000" transform="rotate(10 632 139)">0.9</text>
<text x="636.6" y="174.7" font-family="Liberation Sans" font-size="19" text-anchor="middle" fill="#000" transform="rotate(-6 636.6 168.4)">0.9</text>
<text x="611" y="193.3" font-family="Liberation Sans" font-size="19" text-anchor="middle" fill="#000" transform="rotate(-3 611 187)">0.86</text>
<text x="580.5" y="202.1" font-family="Liberation Sans" font-size="19" text-anchor="middle" fill="#000" transform="rotate(0 580.5 195.8)">0.8</text>
<text x="635.3" y="207.1" font-family="Liberation Sans" font-size="19" text-anchor="middle" fill="#000" transform="rotate(0 635.3 200.8)">0.7</text>
<text x="593.8" y="210.8" font-family="Liberation Sans" font-size="19" text-anchor="middle" fill="#000" transform="rotate(0 593.8 204.5)">0.5</text>
<text x="589.7" y="218" font-family="Liberation Sans" font-size="19" text-anchor="middle" fill="#000" transform="rotate(0 589.7 211.7)">0.2</text>
<text x="618" y="222.2" font-family="Liberation Sans" font-size="19" text-anchor="middle" fill="#000" transform="rotate(0 618 215.9)">0.5</text>
<text x="633" y="226.7" font-family="Liberation Sans" font-size="19" text-anchor="middle" fill="#000" transform="rotate(0 633 220.4)">0.7</text>
<text x="208" y="201.3" font-family="Liberation Sans" font-size="19" text-anchor="middle" fill="#000" transform="rotate(0 208 195)">0.8</text>
<text x="208" y="212.3" font-family="Liberation Sans" font-size="19" text-anchor="middle" fill="#000" transform="rotate(0 208 206)">0.5</text>
<text x="205.4" y="216.8" font-family="Liberation Sans" font-size="19" text-anchor="middle" fill="#000" transform="rotate(0 205.4 210.5)">0.2</text>
<text x="251" y="210.3" font-family="Liberation Sans" font-size="19" text-anchor="middle" fill="#000" transform="rotate(0 251 204)">0.7</text>
<text x="233" y="221.3" font-family="Liberation Sans" font-size="19" text-anchor="middle" fill="#000" transform="rotate(0 233 215)">0.5</text>
<text x="246" y="222.3" font-family="Liberation Sans" font-size="19" text-anchor="middle" fill="#000" transform="rotate(0 246 216)">0.7</text>
<text x="234.6" y="21.9" font-family="Liberation Sans" font-size="19" text-anchor="middle" fill="#000" transform="rotate(0 234.6 15.6)">0.5</text>
<text x="237.7" y="22.3" font-family="Liberation Sans" font-size="19" text-anchor="middle" fill="#000" transform="rotate(0 237.7 16)">0.2</text>
<text x="256" y="21.9" font-family="Liberation Sans" font-size="19" text-anchor="middle" fill="#000" transform="rotate(0 256 15.6)">0.7</text>
<text x="433.6" y="228" font-family="Liberation Sans" font-size="19" text-anchor="middle" fill="#000" transform="rotate(0 433.6 221.7)">0.8</text>
<text x="537" y="239.1" font-family="Liberation Sans" font-size="19" text-anchor="middle" fill="#000" transform="rotate(2 537 232.8)">0.86</text>
<text x="355.5" y="284.9" font-family="Liberation Sans" font-size="19" text-anchor="middle" fill="#000" transform="rotate(62 355.5 278.6)">0.9</text>
<text x="280" y="308.8" font-family="Liberation Sans" font-size="19" text-anchor="middle" fill="#000" transform="rotate(32 280 302.5)">0.86</text>
<text x="273" y="349.3" font-family="Liberation Sans" font-size="19" text-anchor="middle" fill="#000" transform="rotate(35 273 343)">0.8</text>
<text x="572" y="293.3" font-family="Liberation Sans" font-size="19" text-anchor="middle" fill="#000" transform="rotate(-15 572 287)">0.9</text>
<text x="604" y="300.8" font-family="Liberation Sans" font-size="19" text-anchor="middle" fill="#000" transform="rotate(-8.5 604 294.5)">0.8</text>
<text x="620" y="298.8" font-family="Liberation Sans" font-size="19" text-anchor="middle" fill="#000" transform="rotate(-8.5 620 292.5)">0.86</text>
<text x="632" y="296.8" font-family="Liberation Sans" font-size="19" text-anchor="middle" fill="#000" transform="rotate(-8.5 632 290.5)">0.2</text>
<text x="639" y="295.8" font-family="Liberation Sans" font-size="19" text-anchor="middle" fill="#000" transform="rotate(-8.5 639 289.5)">0.5</text>
<text x="650" y="294.3" font-family="Liberation Sans" font-size="19" text-anchor="middle" fill="#000" transform="rotate(-8.5 650 288)">0.7</text>
<text x="297" y="408.3" font-family="Liberation Sans" font-size="19" text-anchor="middle" fill="#000" transform="rotate(0 297 402)">0.2</text>
<text x="299" y="407.3" font-family="Liberation Sans" font-size="19" text-anchor="middle" fill="#000" transform="rotate(0 299 401)">0.5</text>
<text x="313" y="404.3" font-family="Liberation Sans" font-size="19" text-anchor="middle" fill="#000" transform="rotate(0 313 398)">0.7</text>
<path d="M159.9,16H171.1 M165.5,10.4V21.6M159.9,17H171.1 M165.5,11.4V22.6M159.9,18H171.1 M165.5,12.4V23.6M159.9,19H171.1 M165.5,13.4V24.6M159.9,20H171.1 M165.5,14.4V25.6M159.9,21H171.1 M165.5,15.4V26.6M159.9,22H171.1 M165.5,16.4V27.6M159.9,23H171.1 M165.5,17.4V28.6M159.9,24H171.1 M165.5,18.4V29.6M159.9,25H171.1 M165.5,19.4V30.6M159.9,26H171.1 M165.5,20.4V31.6M159.9,27H171.1 M165.5,21.4V32.6M159.9,31H171.1 M165.5,25.4V36.6M159.9,35H171.1 M165.5,29.4V40.6M159.9,41H171.1 M165.5,35.4V46.6M159.9,49H171.1 M165.5,43.4V54.6M159.9,55H171.1 M165.5,49.4V60.6M159.9,58H171.1 M165.5,52.4V63.6M159.9,60H171.1 M165.5,54.4V65.6M159.9,63H171.1 M165.5,57.4V68.6M159.9,65H171.1 M165.5,59.4V70.6M159.9,67H171.1 M165.5,61.4V72.6M159.9,72H171.1 M165.5,66.4V77.6M159.9,75H171.1 M165.5,69.4V80.6M159.9,78H171.1 M165.5,72.4V83.6M159.9,82H171.1 M165.5,76.4V87.6M159.9,86H171.1 M165.5,80.4V91.6M159.9,90H171.1 M165.5,84.4V95.6M159.9,94H171.1 M165.5,88.4V99.6M159.9,98H171.1 M165.5,92.4V103.6M159.9,102H171.1 M165.5,96.4V107.6M159.9,106H171.1 M165.5,100.4V111.6M159.9,110H171.1 M165.5,104.4V115.6M159.9,114H171.1 M165.5,108.4V119.6M159.9,118H171.1 M165.5,112.4V123.6M159.9,122H171.1 M165.5,116.4V127.6M159.9,126H171.1 M165.5,120.4V131.6M159.9,130H171.1 M165.5,124.4V135.6M159.9,134H171.1 M165.5,128.4V139.6M159.9,138H171.1 M165.5,132.4V143.6M159.9,142H171.1 M165.5,136.4V147.6M159.9,146H171.1 M165.5,140.4V151.6M159.9,150H171.1 M165.5,144.4V155.6M159.9,156H171.1 M165.5,150.4V161.6M159.9,160H171.1 M165.5,154.4V165.6M159.9,165H171.1 M165.5,159.4V170.6M159.9,170H171.1 M165.5,164.4V175.6M159.9,175H171.1 M165.5,169.4V180.6M159.9,180H171.1 M165.5,174.4V185.6M159.9,185H171.1 M165.5,179.4V190.6M159.9,190H171.1 M165.5,184.4V195.6M159.9,195H171.1 M165.5,189.4V200.6M159.9,200H171.1 M165.5,194.4V205.6M159.9,204H171.1 M165.5,198.4V209.6M132.7,83H143.9 M138.3,77.4V88.6M132.7,93H143.9 M138.3,87.4V98.6M132.7,103H143.9 M138.3,97.4V108.6M132.7,113H143.9 M138.3,107.4V118.6M132.7,123H143.9 M138.3,117.4V128.6M132.7,133H143.9 M138.3,127.4V138.6M113.6,229.3H124.8 M119.2,223.7V234.9M114.7,239.1H125.9 M120.3,233.5V244.7M114.7,247.8H125.9 M120.3,242.2V253.4M115.7,258.7H126.9 M121.3,253.1V264.3M116.8,270.7H128 M122.4,265.1V276.3M117.9,282.7H129.1 M123.5,277.1V288.3M119,299H130.2 M124.6,293.4V304.6M120.8,314.3H132 M126.4,308.7V319.9M122.3,332.8H133.5 M127.9,327.2V338.4M123.4,348H134.6 M129,342.4V353.6M125.5,368.8H136.7 M131.1,363.2V374.4M127.3,388.4H138.5 M132.9,382.8V394M129.4,403.6H140.6 M135,398V409.2M132.4,403.6H143.6 M138,398V409.2M135.4,403.6H146.6 M141,398V409.2M160.4,218H171.6 M166,212.4V223.6M160.4,221H171.6 M166,215.4V226.6M160.4,224H171.6 M166,218.4V229.6M160.4,227H171.6 M166,221.4V232.6M160.4,230H171.6 M166,224.4V235.6M160.4,233H171.6 M166,227.4V238.6M160.4,236H171.6 M166,230.4V241.6M160.4,240H171.6 M166,234.4V245.6M160.4,244H171.6 M166,238.4V249.6M160.4,248H171.6 M166,242.4V253.6M135.4,293.7H146.6 M141,288.1V299.3M137.5,311.1H148.7 M143.1,305.5V316.7M139.7,318.7H150.9 M145.3,313.1V324.3M141.9,337.3H153.1 M147.5,331.7V342.9M144.1,339.4H155.3 M149.7,333.8V345M145.2,359H156.4 M150.8,353.4V364.6M159.3,365.6H170.5 M164.9,360V371.2M148.4,374.3H159.6 M154,368.7V379.9M150.6,387.4H161.8 M156.2,381.8V393M152.8,399.3H164 M158.4,393.7V404.9M156,404.8H167.2 M161.6,399.2V410.4" stroke="#0072bd" stroke-width="1.25" fill="none"/>
<path d="M120.3,4.1L126.8,16.6L113.8,16.6ZM121.8,4.1L128.3,16.6L115.3,16.6ZM123.3,4.1L129.8,16.6L116.8,16.6ZM124.7,4.1L131.2,16.6L118.2,16.6ZM126.2,4.1L132.7,16.6L119.7,16.6ZM127.7,4.1L134.2,16.6L121.2,16.6ZM129.2,4.1L135.7,16.6L122.7,16.6ZM130.7,4.1L137.2,16.6L124.2,16.6ZM132.1,4.1L138.6,16.6L125.6,16.6ZM133.6,4.1L140.1,16.6L127.1,16.6ZM135.1,4.1L141.6,16.6L128.6,16.6ZM136.6,4.1L143.1,16.6L130.1,16.6ZM138.1,4.1L144.6,16.6L131.6,16.6ZM139.5,4.1L146,16.6L133,16.6ZM141,4.1L147.5,16.6L134.5,16.6ZM142.5,4.1L149,16.6L136,16.6ZM144,4.1L150.5,16.6L137.5,16.6ZM145.5,4.1L152,16.6L139,16.6ZM146.9,4.1L153.4,16.6L140.4,16.6ZM148.4,4.1L154.9,16.6L141.9,16.6ZM149.9,4.1L156.4,16.6L143.4,16.6ZM151.4,4.1L157.9,16.6L144.9,16.6ZM152.9,4.1L159.4,16.6L146.4,16.6ZM154.3,4.1L160.8,16.6L147.8,16.6ZM155.8,4.1L162.3,16.6L149.3,16.6ZM157.3,4.1L163.8,16.6L150.8,16.6ZM158.8,4.1L165.3,16.6L152.3,16.6ZM160.3,4.1L166.8,16.6L153.8,16.6ZM161.7,4.1L168.2,16.6L155.2,16.6ZM163.2,4.1L169.7,16.6L156.7,16.6ZM164.7,4.1L171.2,16.6L158.2,16.6ZM166.2,4.1L172.7,16.6L159.7,16.6ZM167.7,4.1L174.2,16.6L161.2,16.6ZM169.1,4.1L175.6,16.6L162.6,16.6ZM170.6,4.1L177.1,16.6L164.1,16.6ZM172.1,4.1L178.6,16.6L165.6,16.6ZM118,3.6L124.5,16.1L111.5,16.1ZM123.2,3.6L129.7,16.1L116.7,16.1ZM128.4,3.6L134.9,16.1L121.9,16.1ZM133.6,3.6L140.1,16.1L127.1,16.1ZM138.8,3.6L145.3,16.1L132.3,16.1ZM144,3.6L150.5,16.1L137.5,16.1ZM149.2,3.6L155.7,16.1L142.7,16.1ZM154.4,3.6L160.9,16.1L147.9,16.1ZM159.6,3.6L166.1,16.1L153.1,16.1ZM164.8,3.6L171.3,16.1L158.3,16.1ZM170,3.6L176.5,16.1L163.5,16.1ZM121.5,18.5L128,31L115,31ZM122,32.5L128.5,45L115.5,45ZM147.5,14.5L154,27L141,27ZM147.5,17.5L154,30L141,30ZM173.5,27.5L180,40L167,40ZM138.5,71L145,83.5L132,83.5ZM138.5,73L145,85.5L132,85.5ZM138.5,75L145,87.5L132,87.5ZM138.5,78L145,90.5L132,90.5ZM138.5,81L145,93.5L132,93.5ZM138.5,85L145,97.5L132,97.5ZM138.5,90L145,102.5L132,102.5ZM138.5,95L145,107.5L132,107.5ZM138.5,100L145,112.5L132,112.5ZM138.5,105L145,117.5L132,117.5ZM138.5,111L145,123.5L132,123.5ZM138.5,117L145,129.5L132,129.5ZM138.5,123L145,135.5L132,135.5ZM155,58L161.5,70.5L148.5,70.5ZM155,63L161.5,75.5L148.5,75.5ZM155,69L161.5,81.5L148.5,81.5ZM155,75L161.5,87.5L148.5,87.5ZM155,81L161.5,93.5L148.5,93.5ZM155,88L161.5,100.5L148.5,100.5ZM155,94L161.5,106.5L148.5,106.5ZM155,101L161.5,113.5L148.5,113.5ZM155,107L161.5,119.5L148.5,119.5ZM155,112L161.5,124.5L148.5,124.5ZM171,44L177.5,56.5L164.5,56.5ZM172,47L178.5,59.5L165.5,59.5ZM170,50L176.5,62.5L163.5,62.5ZM172,52L178.5,64.5L165.5,64.5ZM175,69L181.5,81.5L168.5,81.5ZM173,75L179.5,87.5L166.5,87.5ZM170,79L176.5,91.5L163.5,91.5ZM174,86L180.5,98.5L167.5,98.5ZM160,63L166.5,75.5L153.5,75.5ZM165,67L171.5,79.5L158.5,79.5ZM161.4,136.5L167.9,149L154.9,149ZM157.5,166.2L164,178.7L151,178.7ZM164,155.8L170.5,168.3L157.5,168.3ZM166.6,112.3L173.1,124.8L160.1,124.8ZM165.9,110.4L172.4,122.9L159.4,122.9ZM162.7,113.4L169.2,125.9L156.2,125.9ZM171.9,145.6L178.4,158.1L165.4,158.1ZM163.6,118.3L170.1,130.8L157.1,130.8ZM175.7,164.1L182.2,176.6L169.2,176.6ZM164.5,159.5L171,172L158,172ZM154,195.8L160.5,208.3L147.5,208.3ZM161.2,185.1L167.7,197.6L154.7,197.6ZM162.3,120.1L168.8,132.6L155.8,132.6ZM171,135.1L177.5,147.6L164.5,147.6ZM167.4,123.4L173.9,135.9L160.9,135.9ZM163.8,165.1L170.3,177.6L157.3,177.6ZM158.2,156.8L164.7,169.3L151.7,169.3ZM163.8,112.4L170.3,124.9L157.3,124.9ZM164.9,168.9L171.4,181.4L158.4,181.4ZM167.7,135.6L174.2,148.1L161.2,148.1ZM163.1,148.2L169.6,160.7L156.6,160.7ZM171.3,179.3L177.8,191.8L164.8,191.8ZM167.5,129.2L174,141.7L161,141.7ZM173.4,154.8L179.9,167.3L166.9,167.3ZM161.7,173.4L168.2,185.9L155.2,185.9ZM156,196.2L162.5,208.7L149.5,208.7ZM170.7,145L177.2,157.5L164.2,157.5ZM166.4,120.8L172.9,133.3L159.9,133.3ZM168,110.6L174.5,123.1L161.5,123.1ZM168.2,176.6L174.7,189.1L161.7,189.1ZM161.7,186.7L168.2,199.2L155.2,199.2ZM168.6,170.3L175.1,182.8L162.1,182.8ZM165.6,159.8L172.1,172.3L159.1,172.3ZM177.5,183.4L184,195.9L171,195.9ZM169.4,150.1L175.9,162.6L162.9,162.6ZM168.4,112.5L174.9,125L161.9,125ZM176.8,165.9L183.3,178.4L170.3,178.4ZM161.2,181.8L167.7,194.3L154.7,194.3ZM169.2,142.1L175.7,154.6L162.7,154.6ZM166.2,109.1L172.7,121.6L159.7,121.6ZM162.1,122.3L168.6,134.8L155.6,134.8ZM169,112.4L175.5,124.9L162.5,124.9ZM163.8,118.8L170.3,131.3L157.3,131.3ZM172.4,142.6L178.9,155.1L165.9,155.1ZM166,114.3L172.5,126.8L159.5,126.8ZM173.8,157L180.3,169.5L167.3,169.5ZM175.4,181.6L181.9,194.1L168.9,194.1ZM165.4,132.3L171.9,144.8L158.9,144.8ZM172.3,139.6L178.8,152.1L165.8,152.1ZM157,194.2L163.5,206.7L150.5,206.7ZM163.4,123L169.9,135.5L156.9,135.5ZM166.3,128.2L172.8,140.7L159.8,140.7ZM161.8,160.6L168.3,173.1L155.3,173.1ZM165.8,107.4L172.3,119.9L159.3,119.9ZM167.5,140.6L174,153.1L161,153.1ZM171.7,193.7L178.2,206.2L165.2,206.2ZM168.7,153.9L175.2,166.4L162.2,166.4ZM156.9,168.5L163.4,181L150.4,181ZM173.8,188.9L180.3,201.4L167.3,201.4ZM174.1,186.6L180.6,199.1L167.6,199.1ZM164.9,142.7L171.4,155.2L158.4,155.2ZM167.9,116.4L174.4,128.9L161.4,128.9ZM162.5,112.7L169,125.2L156,125.2ZM162.4,126L168.9,138.5L155.9,138.5ZM159.9,137.9L166.4,150.4L153.4,150.4ZM163.7,107L170.2,119.5L157.2,119.5ZM165.1,116.2L171.6,128.7L158.6,128.7ZM169.7,109.3L176.2,121.8L163.2,121.8ZM159.4,162.9L165.9,175.4L152.9,175.4ZM164.5,130L171,142.5L158,142.5ZM160.7,140.1L167.2,152.6L154.2,152.6ZM178.8,184.3L185.3,196.8L172.3,196.8ZM166.2,149.4L172.7,161.9L159.7,161.9ZM162.6,114.8L169.1,127.3L156.1,127.3ZM163,138.2L169.5,150.7L156.5,150.7ZM158.2,182.4L164.7,194.9L151.7,194.9ZM170.3,109.1L176.8,121.6L163.8,121.6ZM159.9,155.1L166.4,167.6L153.4,167.6ZM157.6,156.4L164.1,168.9L151.1,168.9ZM175.4,155.1L181.9,167.6L168.9,167.6ZM171.5,185.6L178,198.1L165,198.1ZM164.7,130.8L171.2,143.3L158.2,143.3ZM169.6,122.2L176.1,134.7L163.1,134.7ZM171.7,155.5L178.2,168L165.2,168ZM162.5,137L169,149.5L156,149.5ZM178.2,180.8L184.7,193.3L171.7,193.3ZM174.2,184.6L180.7,197.1L167.7,197.1ZM172.3,181.5L178.8,194L165.8,194ZM166.7,127.6L173.2,140.1L160.2,140.1ZM159.4,139.4L165.9,151.9L152.9,151.9ZM164.6,109.5L171.1,122L158.1,122ZM169,130.6L175.5,143.1L162.5,143.1ZM165.1,194L171.6,206.5L158.6,206.5ZM179.6,192.3L186.1,204.8L173.1,204.8ZM162.8,193.9L169.3,206.4L156.3,206.4ZM163.1,127.1L169.6,139.6L156.6,139.6ZM163,124.9L169.5,137.4L156.5,137.4ZM174.7,163.8L181.2,176.3L168.2,176.3ZM166,183.5L172.5,196L159.5,196ZM172.8,166.4L179.3,178.9L166.3,178.9ZM168.1,114.7L174.6,127.2L161.6,127.2ZM173.9,189.8L180.4,202.3L167.4,202.3ZM166,175.3L172.5,187.8L159.5,187.8ZM169.8,123.2L176.3,135.7L163.3,135.7ZM170.9,137.3L177.4,149.8L164.4,149.8ZM163.6,195.4L170.1,207.9L157.1,207.9ZM173.7,143.5L180.2,156L167.2,156ZM159.1,173L165.6,185.5L152.6,185.5ZM162.8,118.6L169.3,131.1L156.3,131.1ZM174.5,189.3L181,201.8L168,201.8ZM170.1,120.3L176.6,132.8L163.6,132.8ZM170.8,196.2L177.3,208.7L164.3,208.7ZM167.2,138.9L173.7,151.4L160.7,151.4ZM161.3,118.9L167.8,131.4L154.8,131.4ZM170.6,195.4L177.1,207.9L164.1,207.9ZM174.5,154.9L181,167.4L168,167.4ZM172.7,146.5L179.2,159L166.2,159ZM159.4,182.2L165.9,194.7L152.9,194.7ZM163.8,129.9L170.3,142.4L157.3,142.4ZM167.6,128.9L174.1,141.4L161.1,141.4ZM152,138L158.5,150.5L145.5,150.5ZM153,158L159.5,170.5L146.5,170.5ZM151,175L157.5,187.5L144.5,187.5ZM152,189L158.5,201.5L145.5,201.5ZM178,193L184.5,205.5L171.5,205.5ZM183,189L189.5,201.5L176.5,201.5ZM182,181L188.5,193.5L175.5,193.5ZM180,198L186.5,210.5L173.5,210.5ZM119.2,221.3L125.7,233.8L112.7,233.8ZM120.3,231.1L126.8,243.6L113.8,243.6ZM120.3,239.8L126.8,252.3L113.8,252.3ZM121.3,250.7L127.8,263.2L114.8,263.2ZM122.4,262.7L128.9,275.2L115.9,275.2ZM123.5,274.7L130,287.2L117,287.2ZM124.6,291L131.1,303.5L118.1,303.5ZM126.4,306.3L132.9,318.8L119.9,318.8ZM127.9,324.8L134.4,337.3L121.4,337.3ZM129,340L135.5,352.5L122.5,352.5ZM131.1,360.8L137.6,373.3L124.6,373.3ZM132.9,380.4L139.4,392.9L126.4,392.9ZM135,395.6L141.5,408.1L128.5,408.1ZM138,395.6L144.5,408.1L131.5,408.1ZM141,395.6L147.5,408.1L134.5,408.1ZM155,210L161.5,222.5L148.5,222.5ZM156,215L162.5,227.5L149.5,227.5ZM154,221L160.5,233.5L147.5,233.5ZM153,226L159.5,238.5L146.5,238.5ZM152,231L158.5,243.5L145.5,243.5ZM150,236L156.5,248.5L143.5,248.5ZM147,241L153.5,253.5L140.5,253.5ZM152,243L158.5,255.5L145.5,255.5ZM156,247L162.5,259.5L149.5,259.5ZM146,249L152.5,261.5L139.5,261.5ZM150,255L156.5,267.5L143.5,267.5ZM155,255L161.5,267.5L148.5,267.5ZM149,261L155.5,273.5L142.5,273.5ZM145,265L151.5,277.5L138.5,277.5ZM143.1,341.1L149.6,353.6L136.6,353.6ZM154,202L160.5,214.5L147.5,214.5ZM156,198L162.5,210.5L149.5,210.5ZM160,200L166.5,212.5L153.5,212.5ZM170,200L176.5,212.5L163.5,212.5ZM176,201L182.5,213.5L169.5,213.5ZM182,201L188.5,213.5L175.5,213.5ZM173,197L179.5,209.5L166.5,209.5Z" stroke="#edb120" stroke-width="1.3" fill="none" stroke-linejoin="miter"/>
<g stroke="#262626" stroke-width="2" fill="none">
<rect x="112.5" y="12.5" width="569.3" height="390.8"/>
<path d="M112.5,51.5H118.5 M681.8,51.5H675.8"/>
<path d="M112.5,129.6H118.5 M681.8,129.6H675.8"/>
<path d="M112.5,207.8H118.5 M681.8,207.8H675.8"/>
<path d="M112.5,285.9H118.5 M681.8,285.9H675.8"/>
<path d="M112.5,364H118.5 M681.8,364H675.8"/>
<path d="M290.4,403.3V397.3 M290.4,12.5V18.5"/>
<path d="M468.7,403.3V397.3 M468.7,12.5V18.5"/>
<path d="M647,403.3V397.3 M647,12.5V18.5"/>
</g>
<text font-family="Liberation Serif" fill="#000" font-size="28" text-anchor="end" transform="translate(102.2,62.6) scale(1.0,1.08)">1000</text>
<text font-family="Liberation Serif" fill="#000" font-size="28" text-anchor="end" transform="translate(102.2,140.7) scale(1.0,1.08)">500</text>
<text font-family="Liberation Serif" fill="#000" font-size="28" text-anchor="end" transform="translate(102.2,218.8) scale(1.0,1.08)">0</text>
<text font-family="Liberation Serif" fill="#000" font-size="28" text-anchor="end" transform="translate(102.2,297) scale(1.0,1.08)"><tspan>-</tspan><tspan dx="1.6">500</tspan></text>
<text font-family="Liberation Serif" fill="#000" font-size="28" text-anchor="end" transform="translate(102.2,375.1) scale(1.0,1.08)"><tspan>-</tspan><tspan dx="1.6">1000</tspan></text>
<text font-family="Liberation Serif" fill="#000" font-size="28" text-anchor="middle" transform="translate(112.8,440.5) scale(1.0,1.09)">0</text>
<text font-family="Liberation Serif" fill="#000" font-size="28" text-anchor="middle" transform="translate(291.1,440.5) scale(1.0,1.09)">500</text>
<text font-family="Liberation Serif" fill="#000" font-size="28" text-anchor="middle" transform="translate(469.3,440.5) scale(1.0,1.09)">1000</text>
<text font-family="Liberation Serif" fill="#000" font-size="28" text-anchor="middle" transform="translate(647.6,440.5) scale(1.0,1.09)">1500</text>
<text font-family="Liberation Serif" fill="#000" font-size="31.9" text-anchor="middle" transform="translate(398,477) scale(1.0,1.045)">Speed (r/min)</text>
<text font-family="Liberation Serif" fill="#000" font-size="31.5" text-anchor="middle" transform="translate(23,208.1) rotate(-90) scale(1.023,1)">Torque (Nm)</text>
<text font-family="Liberation Serif" fill="#000" font-size="30.4" text-anchor="middle" transform="translate(370,517) scale(1.0,1.07)">(a) MAP-efficiency profile</text>
<g stroke="#000" stroke-opacity="0.125" stroke-width="1.8" fill="none">
<path d="M213.6,871.5V574"/>
<path d="M98.2,812H675"/>
<path d="M328.9,871.5V574"/>
<path d="M98.2,752.5H675"/>
<path d="M444.3,871.5V574"/>
<path d="M98.2,693H675"/>
<path d="M559.6,871.5V574"/>
<path d="M98.2,633.5H675"/>
<path d="M675,871.5V574"/>
<path d="M98.2,574H675"/>
</g>
<rect x="220.3" y="595.2" width="54.5" height="23.5" fill="#0072bd" stroke="#1a1a1a" stroke-width="1"/>
<rect x="220.3" y="627.5" width="54.5" height="23.5" fill="#d95319" stroke="#1a1a1a" stroke-width="1"/>
<text font-family="Liberation Serif" fill="#000" font-size="27.3" text-anchor="start" transform="translate(279,617.3) scale(1.0,1.0)">Re-planned by PGLOSA</text>
<text font-family="Liberation Serif" fill="#000" font-size="27.3" text-anchor="start" transform="translate(279,649.2) scale(1.0,1.0)">Re-planned by PS</text>
<rect x="125.7" y="845.3" width="27" height="26.2" fill="#0072bd" stroke="#1a1a1a" stroke-width="1"/>
<rect x="159" y="852.6" width="27" height="18.9" fill="#d95319" stroke="#1a1a1a" stroke-width="1"/>
<rect x="241.1" y="825.5" width="27" height="46" fill="#0072bd" stroke="#1a1a1a" stroke-width="1"/>
<rect x="274.4" y="833.4" width="27" height="38.1" fill="#d95319" stroke="#1a1a1a" stroke-width="1"/>
<rect x="356.4" y="793.3" width="27" height="78.2" fill="#0072bd" stroke="#1a1a1a" stroke-width="1"/>
<rect x="389.7" y="798.3" width="27" height="73.2" fill="#d95319" stroke="#1a1a1a" stroke-width="1"/>
<rect x="471.8" y="724.2" width="27" height="147.3" fill="#0072bd" stroke="#1a1a1a" stroke-width="1"/>
<rect x="505.1" y="707.3" width="27" height="164.2" fill="#d95319" stroke="#1a1a1a" stroke-width="1"/>
<rect x="620.5" y="866.9" width="27" height="4.6" fill="#d95319" stroke="#1a1a1a" stroke-width="1"/>
<g stroke="#262626" stroke-width="2" fill="none">
<path d="M98.2,574V871.5H675"/>
<path d="M213.6,871.5V865.5"/>
<path d="M98.2,812H104.2"/>
<path d="M328.9,871.5V865.5"/>
<path d="M98.2,752.5H104.2"/>
<path d="M444.3,871.5V865.5"/>
<path d="M98.2,693H104.2"/>
<path d="M559.6,871.5V865.5"/>
<path d="M98.2,633.5H104.2"/>
<path d="M675,871.5V865.5"/>
<path d="M98.2,574H104.2"/>
</g>
<text font-family="Liberation Serif" fill="#000" font-size="27.5" text-anchor="end" transform="translate(88,881.6) scale(0.98,1.01)">0</text>
<text font-family="Liberation Serif" fill="#000" font-size="27.5" text-anchor="end" transform="translate(88,822.1) scale(0.98,1.01)">0.2</text>
<text font-family="Liberation Serif" fill="#000" font-size="27.5" text-anchor="end" transform="translate(88,762.6) scale(0.98,1.01)">0.4</text>
<text font-family="Liberation Serif" fill="#000" font-size="27.5" text-anchor="end" transform="translate(88,703.1) scale(0.98,1.01)">0.6</text>
<text font-family="Liberation Serif" fill="#000" font-size="27.5" text-anchor="end" transform="translate(88,643.6) scale(0.98,1.01)">0.8</text>
<text font-family="Liberation Serif" fill="#000" font-size="27.5" text-anchor="end" transform="translate(88,584.1) scale(0.98,1.01)">1</text>
<text font-family="Liberation Serif" fill="#000" font-size="27.5" text-anchor="middle" transform="translate(98.2,905.6) scale(0.98,1.0)">0</text>
<text font-family="Liberation Serif" fill="#000" font-size="27.5" text-anchor="middle" transform="translate(213.6,905.6) scale(0.98,1.0)">0.2</text>
<text font-family="Liberation Serif" fill="#000" font-size="27.5" text-anchor="middle" transform="translate(328.9,905.6) scale(0.98,1.0)">0.4</text>
<text font-family="Liberation Serif" fill="#000" font-size="27.5" text-anchor="middle" transform="translate(444.3,905.6) scale(0.98,1.0)">0.6</text>
<text font-family="Liberation Serif" fill="#000" font-size="27.5" text-anchor="middle" transform="translate(559.6,905.6) scale(0.98,1.0)">0.8</text>
<text font-family="Liberation Serif" fill="#000" font-size="27.5" text-anchor="middle" transform="translate(675,905.6) scale(0.98,1.0)">1</text>
<text font-family="Liberation Serif" fill="#000" font-size="29.7" text-anchor="middle" transform="translate(386,940.4) scale(1.0,1.065)">Efficiency</text>
<text font-family="Liberation Serif" fill="#000" font-size="30" text-anchor="middle" transform="translate(43,723) rotate(-90)">Frequency</text>
<text font-family="Liberation Serif" fill="#000" font-size="30.2" text-anchor="middle" transform="translate(370,980.3) scale(1.0,1.065)">(b) Statistics of working efficiency</text>
</svg>
</body></html>
